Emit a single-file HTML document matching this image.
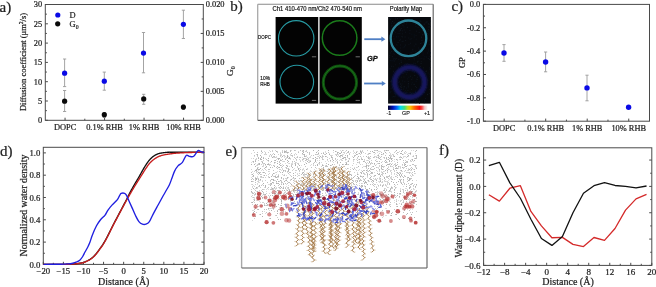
<!DOCTYPE html>
<html><head><meta charset="utf-8"><style>
html,body{margin:0;padding:0;background:#fff;}
body{width:656px;height:287px;overflow:hidden;}
svg{display:block;filter:blur(0.3px);}
</style></head><body>
<svg width="656" height="287" viewBox="0 0 656 287">
<rect width="656" height="287" fill="#fff"/>
<rect x="45.30" y="4.50" width="158.00" height="115.80" fill="none" stroke="#4a4a4a" stroke-width="1"/>
<line x1="45.30" y1="120.30" x2="47.90" y2="120.30" stroke="#4a4a4a" stroke-width="1" />
<text x="42.10" y="123.20" font-size="8.4" text-anchor="end" font-family="Liberation Serif" fill="#222"  stroke="#222" stroke-width="0.22">0</text>
<line x1="45.30" y1="110.65" x2="46.90" y2="110.65" stroke="#4a4a4a" stroke-width="1" />
<line x1="45.30" y1="101.00" x2="47.90" y2="101.00" stroke="#4a4a4a" stroke-width="1" />
<text x="42.10" y="103.90" font-size="8.4" text-anchor="end" font-family="Liberation Serif" fill="#222"  stroke="#222" stroke-width="0.22">5</text>
<line x1="45.30" y1="91.35" x2="46.90" y2="91.35" stroke="#4a4a4a" stroke-width="1" />
<line x1="45.30" y1="81.70" x2="47.90" y2="81.70" stroke="#4a4a4a" stroke-width="1" />
<text x="42.10" y="84.60" font-size="8.4" text-anchor="end" font-family="Liberation Serif" fill="#222"  stroke="#222" stroke-width="0.22">10</text>
<line x1="45.30" y1="72.05" x2="46.90" y2="72.05" stroke="#4a4a4a" stroke-width="1" />
<line x1="45.30" y1="62.40" x2="47.90" y2="62.40" stroke="#4a4a4a" stroke-width="1" />
<text x="42.10" y="65.30" font-size="8.4" text-anchor="end" font-family="Liberation Serif" fill="#222"  stroke="#222" stroke-width="0.22">15</text>
<line x1="45.30" y1="52.75" x2="46.90" y2="52.75" stroke="#4a4a4a" stroke-width="1" />
<line x1="45.30" y1="43.10" x2="47.90" y2="43.10" stroke="#4a4a4a" stroke-width="1" />
<text x="42.10" y="46.00" font-size="8.4" text-anchor="end" font-family="Liberation Serif" fill="#222"  stroke="#222" stroke-width="0.22">20</text>
<line x1="45.30" y1="33.45" x2="46.90" y2="33.45" stroke="#4a4a4a" stroke-width="1" />
<line x1="45.30" y1="23.80" x2="47.90" y2="23.80" stroke="#4a4a4a" stroke-width="1" />
<text x="42.10" y="26.70" font-size="8.4" text-anchor="end" font-family="Liberation Serif" fill="#222"  stroke="#222" stroke-width="0.22">25</text>
<line x1="45.30" y1="14.15" x2="46.90" y2="14.15" stroke="#4a4a4a" stroke-width="1" />
<line x1="45.30" y1="4.50" x2="47.90" y2="4.50" stroke="#4a4a4a" stroke-width="1" />
<text x="42.10" y="7.40" font-size="8.4" text-anchor="end" font-family="Liberation Serif" fill="#222"  stroke="#222" stroke-width="0.22">30</text>
<line x1="203.30" y1="120.30" x2="200.70" y2="120.30" stroke="#4a4a4a" stroke-width="1" />
<text x="205.70" y="123.20" font-size="8.4" text-anchor="start" font-family="Liberation Serif" fill="#222"  stroke="#222" stroke-width="0.22">0.000</text>
<line x1="203.30" y1="105.83" x2="201.70" y2="105.83" stroke="#4a4a4a" stroke-width="1" />
<line x1="203.30" y1="91.35" x2="200.70" y2="91.35" stroke="#4a4a4a" stroke-width="1" />
<text x="205.70" y="94.25" font-size="8.4" text-anchor="start" font-family="Liberation Serif" fill="#222"  stroke="#222" stroke-width="0.22">0.005</text>
<line x1="203.30" y1="76.88" x2="201.70" y2="76.88" stroke="#4a4a4a" stroke-width="1" />
<line x1="203.30" y1="62.40" x2="200.70" y2="62.40" stroke="#4a4a4a" stroke-width="1" />
<text x="205.70" y="65.30" font-size="8.4" text-anchor="start" font-family="Liberation Serif" fill="#222"  stroke="#222" stroke-width="0.22">0.010</text>
<line x1="203.30" y1="47.92" x2="201.70" y2="47.92" stroke="#4a4a4a" stroke-width="1" />
<line x1="203.30" y1="33.45" x2="200.70" y2="33.45" stroke="#4a4a4a" stroke-width="1" />
<text x="205.70" y="36.35" font-size="8.4" text-anchor="start" font-family="Liberation Serif" fill="#222"  stroke="#222" stroke-width="0.22">0.015</text>
<line x1="203.30" y1="18.97" x2="201.70" y2="18.97" stroke="#4a4a4a" stroke-width="1" />
<line x1="203.30" y1="4.50" x2="200.70" y2="4.50" stroke="#4a4a4a" stroke-width="1" />
<text x="205.70" y="7.40" font-size="8.4" text-anchor="start" font-family="Liberation Serif" fill="#222"  stroke="#222" stroke-width="0.22">0.020</text>
<line x1="65.05" y1="120.30" x2="65.05" y2="117.70" stroke="#4a4a4a" stroke-width="1" />
<text x="65.05" y="129.90" font-size="8.4" text-anchor="middle" font-family="Liberation Serif" fill="#222"  stroke="#222" stroke-width="0.22">DOPC</text>
<line x1="84.80" y1="120.30" x2="84.80" y2="118.70" stroke="#4a4a4a" stroke-width="1" />
<line x1="104.55" y1="120.30" x2="104.55" y2="117.70" stroke="#4a4a4a" stroke-width="1" />
<text x="104.55" y="129.90" font-size="8.4" text-anchor="middle" font-family="Liberation Serif" fill="#222"  stroke="#222" stroke-width="0.22">0.1% RHB</text>
<line x1="124.30" y1="120.30" x2="124.30" y2="118.70" stroke="#4a4a4a" stroke-width="1" />
<line x1="144.05" y1="120.30" x2="144.05" y2="117.70" stroke="#4a4a4a" stroke-width="1" />
<text x="144.05" y="129.90" font-size="8.4" text-anchor="middle" font-family="Liberation Serif" fill="#222"  stroke="#222" stroke-width="0.22">1% RHB</text>
<line x1="163.80" y1="120.30" x2="163.80" y2="118.70" stroke="#4a4a4a" stroke-width="1" />
<line x1="183.55" y1="120.30" x2="183.55" y2="117.70" stroke="#4a4a4a" stroke-width="1" />
<text x="183.55" y="129.90" font-size="8.4" text-anchor="middle" font-family="Liberation Serif" fill="#222"  stroke="#222" stroke-width="0.22">10% RHB</text>
<line x1="64.60" y1="59.00" x2="64.60" y2="86.60" stroke="#9a9a9a" stroke-width="0.9" />
<line x1="63.00" y1="59.00" x2="66.20" y2="59.00" stroke="#9a9a9a" stroke-width="0.9" />
<line x1="63.00" y1="86.60" x2="66.20" y2="86.60" stroke="#9a9a9a" stroke-width="0.9" />
<line x1="104.30" y1="72.10" x2="104.30" y2="90.20" stroke="#9a9a9a" stroke-width="0.9" />
<line x1="102.70" y1="72.10" x2="105.90" y2="72.10" stroke="#9a9a9a" stroke-width="0.9" />
<line x1="102.70" y1="90.20" x2="105.90" y2="90.20" stroke="#9a9a9a" stroke-width="0.9" />
<line x1="143.50" y1="32.50" x2="143.50" y2="72.80" stroke="#9a9a9a" stroke-width="0.9" />
<line x1="141.90" y1="32.50" x2="145.10" y2="32.50" stroke="#9a9a9a" stroke-width="0.9" />
<line x1="141.90" y1="72.80" x2="145.10" y2="72.80" stroke="#9a9a9a" stroke-width="0.9" />
<line x1="183.40" y1="10.20" x2="183.40" y2="38.50" stroke="#9a9a9a" stroke-width="0.9" />
<line x1="181.80" y1="10.20" x2="185.00" y2="10.20" stroke="#9a9a9a" stroke-width="0.9" />
<line x1="181.80" y1="38.50" x2="185.00" y2="38.50" stroke="#9a9a9a" stroke-width="0.9" />
<line x1="64.60" y1="90.50" x2="64.60" y2="111.50" stroke="#9a9a9a" stroke-width="0.9" />
<line x1="63.00" y1="90.50" x2="66.20" y2="90.50" stroke="#9a9a9a" stroke-width="0.9" />
<line x1="63.00" y1="111.50" x2="66.20" y2="111.50" stroke="#9a9a9a" stroke-width="0.9" />
<line x1="104.30" y1="112.50" x2="104.30" y2="117.50" stroke="#9a9a9a" stroke-width="0.9" />
<line x1="102.70" y1="112.50" x2="105.90" y2="112.50" stroke="#9a9a9a" stroke-width="0.9" />
<line x1="102.70" y1="117.50" x2="105.90" y2="117.50" stroke="#9a9a9a" stroke-width="0.9" />
<line x1="143.70" y1="94.30" x2="143.70" y2="104.30" stroke="#9a9a9a" stroke-width="0.9" />
<line x1="142.10" y1="94.30" x2="145.30" y2="94.30" stroke="#9a9a9a" stroke-width="0.9" />
<line x1="142.10" y1="104.30" x2="145.30" y2="104.30" stroke="#9a9a9a" stroke-width="0.9" />
<line x1="183.40" y1="105.00" x2="183.40" y2="109.50" stroke="#9a9a9a" stroke-width="0.9" />
<line x1="181.80" y1="105.00" x2="185.00" y2="105.00" stroke="#9a9a9a" stroke-width="0.9" />
<line x1="181.80" y1="109.50" x2="185.00" y2="109.50" stroke="#9a9a9a" stroke-width="0.9" />
<circle cx="64.60" cy="73.20" r="2.6" fill="#0a0ae6"/>
<circle cx="104.30" cy="81.20" r="2.6" fill="#0a0ae6"/>
<circle cx="143.50" cy="53.10" r="2.6" fill="#0a0ae6"/>
<circle cx="183.40" cy="24.30" r="2.6" fill="#0a0ae6"/>
<circle cx="64.60" cy="101.20" r="2.6" fill="#0a0a0a"/>
<circle cx="104.30" cy="114.70" r="2.6" fill="#0a0a0a"/>
<circle cx="143.70" cy="98.90" r="2.6" fill="#0a0a0a"/>
<circle cx="183.40" cy="107.10" r="2.6" fill="#0a0a0a"/>
<circle cx="57.80" cy="15.00" r="2.6" fill="#0a0ae6"/>
<circle cx="57.70" cy="23.80" r="2.6" fill="#0a0a0a"/>
<text x="69.60" y="17.90" font-size="8.4" text-anchor="start" font-family="Liberation Serif" fill="#222"  stroke="#222" stroke-width="0.22">D</text>
<text x="69.60" y="26.60" font-size="8.4" text-anchor="start" font-family="Liberation Serif" fill="#222"  stroke="#222" stroke-width="0.22">G<tspan font-size="5.8" dy="2.2">0</tspan></text>
<text transform="translate(26.4,62) rotate(-90)" font-size="8.5" text-anchor="middle" font-family="Liberation Serif" fill="#222" stroke="#222" stroke-width="0.22">Diffusion coefficient (μm<tspan font-size="5.6" dy="-3">2</tspan><tspan dy="3">/s)</tspan></text>
<text transform="translate(232.6,71.2) rotate(-90)" font-size="9.2" text-anchor="middle" font-family="Liberation Serif" fill="#222" stroke="#222" stroke-width="0.22">G<tspan font-size="5.8" dy="2.2">0</tspan></text>
<text x="-0.50" y="11.60" font-size="15" text-anchor="start" font-family="Liberation Serif" fill="#222"  stroke="#222" stroke-width="0.22">a)</text>
<rect x="483.40" y="4.40" width="166.10" height="116.80" fill="none" stroke="#4a4a4a" stroke-width="1"/>
<line x1="483.40" y1="4.40" x2="486.00" y2="4.40" stroke="#4a4a4a" stroke-width="1" />
<text x="480.20" y="7.30" font-size="8.4" text-anchor="end" font-family="Liberation Serif" fill="#222"  stroke="#222" stroke-width="0.22">0.0</text>
<line x1="483.40" y1="16.08" x2="485.00" y2="16.08" stroke="#4a4a4a" stroke-width="1" />
<line x1="483.40" y1="27.76" x2="486.00" y2="27.76" stroke="#4a4a4a" stroke-width="1" />
<text x="480.20" y="30.66" font-size="8.4" text-anchor="end" font-family="Liberation Serif" fill="#222"  stroke="#222" stroke-width="0.22">-0.2</text>
<line x1="483.40" y1="39.44" x2="485.00" y2="39.44" stroke="#4a4a4a" stroke-width="1" />
<line x1="483.40" y1="51.12" x2="486.00" y2="51.12" stroke="#4a4a4a" stroke-width="1" />
<text x="480.20" y="54.02" font-size="8.4" text-anchor="end" font-family="Liberation Serif" fill="#222"  stroke="#222" stroke-width="0.22">-0.4</text>
<line x1="483.40" y1="62.80" x2="485.00" y2="62.80" stroke="#4a4a4a" stroke-width="1" />
<line x1="483.40" y1="74.48" x2="486.00" y2="74.48" stroke="#4a4a4a" stroke-width="1" />
<text x="480.20" y="77.38" font-size="8.4" text-anchor="end" font-family="Liberation Serif" fill="#222"  stroke="#222" stroke-width="0.22">-0.6</text>
<line x1="483.40" y1="86.16" x2="485.00" y2="86.16" stroke="#4a4a4a" stroke-width="1" />
<line x1="483.40" y1="97.84" x2="486.00" y2="97.84" stroke="#4a4a4a" stroke-width="1" />
<text x="480.20" y="100.74" font-size="8.4" text-anchor="end" font-family="Liberation Serif" fill="#222"  stroke="#222" stroke-width="0.22">-0.8</text>
<line x1="483.40" y1="109.52" x2="485.00" y2="109.52" stroke="#4a4a4a" stroke-width="1" />
<line x1="483.40" y1="121.20" x2="486.00" y2="121.20" stroke="#4a4a4a" stroke-width="1" />
<text x="480.20" y="124.10" font-size="8.4" text-anchor="end" font-family="Liberation Serif" fill="#222"  stroke="#222" stroke-width="0.22">-1.0</text>
<line x1="504.16" y1="121.20" x2="504.16" y2="118.60" stroke="#4a4a4a" stroke-width="1" />
<text x="504.16" y="130.80" font-size="8.4" text-anchor="middle" font-family="Liberation Serif" fill="#222"  stroke="#222" stroke-width="0.22">DOPC</text>
<line x1="524.92" y1="121.20" x2="524.92" y2="119.60" stroke="#4a4a4a" stroke-width="1" />
<line x1="545.69" y1="121.20" x2="545.69" y2="118.60" stroke="#4a4a4a" stroke-width="1" />
<text x="545.69" y="130.80" font-size="8.4" text-anchor="middle" font-family="Liberation Serif" fill="#222"  stroke="#222" stroke-width="0.22">0.1% RHB</text>
<line x1="566.45" y1="121.20" x2="566.45" y2="119.60" stroke="#4a4a4a" stroke-width="1" />
<line x1="587.21" y1="121.20" x2="587.21" y2="118.60" stroke="#4a4a4a" stroke-width="1" />
<text x="587.21" y="130.80" font-size="8.4" text-anchor="middle" font-family="Liberation Serif" fill="#222"  stroke="#222" stroke-width="0.22">1% RHB</text>
<line x1="607.98" y1="121.20" x2="607.98" y2="119.60" stroke="#4a4a4a" stroke-width="1" />
<line x1="628.74" y1="121.20" x2="628.74" y2="118.60" stroke="#4a4a4a" stroke-width="1" />
<text x="628.74" y="130.80" font-size="8.4" text-anchor="middle" font-family="Liberation Serif" fill="#222"  stroke="#222" stroke-width="0.22">10% RHB</text>
<line x1="504.00" y1="44.60" x2="504.00" y2="61.30" stroke="#9a9a9a" stroke-width="0.9" />
<line x1="502.40" y1="44.60" x2="505.60" y2="44.60" stroke="#9a9a9a" stroke-width="0.9" />
<line x1="502.40" y1="61.30" x2="505.60" y2="61.30" stroke="#9a9a9a" stroke-width="0.9" />
<line x1="545.60" y1="52.00" x2="545.60" y2="71.80" stroke="#9a9a9a" stroke-width="0.9" />
<line x1="544.00" y1="52.00" x2="547.20" y2="52.00" stroke="#9a9a9a" stroke-width="0.9" />
<line x1="544.00" y1="71.80" x2="547.20" y2="71.80" stroke="#9a9a9a" stroke-width="0.9" />
<line x1="587.00" y1="75.20" x2="587.00" y2="100.80" stroke="#9a9a9a" stroke-width="0.9" />
<line x1="585.40" y1="75.20" x2="588.60" y2="75.20" stroke="#9a9a9a" stroke-width="0.9" />
<line x1="585.40" y1="100.80" x2="588.60" y2="100.80" stroke="#9a9a9a" stroke-width="0.9" />
<circle cx="504.00" cy="53.00" r="2.7" fill="#0a0ae6"/>
<circle cx="545.60" cy="62.00" r="2.7" fill="#0a0ae6"/>
<circle cx="587.00" cy="87.90" r="2.7" fill="#0a0ae6"/>
<circle cx="628.60" cy="107.20" r="2.7" fill="#0a0ae6"/>
<text transform="translate(465,62.6) rotate(-90)" font-size="8.5" text-anchor="middle" font-family="Liberation Serif" fill="#222" stroke="#222" stroke-width="0.22">GP</text>
<text x="451.40" y="11.20" font-size="15" text-anchor="start" font-family="Liberation Serif" fill="#222"  stroke="#222" stroke-width="0.22">c)</text>
<rect x="43.30" y="147.30" width="160.70" height="117.10" fill="none" stroke="#4a4a4a" stroke-width="1"/>
<line x1="43.30" y1="264.40" x2="43.30" y2="261.80" stroke="#4a4a4a" stroke-width="1" />
<text x="43.30" y="274.10" font-size="8.7" text-anchor="middle" font-family="Liberation Serif" fill="#222"  stroke="#222" stroke-width="0.22">−20</text>
<line x1="53.34" y1="264.40" x2="53.34" y2="262.80" stroke="#4a4a4a" stroke-width="1" />
<line x1="63.39" y1="264.40" x2="63.39" y2="261.80" stroke="#4a4a4a" stroke-width="1" />
<text x="63.39" y="274.10" font-size="8.7" text-anchor="middle" font-family="Liberation Serif" fill="#222"  stroke="#222" stroke-width="0.22">−15</text>
<line x1="73.43" y1="264.40" x2="73.43" y2="262.80" stroke="#4a4a4a" stroke-width="1" />
<line x1="83.47" y1="264.40" x2="83.47" y2="261.80" stroke="#4a4a4a" stroke-width="1" />
<text x="83.47" y="274.10" font-size="8.7" text-anchor="middle" font-family="Liberation Serif" fill="#222"  stroke="#222" stroke-width="0.22">−10</text>
<line x1="93.52" y1="264.40" x2="93.52" y2="262.80" stroke="#4a4a4a" stroke-width="1" />
<line x1="103.56" y1="264.40" x2="103.56" y2="261.80" stroke="#4a4a4a" stroke-width="1" />
<text x="103.56" y="274.10" font-size="8.7" text-anchor="middle" font-family="Liberation Serif" fill="#222"  stroke="#222" stroke-width="0.22">−5</text>
<line x1="113.61" y1="264.40" x2="113.61" y2="262.80" stroke="#4a4a4a" stroke-width="1" />
<line x1="123.65" y1="264.40" x2="123.65" y2="261.80" stroke="#4a4a4a" stroke-width="1" />
<text x="123.65" y="274.10" font-size="8.7" text-anchor="middle" font-family="Liberation Serif" fill="#222"  stroke="#222" stroke-width="0.22">0</text>
<line x1="133.69" y1="264.40" x2="133.69" y2="262.80" stroke="#4a4a4a" stroke-width="1" />
<line x1="143.74" y1="264.40" x2="143.74" y2="261.80" stroke="#4a4a4a" stroke-width="1" />
<text x="143.74" y="274.10" font-size="8.7" text-anchor="middle" font-family="Liberation Serif" fill="#222"  stroke="#222" stroke-width="0.22">5</text>
<line x1="153.78" y1="264.40" x2="153.78" y2="262.80" stroke="#4a4a4a" stroke-width="1" />
<line x1="163.82" y1="264.40" x2="163.82" y2="261.80" stroke="#4a4a4a" stroke-width="1" />
<text x="163.82" y="274.10" font-size="8.7" text-anchor="middle" font-family="Liberation Serif" fill="#222"  stroke="#222" stroke-width="0.22">10</text>
<line x1="173.87" y1="264.40" x2="173.87" y2="262.80" stroke="#4a4a4a" stroke-width="1" />
<line x1="183.91" y1="264.40" x2="183.91" y2="261.80" stroke="#4a4a4a" stroke-width="1" />
<text x="183.91" y="274.10" font-size="8.7" text-anchor="middle" font-family="Liberation Serif" fill="#222"  stroke="#222" stroke-width="0.22">15</text>
<line x1="193.96" y1="264.40" x2="193.96" y2="262.80" stroke="#4a4a4a" stroke-width="1" />
<line x1="204.00" y1="264.40" x2="204.00" y2="261.80" stroke="#4a4a4a" stroke-width="1" />
<text x="204.00" y="274.10" font-size="8.7" text-anchor="middle" font-family="Liberation Serif" fill="#222"  stroke="#222" stroke-width="0.22">20</text>
<line x1="43.30" y1="264.40" x2="45.90" y2="264.40" stroke="#4a4a4a" stroke-width="1" />
<line x1="204.00" y1="264.40" x2="201.40" y2="264.40" stroke="#4a4a4a" stroke-width="1" />
<text x="40.30" y="267.70" font-size="8.7" text-anchor="end" font-family="Liberation Serif" fill="#222"  stroke="#222" stroke-width="0.22">0.0</text>
<line x1="43.30" y1="253.25" x2="44.90" y2="253.25" stroke="#4a4a4a" stroke-width="1" />
<line x1="204.00" y1="253.25" x2="202.40" y2="253.25" stroke="#4a4a4a" stroke-width="1" />
<line x1="43.30" y1="242.10" x2="45.90" y2="242.10" stroke="#4a4a4a" stroke-width="1" />
<line x1="204.00" y1="242.10" x2="201.40" y2="242.10" stroke="#4a4a4a" stroke-width="1" />
<text x="40.30" y="245.40" font-size="8.7" text-anchor="end" font-family="Liberation Serif" fill="#222"  stroke="#222" stroke-width="0.22">0.2</text>
<line x1="43.30" y1="230.94" x2="44.90" y2="230.94" stroke="#4a4a4a" stroke-width="1" />
<line x1="204.00" y1="230.94" x2="202.40" y2="230.94" stroke="#4a4a4a" stroke-width="1" />
<line x1="43.30" y1="219.79" x2="45.90" y2="219.79" stroke="#4a4a4a" stroke-width="1" />
<line x1="204.00" y1="219.79" x2="201.40" y2="219.79" stroke="#4a4a4a" stroke-width="1" />
<text x="40.30" y="223.09" font-size="8.7" text-anchor="end" font-family="Liberation Serif" fill="#222"  stroke="#222" stroke-width="0.22">0.4</text>
<line x1="43.30" y1="208.64" x2="44.90" y2="208.64" stroke="#4a4a4a" stroke-width="1" />
<line x1="204.00" y1="208.64" x2="202.40" y2="208.64" stroke="#4a4a4a" stroke-width="1" />
<line x1="43.30" y1="197.49" x2="45.90" y2="197.49" stroke="#4a4a4a" stroke-width="1" />
<line x1="204.00" y1="197.49" x2="201.40" y2="197.49" stroke="#4a4a4a" stroke-width="1" />
<text x="40.30" y="200.79" font-size="8.7" text-anchor="end" font-family="Liberation Serif" fill="#222"  stroke="#222" stroke-width="0.22">0.6</text>
<line x1="43.30" y1="186.33" x2="44.90" y2="186.33" stroke="#4a4a4a" stroke-width="1" />
<line x1="204.00" y1="186.33" x2="202.40" y2="186.33" stroke="#4a4a4a" stroke-width="1" />
<line x1="43.30" y1="175.18" x2="45.90" y2="175.18" stroke="#4a4a4a" stroke-width="1" />
<line x1="204.00" y1="175.18" x2="201.40" y2="175.18" stroke="#4a4a4a" stroke-width="1" />
<text x="40.30" y="178.48" font-size="8.7" text-anchor="end" font-family="Liberation Serif" fill="#222"  stroke="#222" stroke-width="0.22">0.8</text>
<line x1="43.30" y1="164.03" x2="44.90" y2="164.03" stroke="#4a4a4a" stroke-width="1" />
<line x1="204.00" y1="164.03" x2="202.40" y2="164.03" stroke="#4a4a4a" stroke-width="1" />
<line x1="43.30" y1="152.88" x2="45.90" y2="152.88" stroke="#4a4a4a" stroke-width="1" />
<line x1="204.00" y1="152.88" x2="201.40" y2="152.88" stroke="#4a4a4a" stroke-width="1" />
<text x="40.30" y="156.18" font-size="8.7" text-anchor="end" font-family="Liberation Serif" fill="#222"  stroke="#222" stroke-width="0.22">1.0</text>
<text x="123.75" y="285.30" font-size="10" text-anchor="middle" font-family="Liberation Serif" fill="#222"  stroke="#222" stroke-width="0.22">Distance (Å)</text>
<text transform="translate(26.6,205.5) rotate(-90)" font-size="9.9" text-anchor="middle" font-family="Liberation Serif" fill="#222" stroke="#222" stroke-width="0.22">Normalized water density</text>
<text x="0.00" y="155.90" font-size="15" text-anchor="start" font-family="Liberation Serif" fill="#222"  stroke="#222" stroke-width="0.22">d)</text>
<path d="M43.80,264.40 L44.30,264.40 L44.81,264.40 L45.31,264.39 L45.82,264.39 L46.32,264.39 L46.83,264.39 L47.33,264.39 L47.84,264.38 L48.34,264.38 L48.85,264.38 L49.35,264.38 L49.85,264.38 L50.36,264.38 L50.86,264.38 L51.37,264.37 L51.87,264.37 L52.38,264.37 L52.88,264.37 L53.39,264.37 L53.89,264.37 L54.40,264.36 L54.90,264.36 L55.40,264.36 L55.91,264.36 L56.41,264.36 L56.92,264.36 L57.42,264.35 L57.93,264.35 L58.43,264.35 L58.94,264.35 L59.44,264.34 L59.95,264.34 L60.45,264.34 L60.95,264.34 L61.46,264.33 L61.96,264.33 L62.47,264.33 L62.97,264.32 L63.48,264.32 L63.98,264.32 L64.49,264.31 L64.99,264.31 L65.50,264.30 L66.00,264.30 L66.50,264.29 L67.00,264.29 L67.50,264.28 L68.00,264.27 L68.50,264.25 L69.00,264.24 L69.50,264.22 L70.00,264.20 L70.50,264.18 L71.00,264.16 L71.50,264.14 L72.00,264.11 L72.50,264.09 L73.00,264.06 L73.50,264.03 L74.00,264.00 L74.50,263.96 L75.00,263.91 L75.50,263.86 L76.00,263.79 L76.50,263.72 L77.00,263.65 L77.50,263.57 L78.00,263.50 L78.50,263.43 L79.00,263.35 L79.50,263.27 L80.00,263.19 L80.50,263.11 L81.00,263.01 L81.50,262.91 L82.00,262.80 L82.50,262.68 L83.00,262.54 L83.50,262.38 L84.00,262.22 L84.50,262.04 L85.00,261.85 L85.50,261.65 L86.00,261.44 L86.50,261.23 L87.00,261.00 L87.52,260.75 L88.04,260.48 L88.56,260.19 L89.08,259.89 L89.60,259.56 L90.12,259.22 L90.64,258.86 L91.16,258.49 L91.68,258.10 L92.20,257.70 L92.74,257.25 L93.29,256.77 L93.83,256.24 L94.37,255.69 L94.91,255.11 L95.46,254.51 L96.00,253.90 L96.51,253.29 L97.03,252.64 L97.54,251.95 L98.06,251.25 L98.57,250.53 L99.09,249.81 L99.60,249.10 L100.13,248.38 L100.67,247.66 L101.20,246.93 L101.73,246.19 L102.27,245.41 L102.80,244.60 L103.30,243.79 L103.81,242.96 L104.31,242.11 L104.82,241.23 L105.32,240.33 L105.83,239.41 L106.33,238.47 L106.83,237.52 L107.34,236.56 L107.84,235.58 L108.35,234.59 L108.85,233.60 L109.35,232.59 L109.86,231.59 L110.36,230.57 L110.87,229.56 L111.37,228.55 L111.88,227.53 L112.38,226.53 L112.88,225.52 L113.39,224.53 L113.89,223.54 L114.40,222.56 L114.90,221.60 L115.41,220.63 L115.93,219.66 L116.44,218.69 L116.95,217.72 L117.47,216.75 L117.98,215.79 L118.49,214.83 L119.00,213.86 L119.52,212.90 L120.03,211.93 L120.54,210.97 L121.06,210.00 L121.57,209.03 L122.08,208.06 L122.60,207.09 L123.11,206.12 L123.62,205.14 L124.13,204.16 L124.65,203.18 L125.16,202.19 L125.67,201.20 L126.19,200.20 L126.70,199.20 L127.25,198.11 L127.80,197.00 L128.35,195.88 L128.90,194.76 L129.45,193.67 L130.00,192.60 L130.53,191.61 L131.05,190.63 L131.57,189.67 L132.10,188.72 L132.62,187.78 L133.15,186.84 L133.67,185.92 L134.20,185.00 L134.70,184.13 L135.20,183.28 L135.70,182.44 L136.20,181.60 L136.70,180.77 L137.20,179.94 L137.70,179.10 L138.20,178.25 L138.70,177.40 L139.22,176.50 L139.73,175.58 L140.25,174.65 L140.77,173.71 L141.28,172.76 L141.80,171.82 L142.32,170.89 L142.83,169.97 L143.35,169.06 L143.87,168.18 L144.38,167.32 L144.90,166.50 L145.44,165.65 L145.99,164.80 L146.53,163.97 L147.08,163.15 L147.62,162.35 L148.17,161.59 L148.71,160.88 L149.26,160.21 L149.80,159.60 L150.33,159.04 L150.87,158.50 L151.40,157.98 L151.93,157.49 L152.47,157.03 L153.00,156.59 L153.53,156.19 L154.07,155.83 L154.60,155.50 L155.14,155.19 L155.69,154.90 L156.23,154.62 L156.78,154.36 L157.32,154.12 L157.87,153.90 L158.41,153.71 L158.96,153.54 L159.50,153.40 L160.04,153.28 L160.57,153.17 L161.11,153.07 L161.65,152.98 L162.18,152.90 L162.72,152.82 L163.25,152.74 L163.79,152.68 L164.33,152.61 L164.86,152.56 L165.40,152.50 L165.96,152.44 L166.51,152.38 L167.07,152.33 L167.63,152.28 L168.19,152.24 L168.74,152.21 L169.30,152.20 L169.80,152.20 L170.31,152.20 L170.81,152.20 L171.32,152.20 L171.82,152.20 L172.33,152.20 L172.83,152.20 L173.34,152.20 L173.84,152.20 L174.34,152.20 L174.85,152.20 L175.35,152.20 L175.86,152.20 L176.36,152.20 L176.87,152.20 L177.37,152.20 L177.88,152.20 L178.38,152.20 L178.88,152.20 L179.39,152.20 L179.89,152.20 L180.40,152.20 L180.90,152.20 L181.41,152.20 L181.91,152.20 L182.41,152.20 L182.92,152.20 L183.42,152.20 L183.93,152.20 L184.43,152.20 L184.94,152.20 L185.44,152.20 L185.95,152.20 L186.45,152.20 L186.95,152.20 L187.46,152.20 L187.96,152.20 L188.47,152.20 L188.97,152.20 L189.48,152.20 L189.98,152.20 L190.49,152.20 L190.99,152.20 L191.49,152.20 L192.00,152.20 L192.50,152.20 L193.01,152.20 L193.51,152.20 L194.02,152.20 L194.52,152.20 L195.03,152.20 L195.53,152.20 L196.03,152.20 L196.54,152.20 L197.04,152.20 L197.55,152.20 L198.05,152.20 L198.56,152.20 L199.06,152.20 L199.56,152.20 L200.07,152.20 L200.57,152.20 L201.08,152.20 L201.58,152.20 L202.09,152.20 L202.59,152.20 L203.10,152.20 L203.60,152.20" fill="none" stroke="#111" stroke-width="1.35" stroke-linejoin="round" stroke-linecap="round" />
<path d="M43.80,264.40 L44.30,264.40 L44.81,264.40 L45.31,264.39 L45.82,264.39 L46.32,264.39 L46.83,264.39 L47.33,264.39 L47.84,264.38 L48.34,264.38 L48.85,264.38 L49.35,264.38 L49.85,264.38 L50.36,264.38 L50.86,264.38 L51.37,264.37 L51.87,264.37 L52.38,264.37 L52.88,264.37 L53.39,264.37 L53.89,264.37 L54.40,264.36 L54.90,264.36 L55.40,264.36 L55.91,264.36 L56.41,264.36 L56.92,264.36 L57.42,264.35 L57.93,264.35 L58.43,264.35 L58.94,264.35 L59.44,264.34 L59.95,264.34 L60.45,264.34 L60.95,264.34 L61.46,264.33 L61.96,264.33 L62.47,264.33 L62.97,264.32 L63.48,264.32 L63.98,264.32 L64.49,264.31 L64.99,264.31 L65.50,264.30 L66.00,264.30 L66.50,264.29 L67.00,264.29 L67.50,264.28 L68.00,264.26 L68.50,264.25 L69.00,264.23 L69.50,264.22 L70.00,264.20 L70.50,264.18 L71.00,264.16 L71.50,264.13 L72.00,264.11 L72.50,264.08 L73.00,264.06 L73.50,264.03 L74.00,264.00 L74.50,263.97 L75.00,263.93 L75.50,263.88 L76.00,263.83 L76.50,263.78 L77.00,263.72 L77.50,263.66 L78.00,263.60 L78.50,263.54 L79.00,263.48 L79.50,263.41 L80.00,263.34 L80.50,263.27 L81.00,263.19 L81.50,263.10 L82.00,263.00 L82.50,262.89 L83.00,262.75 L83.50,262.60 L84.00,262.43 L84.50,262.25 L85.00,262.06 L85.50,261.86 L86.00,261.64 L86.50,261.42 L87.00,261.20 L87.52,260.96 L88.04,260.69 L88.56,260.41 L89.08,260.12 L89.60,259.81 L90.12,259.48 L90.64,259.13 L91.16,258.77 L91.68,258.39 L92.20,258.00 L92.74,257.56 L93.29,257.07 L93.83,256.55 L94.37,256.00 L94.91,255.42 L95.46,254.82 L96.00,254.20 L96.51,253.59 L97.03,252.93 L97.54,252.25 L98.06,251.54 L98.57,250.82 L99.09,250.11 L99.60,249.40 L100.13,248.69 L100.67,247.98 L101.20,247.28 L101.73,246.55 L102.27,245.80 L102.80,245.00 L103.30,244.20 L103.81,243.38 L104.31,242.53 L104.82,241.66 L105.32,240.76 L105.83,239.84 L106.33,238.90 L106.83,237.95 L107.34,236.98 L107.84,236.00 L108.35,235.01 L108.85,234.01 L109.35,233.00 L109.86,231.98 L110.36,230.97 L110.87,229.95 L111.37,228.93 L111.88,227.92 L112.38,226.91 L112.88,225.91 L113.39,224.91 L113.89,223.93 L114.40,222.96 L114.90,222.00 L115.41,221.03 L115.93,220.07 L116.44,219.10 L116.95,218.13 L117.47,217.16 L117.98,216.19 L118.49,215.22 L119.00,214.26 L119.52,213.29 L120.03,212.32 L120.54,211.36 L121.06,210.40 L121.57,209.44 L122.08,208.48 L122.60,207.52 L123.11,206.57 L123.62,205.62 L124.13,204.67 L124.65,203.73 L125.16,202.79 L125.67,201.86 L126.19,200.93 L126.70,200.00 L127.25,199.01 L127.80,198.04 L128.35,197.07 L128.90,196.11 L129.45,195.15 L130.00,194.20 L130.52,193.30 L131.04,192.41 L131.56,191.52 L132.08,190.63 L132.60,189.74 L133.12,188.86 L133.64,187.99 L134.16,187.12 L134.68,186.26 L135.20,185.40 L135.72,184.55 L136.25,183.70 L136.77,182.86 L137.29,182.02 L137.82,181.19 L138.34,180.37 L138.86,179.54 L139.38,178.72 L139.91,177.90 L140.43,177.08 L140.95,176.25 L141.48,175.43 L142.00,174.60 L142.56,173.71 L143.11,172.80 L143.67,171.89 L144.23,170.99 L144.79,170.10 L145.34,169.23 L145.90,168.40 L146.46,167.58 L147.01,166.76 L147.57,165.95 L148.13,165.17 L148.69,164.43 L149.24,163.73 L149.80,163.10 L150.33,162.54 L150.87,162.00 L151.40,161.49 L151.93,161.00 L152.47,160.53 L153.00,160.09 L153.53,159.67 L154.07,159.27 L154.60,158.90 L155.14,158.54 L155.69,158.18 L156.23,157.85 L156.78,157.52 L157.32,157.21 L157.87,156.93 L158.41,156.66 L158.96,156.42 L159.50,156.20 L160.04,156.00 L160.59,155.81 L161.13,155.64 L161.68,155.47 L162.22,155.32 L162.77,155.18 L163.31,155.04 L163.86,154.92 L164.40,154.80 L164.94,154.69 L165.49,154.59 L166.03,154.49 L166.58,154.40 L167.12,154.32 L167.67,154.23 L168.21,154.16 L168.76,154.08 L169.30,154.00 L169.83,153.92 L170.37,153.85 L170.90,153.78 L171.43,153.71 L171.97,153.64 L172.50,153.58 L173.03,153.51 L173.57,153.45 L174.10,153.40 L174.64,153.35 L175.19,153.30 L175.73,153.25 L176.28,153.20 L176.82,153.15 L177.37,153.11 L177.91,153.07 L178.46,153.03 L179.00,153.00 L179.50,152.97 L180.00,152.94 L180.50,152.91 L181.00,152.88 L181.50,152.85 L182.00,152.83 L182.50,152.80 L183.00,152.77 L183.50,152.75 L184.00,152.72 L184.50,152.70 L185.00,152.67 L185.50,152.65 L186.00,152.63 L186.50,152.61 L187.00,152.59 L187.50,152.57 L188.00,152.56 L188.50,152.54 L189.00,152.53 L189.50,152.51 L190.00,152.50 L190.50,152.49 L191.01,152.48 L191.51,152.47 L192.01,152.46 L192.52,152.45 L193.02,152.44 L193.53,152.43 L194.03,152.42 L194.53,152.42 L195.04,152.41 L195.54,152.40 L196.04,152.40 L196.55,152.39 L197.05,152.38 L197.56,152.38 L198.06,152.37 L198.56,152.36 L199.07,152.36 L199.57,152.35 L200.07,152.35 L200.58,152.34 L201.08,152.33 L201.59,152.33 L202.09,152.32 L202.59,152.31 L203.10,152.31 L203.60,152.30" fill="none" stroke="#c81e1e" stroke-width="1.35" stroke-linejoin="round" stroke-linecap="round" />
<path d="M44.00,264.30 C46.67,264.28 56.00,264.27 60.00,264.20 C64.00,264.13 66.05,264.02 68.00,263.90 C69.95,263.78 70.37,263.78 71.70,263.50 C73.03,263.22 74.65,262.75 76.00,262.20 C77.35,261.65 78.68,261.15 79.80,260.20 C80.92,259.25 81.83,257.87 82.70,256.50 C83.57,255.13 84.15,253.58 85.00,252.00 C85.85,250.42 86.97,248.67 87.80,247.00 C88.63,245.33 89.25,243.97 90.00,242.00 C90.75,240.03 91.22,237.90 92.30,235.20 C93.38,232.50 95.10,228.42 96.50,225.80 C97.90,223.18 99.30,221.25 100.70,219.50 C102.10,217.75 103.68,216.87 104.90,215.30 C106.12,213.73 106.78,211.83 108.00,210.10 C109.22,208.37 110.63,206.65 112.20,204.90 C113.77,203.15 116.17,201.15 117.40,199.60 C118.63,198.05 118.97,196.63 119.60,195.60 C120.23,194.57 120.37,193.78 121.20,193.40 C122.03,193.02 123.73,193.00 124.60,193.30 C125.47,193.60 125.67,193.92 126.40,195.20 C127.13,196.48 128.07,198.93 129.00,201.00 C129.93,203.07 130.92,205.18 132.00,207.60 C133.08,210.02 134.35,213.17 135.50,215.50 C136.65,217.83 137.75,220.15 138.90,221.60 C140.05,223.05 141.23,223.77 142.40,224.20 C143.57,224.63 144.73,224.63 145.90,224.20 C147.07,223.77 148.23,223.20 149.40,221.60 C150.57,220.00 151.45,217.37 152.90,214.60 C154.35,211.83 156.37,208.18 158.10,205.00 C159.83,201.82 161.90,198.00 163.30,195.50 C164.70,193.00 165.50,191.75 166.50,190.00 C167.50,188.25 168.38,187.00 169.30,185.00 C170.22,183.00 171.12,180.32 172.00,178.00 C172.88,175.68 173.60,173.12 174.60,171.10 C175.60,169.08 176.70,167.35 178.00,165.90 C179.30,164.45 181.03,164.15 182.40,162.40 C183.77,160.65 185.05,156.42 186.20,155.40 C187.35,154.38 188.05,156.15 189.30,156.30 C190.55,156.45 192.25,157.25 193.70,156.30 C195.15,155.35 196.83,151.38 198.00,150.60 C199.17,149.82 199.77,151.32 200.70,151.60 C201.63,151.88 203.12,152.18 203.60,152.30" fill="none" stroke="#1f1fe0" stroke-width="1.35" stroke-linejoin="round" stroke-linecap="round" />
<rect x="483.60" y="147.80" width="168.20" height="117.60" fill="none" stroke="#4a4a4a" stroke-width="1"/>
<line x1="483.60" y1="265.40" x2="483.60" y2="262.80" stroke="#4a4a4a" stroke-width="1" />
<text x="483.60" y="274.60" font-size="9" text-anchor="middle" font-family="Liberation Serif" fill="#222"  stroke="#222" stroke-width="0.22">−12</text>
<line x1="494.11" y1="265.40" x2="494.11" y2="263.80" stroke="#4a4a4a" stroke-width="1" />
<line x1="504.62" y1="265.40" x2="504.62" y2="262.80" stroke="#4a4a4a" stroke-width="1" />
<text x="504.62" y="274.60" font-size="9" text-anchor="middle" font-family="Liberation Serif" fill="#222"  stroke="#222" stroke-width="0.22">−8</text>
<line x1="515.14" y1="265.40" x2="515.14" y2="263.80" stroke="#4a4a4a" stroke-width="1" />
<line x1="525.65" y1="265.40" x2="525.65" y2="262.80" stroke="#4a4a4a" stroke-width="1" />
<text x="525.65" y="274.60" font-size="9" text-anchor="middle" font-family="Liberation Serif" fill="#222"  stroke="#222" stroke-width="0.22">−4</text>
<line x1="536.16" y1="265.40" x2="536.16" y2="263.80" stroke="#4a4a4a" stroke-width="1" />
<line x1="546.67" y1="265.40" x2="546.67" y2="262.80" stroke="#4a4a4a" stroke-width="1" />
<text x="546.67" y="274.60" font-size="9" text-anchor="middle" font-family="Liberation Serif" fill="#222"  stroke="#222" stroke-width="0.22">0</text>
<line x1="557.19" y1="265.40" x2="557.19" y2="263.80" stroke="#4a4a4a" stroke-width="1" />
<line x1="567.70" y1="265.40" x2="567.70" y2="262.80" stroke="#4a4a4a" stroke-width="1" />
<text x="567.70" y="274.60" font-size="9" text-anchor="middle" font-family="Liberation Serif" fill="#222"  stroke="#222" stroke-width="0.22">4</text>
<line x1="578.21" y1="265.40" x2="578.21" y2="263.80" stroke="#4a4a4a" stroke-width="1" />
<line x1="588.73" y1="265.40" x2="588.73" y2="262.80" stroke="#4a4a4a" stroke-width="1" />
<text x="588.73" y="274.60" font-size="9" text-anchor="middle" font-family="Liberation Serif" fill="#222"  stroke="#222" stroke-width="0.22">8</text>
<line x1="599.24" y1="265.40" x2="599.24" y2="263.80" stroke="#4a4a4a" stroke-width="1" />
<line x1="609.75" y1="265.40" x2="609.75" y2="262.80" stroke="#4a4a4a" stroke-width="1" />
<text x="609.75" y="274.60" font-size="9" text-anchor="middle" font-family="Liberation Serif" fill="#222"  stroke="#222" stroke-width="0.22">12</text>
<line x1="620.26" y1="265.40" x2="620.26" y2="263.80" stroke="#4a4a4a" stroke-width="1" />
<line x1="630.77" y1="265.40" x2="630.77" y2="262.80" stroke="#4a4a4a" stroke-width="1" />
<text x="630.77" y="274.60" font-size="9" text-anchor="middle" font-family="Liberation Serif" fill="#222"  stroke="#222" stroke-width="0.22">16</text>
<line x1="641.29" y1="265.40" x2="641.29" y2="263.80" stroke="#4a4a4a" stroke-width="1" />
<line x1="651.80" y1="265.40" x2="651.80" y2="262.80" stroke="#4a4a4a" stroke-width="1" />
<text x="651.80" y="274.60" font-size="9" text-anchor="middle" font-family="Liberation Serif" fill="#222"  stroke="#222" stroke-width="0.22">20</text>
<line x1="483.60" y1="265.42" x2="486.20" y2="265.42" stroke="#4a4a4a" stroke-width="1" />
<line x1="651.80" y1="265.42" x2="649.20" y2="265.42" stroke="#4a4a4a" stroke-width="1" />
<text x="480.60" y="268.72" font-size="9" text-anchor="end" font-family="Liberation Serif" fill="#222"  stroke="#222" stroke-width="0.22">−0.6</text>
<line x1="483.60" y1="252.25" x2="485.20" y2="252.25" stroke="#4a4a4a" stroke-width="1" />
<line x1="651.80" y1="252.25" x2="650.20" y2="252.25" stroke="#4a4a4a" stroke-width="1" />
<line x1="483.60" y1="239.08" x2="486.20" y2="239.08" stroke="#4a4a4a" stroke-width="1" />
<line x1="651.80" y1="239.08" x2="649.20" y2="239.08" stroke="#4a4a4a" stroke-width="1" />
<text x="480.60" y="242.38" font-size="9" text-anchor="end" font-family="Liberation Serif" fill="#222"  stroke="#222" stroke-width="0.22">−0.4</text>
<line x1="483.60" y1="225.91" x2="485.20" y2="225.91" stroke="#4a4a4a" stroke-width="1" />
<line x1="651.80" y1="225.91" x2="650.20" y2="225.91" stroke="#4a4a4a" stroke-width="1" />
<line x1="483.60" y1="212.74" x2="486.20" y2="212.74" stroke="#4a4a4a" stroke-width="1" />
<line x1="651.80" y1="212.74" x2="649.20" y2="212.74" stroke="#4a4a4a" stroke-width="1" />
<text x="480.60" y="216.04" font-size="9" text-anchor="end" font-family="Liberation Serif" fill="#222"  stroke="#222" stroke-width="0.22">−0.2</text>
<line x1="483.60" y1="199.57" x2="485.20" y2="199.57" stroke="#4a4a4a" stroke-width="1" />
<line x1="651.80" y1="199.57" x2="650.20" y2="199.57" stroke="#4a4a4a" stroke-width="1" />
<line x1="483.60" y1="186.40" x2="486.20" y2="186.40" stroke="#4a4a4a" stroke-width="1" />
<line x1="651.80" y1="186.40" x2="649.20" y2="186.40" stroke="#4a4a4a" stroke-width="1" />
<text x="480.60" y="189.70" font-size="9" text-anchor="end" font-family="Liberation Serif" fill="#222"  stroke="#222" stroke-width="0.22">0.0</text>
<line x1="483.60" y1="173.23" x2="485.20" y2="173.23" stroke="#4a4a4a" stroke-width="1" />
<line x1="651.80" y1="173.23" x2="650.20" y2="173.23" stroke="#4a4a4a" stroke-width="1" />
<line x1="483.60" y1="160.06" x2="486.20" y2="160.06" stroke="#4a4a4a" stroke-width="1" />
<line x1="651.80" y1="160.06" x2="649.20" y2="160.06" stroke="#4a4a4a" stroke-width="1" />
<text x="480.60" y="163.36" font-size="9" text-anchor="end" font-family="Liberation Serif" fill="#222"  stroke="#222" stroke-width="0.22">0.2</text>
<text x="568.05" y="285.40" font-size="10" text-anchor="middle" font-family="Liberation Serif" fill="#222"  stroke="#222" stroke-width="0.22">Distance (Å)</text>
<text transform="translate(461.6,208.1) rotate(-90)" font-size="9.6" text-anchor="middle" font-family="Liberation Serif" fill="#222" stroke="#222" stroke-width="0.22">Water dipole moment (D)</text>
<text x="439.00" y="154.60" font-size="15" text-anchor="start" font-family="Liberation Serif" fill="#222"  stroke="#222" stroke-width="0.22">f)</text>
<polyline points="488.86,194.70 499.37,201.15 509.88,188.24 520.39,185.74 530.91,211.42 541.42,225.91 551.93,237.76 562.44,237.37 572.96,244.35 583.47,246.59 593.98,237.50 604.49,240.40 615.01,228.54 625.52,210.11 636.03,198.91 646.54,194.43" fill="none" stroke="#d42a2a" stroke-width="1.3" stroke-linejoin="round"/>
<polyline points="488.86,165.59 499.37,162.30 509.88,182.84 520.39,198.25 530.91,219.19 541.42,238.55 551.93,245.40 562.44,236.45 572.96,212.74 583.47,193.25 593.98,185.74 604.49,182.71 615.01,185.48 625.52,186.40 636.03,187.98 646.54,186.00" fill="none" stroke="#111" stroke-width="1.3" stroke-linejoin="round"/>
<text x="230.30" y="11.20" font-size="15" text-anchor="start" font-family="Liberation Serif" fill="#222"  stroke="#222" stroke-width="0.22">b)</text>
<defs><linearGradient id="cbar" x1="0" x2="1" y1="0" y2="0"><stop offset="0" stop-color="#000028"/><stop offset="0.12" stop-color="#0010b8"/><stop offset="0.22" stop-color="#0060f8"/><stop offset="0.32" stop-color="#00e0f0"/><stop offset="0.42" stop-color="#40e080"/><stop offset="0.50" stop-color="#c0e020"/><stop offset="0.57" stop-color="#ffc000"/><stop offset="0.68" stop-color="#ff6000"/><stop offset="0.80" stop-color="#ff1010"/><stop offset="0.86" stop-color="#ff4848"/><stop offset="0.93" stop-color="#f4c8c8"/><stop offset="1" stop-color="#f8f2f2"/></linearGradient><filter id="blur1" x="-20%" y="-20%" width="140%" height="140%"><feGaussianBlur stdDeviation="0.7"/></filter><filter id="blur2" x="-20%" y="-20%" width="140%" height="140%"><feGaussianBlur stdDeviation="1.1"/></filter><filter id="blur3" x="-20%" y="-20%" width="140%" height="140%"><feGaussianBlur stdDeviation="0.4"/></filter></defs>
<line x1="257.70" y1="4.20" x2="433.20" y2="4.20" stroke="#8a8a8a" stroke-width="1.1" />
<line x1="257.70" y1="4.20" x2="257.70" y2="120.30" stroke="#a8a8a8" stroke-width="1.3" />
<line x1="257.70" y1="120.30" x2="433.20" y2="120.30" stroke="#5a5a5a" stroke-width="1.2" />
<line x1="433.20" y1="4.20" x2="433.20" y2="120.30" stroke="#6a6a6a" stroke-width="1.2" />
<text x="272.60" y="11.10" font-size="6.3" text-anchor="start" font-family="Liberation Sans" fill="#111" stroke="#111" stroke-width="0.18" textLength="89.2" lengthAdjust="spacingAndGlyphs">Ch1 410-470 nm/Ch2 470-540 nm</text>
<text x="389.80" y="11.10" font-size="6.3" text-anchor="start" font-family="Liberation Sans" fill="#111" stroke="#111" stroke-width="0.18" textLength="32.4" lengthAdjust="spacingAndGlyphs">Polarity Map</text>
<text x="258.10" y="38.50" font-size="5.6" text-anchor="start" font-family="Liberation Sans" fill="#111" stroke="#111" stroke-width="0.18" textLength="12.8" lengthAdjust="spacingAndGlyphs">DOPC</text>
<text x="260.30" y="80.30" font-size="5.6" text-anchor="start" font-family="Liberation Sans" fill="#111" stroke="#111" stroke-width="0.18" textLength="9.6" lengthAdjust="spacingAndGlyphs">10%</text>
<text x="260.30" y="85.90" font-size="5.6" text-anchor="start" font-family="Liberation Sans" fill="#111" stroke="#111" stroke-width="0.18" textLength="9.6" lengthAdjust="spacingAndGlyphs">RHB</text>
<text transform="translate(367.0,61.1) scale(0.1)" font-size="74" font-family="Liberation Sans" font-weight="bold" font-style="italic" fill="#111" stroke="#111" stroke-width="3">GP</text>
<rect x="275.6" y="17.0" width="42.5" height="86.6" fill="#030303"/>
<rect x="319.5" y="17.0" width="42.3" height="86.6" fill="#030303"/>
<line x1="318.80" y1="17.00" x2="318.80" y2="103.40" stroke="#b8b8b8" stroke-width="0.9" />
<rect x="388.1" y="17.0" width="42.8" height="86.6" fill="#07090d"/>
<path d="M390.5 87.7h.9v.9h-.9zM391.0 65.8h.9v.9h-.9zM414.7 67.3h.9v.9h-.9zM412.5 51.4h.9v.9h-.9zM401.3 87.3h.9v.9h-.9zM392.8 66.3h.9v.9h-.9zM404.0 64.3h.9v.9h-.9zM407.2 69.6h.9v.9h-.9zM394.8 59.3h.9v.9h-.9zM412.6 56.5h.9v.9h-.9zM395.5 27.5h.9v.9h-.9zM428.3 30.4h.9v.9h-.9zM394.8 73.8h.9v.9h-.9zM403.9 65.9h.9v.9h-.9zM391.1 23.3h.9v.9h-.9zM390.7 17.5h.9v.9h-.9zM413.6 58.0h.9v.9h-.9zM408.5 44.2h.9v.9h-.9zM403.5 76.5h.9v.9h-.9zM402.2 36.6h.9v.9h-.9zM403.3 20.0h.9v.9h-.9zM421.4 57.9h.9v.9h-.9zM428.2 48.7h.9v.9h-.9zM419.7 58.4h.9v.9h-.9zM406.6 71.9h.9v.9h-.9zM407.8 81.1h.9v.9h-.9zM418.7 32.0h.9v.9h-.9zM395.0 64.4h.9v.9h-.9zM392.8 81.6h.9v.9h-.9zM406.5 92.0h.9v.9h-.9zM411.1 88.8h.9v.9h-.9zM389.3 55.1h.9v.9h-.9zM413.8 83.9h.9v.9h-.9zM410.1 65.0h.9v.9h-.9zM425.2 22.4h.9v.9h-.9zM407.3 19.9h.9v.9h-.9zM426.9 93.8h.9v.9h-.9zM423.4 29.2h.9v.9h-.9zM401.1 28.0h.9v.9h-.9zM410.0 42.8h.9v.9h-.9zM393.2 96.0h.9v.9h-.9zM399.8 95.0h.9v.9h-.9zM412.2 77.4h.9v.9h-.9zM400.1 85.9h.9v.9h-.9zM406.2 23.7h.9v.9h-.9zM414.9 86.0h.9v.9h-.9zM398.4 26.9h.9v.9h-.9zM414.7 62.9h.9v.9h-.9zM400.6 60.3h.9v.9h-.9zM401.3 35.9h.9v.9h-.9zM429.3 89.1h.9v.9h-.9zM400.7 56.8h.9v.9h-.9zM415.8 38.7h.9v.9h-.9zM392.3 87.4h.9v.9h-.9zM405.1 21.1h.9v.9h-.9zM401.0 71.3h.9v.9h-.9zM412.9 62.7h.9v.9h-.9zM419.8 66.1h.9v.9h-.9zM416.9 76.8h.9v.9h-.9zM427.3 94.3h.9v.9h-.9zM398.3 82.2h.9v.9h-.9zM415.2 24.1h.9v.9h-.9zM401.2 66.0h.9v.9h-.9zM404.6 95.9h.9v.9h-.9zM410.3 99.0h.9v.9h-.9zM425.4 77.6h.9v.9h-.9zM419.7 89.2h.9v.9h-.9zM427.6 34.2h.9v.9h-.9zM424.0 41.5h.9v.9h-.9zM423.2 41.9h.9v.9h-.9zM411.3 79.0h.9v.9h-.9zM404.9 31.8h.9v.9h-.9zM430.0 56.0h.9v.9h-.9zM411.3 38.4h.9v.9h-.9zM402.7 25.3h.9v.9h-.9zM403.8 86.7h.9v.9h-.9zM404.4 81.3h.9v.9h-.9zM404.2 46.4h.9v.9h-.9zM421.4 90.1h.9v.9h-.9zM423.8 92.1h.9v.9h-.9zM428.8 59.4h.9v.9h-.9zM424.1 100.6h.9v.9h-.9zM421.1 36.6h.9v.9h-.9zM392.0 83.9h.9v.9h-.9zM421.0 37.4h.9v.9h-.9zM415.4 43.5h.9v.9h-.9zM417.6 27.1h.9v.9h-.9zM401.0 98.2h.9v.9h-.9zM400.1 44.5h.9v.9h-.9zM408.3 37.6h.9v.9h-.9zM425.3 72.8h.9v.9h-.9zM428.8 44.2h.9v.9h-.9zM394.6 51.1h.9v.9h-.9zM419.0 102.8h.9v.9h-.9zM406.9 26.8h.9v.9h-.9zM400.1 47.6h.9v.9h-.9zM392.2 77.8h.9v.9h-.9zM404.0 96.1h.9v.9h-.9zM420.4 21.0h.9v.9h-.9zM407.8 86.2h.9v.9h-.9zM401.7 41.1h.9v.9h-.9zM427.9 23.1h.9v.9h-.9zM426.5 87.2h.9v.9h-.9zM401.1 76.7h.9v.9h-.9zM391.8 34.4h.9v.9h-.9zM398.8 23.0h.9v.9h-.9zM408.5 64.1h.9v.9h-.9zM429.3 93.0h.9v.9h-.9zM399.5 24.7h.9v.9h-.9zM410.9 83.7h.9v.9h-.9zM399.3 55.1h.9v.9h-.9zM429.8 60.9h.9v.9h-.9zM429.0 67.4h.9v.9h-.9zM418.0 47.4h.9v.9h-.9zM403.8 29.6h.9v.9h-.9zM415.6 34.9h.9v.9h-.9zM396.2 44.2h.9v.9h-.9zM397.0 18.0h.9v.9h-.9zM412.5 48.7h.9v.9h-.9zM393.9 21.9h.9v.9h-.9zM415.2 95.3h.9v.9h-.9zM395.2 32.2h.9v.9h-.9zM393.0 59.4h.9v.9h-.9zM401.0 89.1h.9v.9h-.9zM429.1 58.8h.9v.9h-.9zM413.8 71.9h.9v.9h-.9zM426.1 70.5h.9v.9h-.9zM415.5 43.9h.9v.9h-.9zM409.4 32.8h.9v.9h-.9zM414.2 59.4h.9v.9h-.9zM420.8 61.2h.9v.9h-.9zM428.1 29.1h.9v.9h-.9zM429.9 80.1h.9v.9h-.9zM400.5 86.8h.9v.9h-.9zM417.0 79.2h.9v.9h-.9zM409.4 96.2h.9v.9h-.9zM413.1 70.2h.9v.9h-.9zM401.8 20.6h.9v.9h-.9zM416.8 94.1h.9v.9h-.9zM411.6 67.1h.9v.9h-.9zM402.3 24.5h.9v.9h-.9zM395.9 81.1h.9v.9h-.9zM388.6 20.4h.9v.9h-.9zM409.8 94.1h.9v.9h-.9zM408.8 69.9h.9v.9h-.9zM395.1 18.7h.9v.9h-.9zM417.9 56.0h.9v.9h-.9zM405.2 40.1h.9v.9h-.9zM427.5 80.2h.9v.9h-.9zM395.4 17.5h.9v.9h-.9zM410.6 52.2h.9v.9h-.9zM395.1 95.5h.9v.9h-.9z" fill="#10161e"/>
<path d="M397.4 24.8h.9v.9h-.9zM391.4 25.3h.9v.9h-.9zM390.4 90.9h.9v.9h-.9zM412.0 70.4h.9v.9h-.9zM416.8 54.1h.9v.9h-.9zM407.9 96.5h.9v.9h-.9zM420.9 24.5h.9v.9h-.9zM393.4 53.2h.9v.9h-.9zM412.3 92.4h.9v.9h-.9zM402.6 47.4h.9v.9h-.9zM391.2 80.0h.9v.9h-.9zM415.4 102.4h.9v.9h-.9zM402.9 97.9h.9v.9h-.9zM398.8 50.9h.9v.9h-.9zM400.1 29.2h.9v.9h-.9zM424.4 41.3h.9v.9h-.9zM429.5 75.9h.9v.9h-.9zM408.7 67.9h.9v.9h-.9zM415.7 80.8h.9v.9h-.9zM421.7 51.0h.9v.9h-.9zM404.9 58.7h.9v.9h-.9zM404.2 71.7h.9v.9h-.9zM423.8 102.4h.9v.9h-.9zM392.8 46.8h.9v.9h-.9zM424.4 77.0h.9v.9h-.9zM410.1 95.2h.9v.9h-.9zM421.9 34.6h.9v.9h-.9zM417.3 99.3h.9v.9h-.9zM422.1 79.3h.9v.9h-.9zM392.7 57.7h.9v.9h-.9zM421.8 100.6h.9v.9h-.9zM389.6 68.0h.9v.9h-.9zM429.3 73.7h.9v.9h-.9zM398.5 67.6h.9v.9h-.9zM426.4 47.7h.9v.9h-.9zM413.7 34.5h.9v.9h-.9zM407.3 63.1h.9v.9h-.9zM425.0 98.1h.9v.9h-.9zM427.6 72.5h.9v.9h-.9zM394.4 93.0h.9v.9h-.9zM397.6 98.9h.9v.9h-.9zM423.1 31.3h.9v.9h-.9zM429.9 52.0h.9v.9h-.9zM403.7 46.4h.9v.9h-.9zM406.8 19.0h.9v.9h-.9zM428.9 26.5h.9v.9h-.9zM399.8 28.6h.9v.9h-.9zM423.8 75.3h.9v.9h-.9zM413.8 36.5h.9v.9h-.9zM424.4 56.3h.9v.9h-.9zM429.9 53.2h.9v.9h-.9zM399.4 33.0h.9v.9h-.9zM399.8 86.2h.9v.9h-.9zM411.4 33.7h.9v.9h-.9zM422.6 54.5h.9v.9h-.9zM418.8 29.4h.9v.9h-.9zM391.4 80.8h.9v.9h-.9zM399.7 17.8h.9v.9h-.9zM402.0 20.4h.9v.9h-.9zM397.6 33.1h.9v.9h-.9zM404.7 45.4h.9v.9h-.9zM403.5 26.5h.9v.9h-.9zM410.6 38.4h.9v.9h-.9zM408.2 86.7h.9v.9h-.9zM419.3 100.9h.9v.9h-.9zM392.6 36.1h.9v.9h-.9zM400.6 61.7h.9v.9h-.9zM396.8 101.1h.9v.9h-.9zM428.8 55.9h.9v.9h-.9zM413.6 71.5h.9v.9h-.9zM409.2 92.4h.9v.9h-.9zM389.5 17.8h.9v.9h-.9zM394.4 46.9h.9v.9h-.9zM393.5 45.8h.9v.9h-.9zM426.0 42.3h.9v.9h-.9zM391.7 96.6h.9v.9h-.9zM401.6 83.6h.9v.9h-.9zM419.8 72.6h.9v.9h-.9zM393.8 57.9h.9v.9h-.9zM391.6 60.3h.9v.9h-.9zM411.4 56.2h.9v.9h-.9zM425.4 81.6h.9v.9h-.9zM409.2 66.6h.9v.9h-.9zM399.8 38.7h.9v.9h-.9zM415.4 54.4h.9v.9h-.9zM393.8 53.9h.9v.9h-.9zM417.7 89.9h.9v.9h-.9zM414.6 62.7h.9v.9h-.9zM388.5 63.5h.9v.9h-.9zM401.3 19.4h.9v.9h-.9zM399.2 74.6h.9v.9h-.9zM397.9 20.4h.9v.9h-.9zM418.4 48.5h.9v.9h-.9zM423.7 23.3h.9v.9h-.9zM398.1 36.4h.9v.9h-.9zM396.3 36.6h.9v.9h-.9zM389.5 68.5h.9v.9h-.9zM390.7 22.6h.9v.9h-.9zM407.2 78.4h.9v.9h-.9zM418.7 89.2h.9v.9h-.9zM411.8 82.4h.9v.9h-.9zM403.3 87.7h.9v.9h-.9zM401.9 80.5h.9v.9h-.9zM393.0 78.7h.9v.9h-.9zM428.2 50.5h.9v.9h-.9zM413.8 45.5h.9v.9h-.9zM406.0 102.0h.9v.9h-.9zM395.7 28.9h.9v.9h-.9zM420.9 42.6h.9v.9h-.9zM396.3 23.0h.9v.9h-.9zM415.5 26.1h.9v.9h-.9zM429.7 26.2h.9v.9h-.9zM425.2 37.3h.9v.9h-.9zM426.5 21.0h.9v.9h-.9zM404.0 91.6h.9v.9h-.9zM422.6 52.5h.9v.9h-.9zM389.8 59.9h.9v.9h-.9zM391.1 26.2h.9v.9h-.9zM401.3 99.0h.9v.9h-.9zM419.5 93.1h.9v.9h-.9zM405.8 91.4h.9v.9h-.9zM415.3 50.9h.9v.9h-.9zM406.1 87.6h.9v.9h-.9zM409.5 30.0h.9v.9h-.9zM405.3 89.9h.9v.9h-.9zM396.1 36.2h.9v.9h-.9zM427.5 30.9h.9v.9h-.9zM407.5 90.1h.9v.9h-.9zM406.2 73.8h.9v.9h-.9zM407.1 70.4h.9v.9h-.9zM423.3 86.8h.9v.9h-.9zM393.0 28.5h.9v.9h-.9zM393.9 96.3h.9v.9h-.9zM396.6 101.4h.9v.9h-.9zM391.2 47.5h.9v.9h-.9zM395.1 94.2h.9v.9h-.9zM426.2 56.5h.9v.9h-.9zM405.3 71.9h.9v.9h-.9zM390.5 90.9h.9v.9h-.9zM399.0 63.3h.9v.9h-.9zM419.2 49.3h.9v.9h-.9zM429.7 66.9h.9v.9h-.9zM400.8 61.6h.9v.9h-.9zM400.6 71.0h.9v.9h-.9zM389.4 17.7h.9v.9h-.9zM394.1 48.8h.9v.9h-.9zM415.0 92.0h.9v.9h-.9zM390.8 87.7h.9v.9h-.9z" fill="#0d1420"/>
<path d="M402.0 30.4h.9v.9h-.9zM403.7 22.5h.9v.9h-.9zM405.9 63.7h.9v.9h-.9zM401.0 85.4h.9v.9h-.9zM410.3 92.3h.9v.9h-.9zM428.5 24.1h.9v.9h-.9zM427.8 58.0h.9v.9h-.9zM400.3 50.5h.9v.9h-.9zM397.6 42.1h.9v.9h-.9zM391.9 55.9h.9v.9h-.9zM400.2 30.0h.9v.9h-.9zM417.2 61.6h.9v.9h-.9zM425.9 84.2h.9v.9h-.9zM406.8 26.9h.9v.9h-.9zM410.8 98.6h.9v.9h-.9zM389.6 92.3h.9v.9h-.9zM408.4 76.7h.9v.9h-.9zM389.5 98.8h.9v.9h-.9zM420.0 43.0h.9v.9h-.9zM420.6 63.0h.9v.9h-.9zM422.0 87.5h.9v.9h-.9zM397.0 70.9h.9v.9h-.9zM423.5 58.5h.9v.9h-.9zM402.8 72.5h.9v.9h-.9zM393.5 50.7h.9v.9h-.9zM422.1 30.0h.9v.9h-.9zM389.1 100.5h.9v.9h-.9zM389.7 35.7h.9v.9h-.9zM416.1 87.2h.9v.9h-.9zM406.0 96.0h.9v.9h-.9zM393.9 30.5h.9v.9h-.9zM395.7 58.0h.9v.9h-.9zM393.5 22.8h.9v.9h-.9zM400.0 83.5h.9v.9h-.9zM406.9 69.9h.9v.9h-.9zM409.6 38.7h.9v.9h-.9zM404.8 44.5h.9v.9h-.9zM398.5 23.8h.9v.9h-.9zM425.3 31.4h.9v.9h-.9zM396.6 44.7h.9v.9h-.9zM405.4 63.4h.9v.9h-.9zM414.4 21.2h.9v.9h-.9zM390.0 19.1h.9v.9h-.9zM398.7 55.7h.9v.9h-.9zM411.2 93.5h.9v.9h-.9zM402.8 88.7h.9v.9h-.9zM406.4 22.2h.9v.9h-.9zM423.5 91.9h.9v.9h-.9zM428.9 68.7h.9v.9h-.9zM428.5 100.7h.9v.9h-.9zM404.4 58.1h.9v.9h-.9zM415.9 78.7h.9v.9h-.9zM394.7 79.4h.9v.9h-.9zM394.5 88.0h.9v.9h-.9zM425.6 71.1h.9v.9h-.9zM417.7 60.7h.9v.9h-.9zM422.9 67.4h.9v.9h-.9zM392.0 21.1h.9v.9h-.9zM411.7 71.2h.9v.9h-.9zM388.6 85.7h.9v.9h-.9zM415.9 23.1h.9v.9h-.9zM423.7 24.1h.9v.9h-.9zM400.5 21.5h.9v.9h-.9zM402.3 73.2h.9v.9h-.9zM408.6 59.0h.9v.9h-.9zM407.9 83.1h.9v.9h-.9zM389.2 56.7h.9v.9h-.9zM391.6 25.2h.9v.9h-.9zM416.9 52.2h.9v.9h-.9zM391.2 50.9h.9v.9h-.9zM398.9 40.2h.9v.9h-.9zM425.3 86.9h.9v.9h-.9zM405.1 92.4h.9v.9h-.9zM427.3 52.6h.9v.9h-.9zM408.7 95.5h.9v.9h-.9zM400.2 39.4h.9v.9h-.9zM429.1 39.7h.9v.9h-.9zM398.4 58.8h.9v.9h-.9zM393.7 60.5h.9v.9h-.9zM404.8 96.7h.9v.9h-.9zM410.2 75.8h.9v.9h-.9zM404.6 36.6h.9v.9h-.9zM389.7 52.7h.9v.9h-.9zM396.7 85.6h.9v.9h-.9zM393.0 70.8h.9v.9h-.9zM426.4 22.3h.9v.9h-.9zM402.2 33.4h.9v.9h-.9zM419.5 20.2h.9v.9h-.9zM389.8 52.6h.9v.9h-.9zM399.2 81.4h.9v.9h-.9zM402.6 40.8h.9v.9h-.9zM390.3 81.3h.9v.9h-.9zM418.5 68.4h.9v.9h-.9zM427.1 33.1h.9v.9h-.9zM407.7 84.5h.9v.9h-.9zM414.3 75.1h.9v.9h-.9zM412.1 49.4h.9v.9h-.9zM398.7 30.6h.9v.9h-.9zM398.2 21.8h.9v.9h-.9zM413.6 83.8h.9v.9h-.9zM427.8 26.5h.9v.9h-.9zM430.1 20.8h.9v.9h-.9zM416.1 30.7h.9v.9h-.9zM392.3 31.5h.9v.9h-.9zM399.8 102.0h.9v.9h-.9zM412.3 96.8h.9v.9h-.9zM415.1 90.7h.9v.9h-.9zM393.6 38.6h.9v.9h-.9zM422.4 34.0h.9v.9h-.9zM423.5 75.0h.9v.9h-.9zM423.4 27.6h.9v.9h-.9zM403.7 86.1h.9v.9h-.9zM409.7 21.0h.9v.9h-.9zM419.8 94.0h.9v.9h-.9zM421.5 40.1h.9v.9h-.9zM415.1 101.6h.9v.9h-.9zM427.1 94.1h.9v.9h-.9zM401.1 62.2h.9v.9h-.9zM397.8 67.4h.9v.9h-.9zM413.2 67.0h.9v.9h-.9z" fill="#121a22"/>
<circle cx="296.2" cy="38.3" r="17.7" fill="none" stroke="#279aa2" stroke-width="1.15"/>
<circle cx="296.8" cy="82.0" r="16.8" fill="none" stroke="#2596a0" stroke-width="1.15"/>
<circle cx="339.6" cy="38.0" r="17.3" fill="none" stroke="#1a7a1a" stroke-width="1.5" filter="url(#blur3)"/>
<circle cx="339.9" cy="82.5" r="16.6" fill="none" stroke="#115011" stroke-width="3.0" filter="url(#blur1)"/>
<circle cx="339.9" cy="82.5" r="16.6" fill="none" stroke="#1f7a1f" stroke-width="0.8"/>
<circle cx="408.5" cy="38.3" r="17.8" fill="none" stroke="#2d8398" stroke-width="2.3" filter="url(#blur3)"/>
<circle cx="409.6" cy="82.3" r="14.9" fill="none" stroke="#13175e" stroke-width="5.4" filter="url(#blur2)"/>
<line x1="311.90" y1="56.80" x2="316.20" y2="56.80" stroke="#8a8a8a" stroke-width="0.8" />
<line x1="311.90" y1="100.40" x2="316.20" y2="100.40" stroke="#8a8a8a" stroke-width="0.8" />
<line x1="355.60" y1="56.80" x2="359.90" y2="56.80" stroke="#8a8a8a" stroke-width="0.8" />
<line x1="355.60" y1="100.40" x2="359.90" y2="100.40" stroke="#8a8a8a" stroke-width="0.8" />
<line x1="364.30" y1="39.20" x2="382.40" y2="39.20" stroke="#4f7fc4" stroke-width="1.8" />
<polygon points="381.4,36.6 385.4,39.2 381.4,41.8" fill="#4f7fc4"/>
<line x1="364.10" y1="83.50" x2="382.80" y2="83.50" stroke="#4f7fc4" stroke-width="1.8" />
<polygon points="381.8,80.9 385.8,83.5 381.8,86.1" fill="#4f7fc4"/>
<rect x="388.0" y="105.6" width="39.4" height="4.3" fill="url(#cbar)"/>
<text x="388.80" y="115.40" font-size="5.4" text-anchor="middle" font-family="Liberation Sans" fill="#111" stroke="#111" stroke-width="0.12">-1</text>
<text x="406.00" y="115.40" font-size="5.4" text-anchor="middle" font-family="Liberation Sans" fill="#111" stroke="#111" stroke-width="0.12">GP</text>
<text x="427.00" y="115.40" font-size="5.4" text-anchor="middle" font-family="Liberation Sans" fill="#111" stroke="#111" stroke-width="0.12">+1</text>
<text x="225.40" y="155.60" font-size="15" text-anchor="start" font-family="Liberation Serif" fill="#222"  stroke="#222" stroke-width="0.22">e)</text>
<line x1="241.60" y1="147.60" x2="427.00" y2="147.60" stroke="#8a8a8a" stroke-width="1.1" />
<line x1="241.60" y1="147.60" x2="241.60" y2="268.00" stroke="#a8a8a8" stroke-width="1.4" />
<line x1="241.60" y1="268.00" x2="427.00" y2="268.00" stroke="#555" stroke-width="1.2" />
<line x1="427.00" y1="147.60" x2="427.00" y2="268.00" stroke="#6a6a6a" stroke-width="1.2" />
<defs><linearGradient id="wfade" x1="0" x2="0" y1="0" y2="1"><stop offset="0" stop-color="#f0f0f0"/><stop offset="0.7" stop-color="#f0f0f0"/><stop offset="1" stop-color="#fff"/></linearGradient></defs>
<path d="M366 170h1v1h-1zM386 158h1v1h-1zM258 158h1v1h-1zM349 158h1v1h-1zM276 151h1v1h-1zM358 177h1v1h-1zM320 188h1v1h-1zM405 162h1v1h-1zM358 156h1v1h-1zM305 176h1v1h-1zM365 181h1v1h-1zM402 154h1v1h-1zM372 195h1v1h-1zM285 159h1v1h-1zM270 203h1v1h-1zM348 151h1v1h-1zM271 161h1v1h-1zM389 160h1v1h-1zM256 179h1v1h-1zM340 155h1v1h-1zM321 171h1v1h-1zM259 185h1v1h-1zM322 195h1v1h-1zM367 174h1v1h-1zM351 178h1v1h-1zM367 175h1v1h-1zM334 176h1v1h-1zM255 194h1v1h-1zM388 164h1v1h-1zM262 216h1v1h-1zM284 152h1v1h-1zM277 213h1v1h-1zM306 174h1v1h-1zM354 152h1v1h-1zM379 174h1v1h-1zM374 163h1v1h-1zM369 159h1v1h-1zM371 162h1v1h-1zM281 200h1v1h-1zM276 206h1v1h-1zM326 153h1v1h-1zM313 155h1v1h-1zM405 164h1v1h-1zM264 195h1v1h-1zM261 157h1v1h-1zM257 154h1v1h-1zM377 167h1v1h-1zM333 160h1v1h-1zM369 188h1v1h-1zM256 178h1v1h-1zM390 189h1v1h-1zM277 190h1v1h-1zM257 168h1v1h-1zM273 209h1v1h-1zM385 196h1v1h-1zM325 185h1v1h-1zM371 189h1v1h-1zM397 172h1v1h-1zM272 195h1v1h-1zM357 174h1v1h-1zM363 176h1v1h-1zM270 167h1v1h-1zM348 161h1v1h-1zM369 161h1v1h-1zM293 173h1v1h-1zM369 202h1v1h-1zM257 191h1v1h-1zM352 180h1v1h-1zM396 165h1v1h-1zM313 188h1v1h-1zM334 172h1v1h-1zM400 179h1v1h-1zM308 189h1v1h-1zM320 197h1v1h-1zM321 166h1v1h-1zM386 159h1v1h-1zM296 185h1v1h-1zM298 169h1v1h-1zM318 153h1v1h-1zM410 168h1v1h-1zM359 159h1v1h-1zM343 185h1v1h-1zM286 180h1v1h-1zM334 182h1v1h-1zM382 166h1v1h-1zM315 159h1v1h-1zM306 159h1v1h-1zM377 196h1v1h-1zM391 213h1v1h-1zM382 166h1v1h-1zM263 170h1v1h-1zM281 201h1v1h-1zM289 191h1v1h-1zM302 196h1v1h-1zM289 158h1v1h-1zM330 160h1v1h-1zM263 172h1v1h-1zM410 153h1v1h-1zM346 194h1v1h-1zM296 184h1v1h-1zM288 198h1v1h-1zM365 186h1v1h-1zM298 168h1v1h-1zM383 194h1v1h-1zM322 180h1v1h-1zM376 180h1v1h-1zM378 157h1v1h-1zM307 186h1v1h-1zM258 209h1v1h-1zM339 195h1v1h-1zM277 163h1v1h-1zM367 176h1v1h-1zM258 194h1v1h-1zM389 164h1v1h-1zM275 160h1v1h-1zM281 205h1v1h-1zM345 196h1v1h-1zM278 194h1v1h-1zM275 188h1v1h-1zM357 188h1v1h-1zM305 183h1v1h-1zM396 214h1v1h-1zM253 197h1v1h-1zM339 156h1v1h-1zM397 162h1v1h-1zM415 186h1v1h-1zM391 164h1v1h-1zM352 189h1v1h-1zM352 191h1v1h-1zM379 169h1v1h-1zM342 188h1v1h-1zM325 183h1v1h-1zM340 179h1v1h-1zM391 164h1v1h-1zM328 150h1v1h-1zM287 157h1v1h-1zM397 168h1v1h-1zM407 213h1v1h-1zM259 163h1v1h-1zM327 188h1v1h-1zM330 179h1v1h-1zM389 161h1v1h-1zM342 158h1v1h-1zM348 186h1v1h-1zM372 151h1v1h-1zM287 190h1v1h-1zM333 173h1v1h-1zM353 177h1v1h-1zM337 186h1v1h-1zM313 155h1v1h-1zM415 201h1v1h-1zM341 155h1v1h-1zM309 179h1v1h-1zM257 184h1v1h-1zM335 192h1v1h-1zM416 155h1v1h-1zM315 157h1v1h-1zM316 154h1v1h-1zM400 191h1v1h-1zM325 195h1v1h-1zM303 172h1v1h-1zM281 160h1v1h-1zM299 183h1v1h-1zM376 157h1v1h-1zM263 158h1v1h-1zM275 191h1v1h-1zM404 218h1v1h-1zM319 172h1v1h-1zM399 174h1v1h-1zM270 218h1v1h-1zM288 199h1v1h-1zM400 172h1v1h-1zM337 152h1v1h-1zM307 177h1v1h-1zM286 175h1v1h-1zM332 164h1v1h-1zM320 175h1v1h-1zM377 150h1v1h-1zM261 159h1v1h-1zM321 170h1v1h-1zM288 161h1v1h-1zM286 193h1v1h-1zM346 163h1v1h-1zM325 181h1v1h-1zM338 182h1v1h-1zM274 166h1v1h-1zM251 164h1v1h-1zM283 170h1v1h-1zM397 195h1v1h-1zM345 162h1v1h-1zM346 164h1v1h-1zM309 162h1v1h-1zM401 170h1v1h-1zM400 180h1v1h-1zM370 177h1v1h-1zM271 165h1v1h-1zM292 167h1v1h-1zM359 159h1v1h-1zM357 176h1v1h-1zM266 203h1v1h-1zM369 158h1v1h-1zM349 190h1v1h-1zM414 217h1v1h-1zM308 162h1v1h-1zM332 190h1v1h-1zM285 196h1v1h-1zM283 193h1v1h-1zM284 190h1v1h-1zM411 192h1v1h-1zM400 176h1v1h-1zM310 161h1v1h-1zM395 195h1v1h-1zM277 193h1v1h-1zM274 188h1v1h-1zM381 154h1v1h-1zM399 212h1v1h-1zM320 156h1v1h-1zM280 180h1v1h-1zM374 152h1v1h-1zM347 185h1v1h-1zM283 184h1v1h-1zM255 166h1v1h-1zM276 181h1v1h-1zM271 183h1v1h-1zM295 178h1v1h-1zM396 159h1v1h-1zM345 157h1v1h-1zM402 167h1v1h-1zM272 193h1v1h-1zM340 156h1v1h-1zM344 157h1v1h-1zM375 175h1v1h-1zM331 185h1v1h-1zM308 191h1v1h-1zM284 181h1v1h-1zM387 170h1v1h-1zM319 155h1v1h-1zM251 162h1v1h-1zM320 179h1v1h-1zM275 195h1v1h-1zM323 178h1v1h-1zM381 194h1v1h-1zM386 165h1v1h-1zM311 171h1v1h-1zM323 167h1v1h-1zM320 188h1v1h-1zM286 165h1v1h-1zM278 159h1v1h-1zM353 169h1v1h-1zM391 194h1v1h-1zM312 158h1v1h-1zM391 187h1v1h-1zM278 187h1v1h-1zM371 172h1v1h-1zM252 174h1v1h-1zM363 161h1v1h-1zM394 184h1v1h-1zM327 171h1v1h-1zM280 219h1v1h-1zM391 215h1v1h-1zM282 151h1v1h-1zM408 180h1v1h-1zM346 196h1v1h-1zM401 157h1v1h-1zM408 180h1v1h-1zM277 179h1v1h-1zM401 183h1v1h-1zM315 160h1v1h-1zM259 164h1v1h-1zM277 166h1v1h-1zM353 183h1v1h-1zM341 169h1v1h-1zM387 196h1v1h-1zM295 188h1v1h-1zM388 167h1v1h-1zM270 185h1v1h-1zM366 182h1v1h-1zM360 176h1v1h-1zM368 158h1v1h-1zM253 212h1v1h-1zM385 170h1v1h-1zM323 153h1v1h-1zM350 174h1v1h-1zM344 157h1v1h-1zM349 188h1v1h-1zM393 169h1v1h-1zM293 190h1v1h-1zM272 157h1v1h-1zM259 173h1v1h-1zM303 199h1v1h-1zM295 190h1v1h-1zM319 170h1v1h-1zM265 167h1v1h-1zM346 191h1v1h-1zM333 188h1v1h-1zM265 186h1v1h-1zM337 162h1v1h-1zM412 160h1v1h-1zM274 187h1v1h-1zM294 168h1v1h-1zM280 165h1v1h-1zM254 211h1v1h-1zM272 204h1v1h-1zM368 168h1v1h-1zM325 154h1v1h-1zM272 182h1v1h-1zM297 189h1v1h-1zM378 155h1v1h-1zM307 196h1v1h-1zM269 177h1v1h-1zM307 161h1v1h-1zM290 172h1v1h-1zM289 157h1v1h-1zM380 157h1v1h-1zM395 187h1v1h-1zM404 175h1v1h-1zM400 191h1v1h-1zM400 159h1v1h-1zM398 166h1v1h-1zM265 164h1v1h-1zM365 182h1v1h-1zM278 187h1v1h-1zM260 174h1v1h-1zM296 159h1v1h-1zM333 194h1v1h-1zM406 192h1v1h-1zM399 179h1v1h-1zM261 151h1v1h-1zM340 191h1v1h-1zM373 166h1v1h-1zM318 187h1v1h-1zM344 178h1v1h-1zM306 169h1v1h-1zM272 205h1v1h-1zM392 179h1v1h-1zM412 193h1v1h-1zM404 196h1v1h-1zM271 176h1v1h-1zM344 152h1v1h-1zM354 176h1v1h-1zM255 216h1v1h-1zM367 165h1v1h-1zM388 159h1v1h-1zM251 181h1v1h-1zM384 190h1v1h-1zM394 192h1v1h-1zM397 206h1v1h-1zM358 178h1v1h-1zM274 162h1v1h-1zM278 190h1v1h-1zM377 193h1v1h-1zM369 170h1v1h-1zM415 158h1v1h-1zM402 150h1v1h-1zM388 194h1v1h-1zM318 150h1v1h-1zM308 193h1v1h-1zM273 176h1v1h-1zM408 155h1v1h-1zM328 184h1v1h-1zM375 160h1v1h-1zM366 156h1v1h-1zM278 158h1v1h-1zM303 189h1v1h-1zM397 168h1v1h-1zM304 188h1v1h-1zM406 166h1v1h-1zM389 211h1v1h-1zM311 180h1v1h-1zM380 199h1v1h-1zM326 199h1v1h-1zM341 152h1v1h-1zM285 151h1v1h-1zM362 186h1v1h-1zM364 183h1v1h-1zM318 196h1v1h-1zM386 204h1v1h-1zM253 173h1v1h-1zM333 169h1v1h-1zM254 200h1v1h-1zM280 193h1v1h-1zM255 204h1v1h-1zM407 196h1v1h-1zM380 176h1v1h-1zM288 169h1v1h-1zM379 158h1v1h-1zM313 184h1v1h-1zM347 174h1v1h-1zM255 180h1v1h-1zM323 189h1v1h-1zM280 160h1v1h-1zM256 170h1v1h-1zM380 178h1v1h-1zM260 158h1v1h-1zM287 166h1v1h-1zM412 174h1v1h-1zM409 169h1v1h-1zM258 172h1v1h-1zM278 158h1v1h-1zM361 152h1v1h-1zM320 175h1v1h-1zM378 174h1v1h-1zM377 208h1v1h-1zM357 181h1v1h-1zM372 195h1v1h-1zM320 184h1v1h-1zM391 181h1v1h-1zM416 150h1v1h-1zM256 187h1v1h-1zM362 177h1v1h-1zM280 186h1v1h-1zM366 166h1v1h-1zM279 158h1v1h-1zM255 170h1v1h-1zM288 170h1v1h-1zM369 153h1v1h-1zM409 179h1v1h-1zM268 164h1v1h-1zM327 187h1v1h-1zM284 198h1v1h-1zM338 178h1v1h-1zM329 189h1v1h-1zM353 157h1v1h-1zM253 214h1v1h-1zM357 157h1v1h-1zM341 192h1v1h-1zM414 199h1v1h-1zM383 199h1v1h-1zM412 183h1v1h-1zM313 150h1v1h-1zM380 184h1v1h-1zM358 166h1v1h-1zM382 169h1v1h-1zM317 185h1v1h-1zM306 163h1v1h-1zM300 187h1v1h-1zM319 157h1v1h-1zM295 153h1v1h-1zM368 180h1v1h-1zM316 152h1v1h-1zM394 195h1v1h-1zM291 184h1v1h-1zM295 194h1v1h-1zM353 197h1v1h-1zM410 203h1v1h-1zM269 156h1v1h-1zM322 182h1v1h-1zM370 173h1v1h-1zM400 167h1v1h-1zM377 206h1v1h-1zM396 204h1v1h-1zM340 153h1v1h-1zM374 189h1v1h-1zM370 194h1v1h-1zM299 165h1v1h-1zM345 189h1v1h-1zM334 174h1v1h-1zM370 179h1v1h-1zM403 179h1v1h-1zM305 186h1v1h-1zM319 173h1v1h-1zM377 161h1v1h-1zM255 178h1v1h-1zM414 160h1v1h-1zM372 180h1v1h-1zM335 179h1v1h-1zM389 190h1v1h-1zM412 168h1v1h-1zM254 164h1v1h-1zM416 201h1v1h-1zM315 184h1v1h-1zM346 198h1v1h-1zM253 188h1v1h-1zM319 175h1v1h-1zM281 203h1v1h-1zM348 182h1v1h-1zM388 157h1v1h-1zM283 194h1v1h-1zM341 166h1v1h-1zM398 181h1v1h-1zM356 152h1v1h-1zM325 174h1v1h-1zM284 151h1v1h-1zM271 179h1v1h-1zM326 171h1v1h-1zM288 197h1v1h-1zM339 160h1v1h-1zM275 199h1v1h-1zM304 156h1v1h-1zM408 218h1v1h-1zM322 190h1v1h-1zM400 173h1v1h-1zM347 196h1v1h-1zM362 171h1v1h-1zM273 180h1v1h-1zM286 157h1v1h-1zM409 178h1v1h-1zM330 165h1v1h-1zM381 168h1v1h-1zM278 176h1v1h-1zM405 166h1v1h-1zM260 214h1v1h-1zM401 175h1v1h-1zM252 176h1v1h-1zM398 173h1v1h-1zM266 159h1v1h-1zM410 154h1v1h-1zM407 156h1v1h-1zM375 165h1v1h-1zM331 195h1v1h-1zM259 196h1v1h-1zM306 197h1v1h-1zM313 158h1v1h-1zM408 197h1v1h-1zM391 196h1v1h-1zM251 191h1v1h-1zM404 171h1v1h-1zM373 181h1v1h-1zM264 205h1v1h-1zM398 181h1v1h-1zM413 156h1v1h-1zM304 164h1v1h-1zM409 187h1v1h-1zM393 165h1v1h-1zM331 180h1v1h-1zM273 179h1v1h-1zM299 198h1v1h-1zM332 186h1v1h-1zM411 214h1v1h-1zM313 174h1v1h-1zM406 168h1v1h-1zM369 162h1v1h-1zM255 161h1v1h-1zM299 187h1v1h-1zM281 177h1v1h-1zM357 185h1v1h-1zM360 151h1v1h-1zM322 165h1v1h-1zM359 153h1v1h-1zM303 185h1v1h-1zM346 180h1v1h-1zM341 187h1v1h-1zM383 202h1v1h-1zM416 150h1v1h-1zM396 150h1v1h-1zM272 200h1v1h-1zM376 204h1v1h-1zM268 158h1v1h-1zM276 177h1v1h-1zM276 172h1v1h-1zM279 181h1v1h-1zM376 159h1v1h-1zM260 179h1v1h-1zM301 183h1v1h-1zM344 186h1v1h-1zM263 163h1v1h-1zM368 192h1v1h-1zM406 186h1v1h-1zM366 189h1v1h-1zM293 177h1v1h-1zM278 204h1v1h-1zM285 204h1v1h-1zM405 205h1v1h-1zM349 174h1v1h-1zM366 190h1v1h-1zM257 204h1v1h-1zM380 181h1v1h-1zM377 173h1v1h-1zM260 155h1v1h-1zM345 164h1v1h-1zM384 177h1v1h-1zM268 208h1v1h-1zM276 183h1v1h-1zM301 192h1v1h-1zM385 162h1v1h-1zM367 175h1v1h-1zM371 163h1v1h-1zM332 193h1v1h-1zM363 161h1v1h-1zM278 219h1v1h-1zM314 184h1v1h-1zM364 193h1v1h-1zM331 190h1v1h-1zM253 161h1v1h-1zM338 182h1v1h-1zM381 152h1v1h-1zM383 153h1v1h-1zM387 168h1v1h-1zM311 155h1v1h-1zM263 183h1v1h-1zM366 195h1v1h-1zM401 151h1v1h-1zM339 153h1v1h-1zM367 189h1v1h-1zM397 164h1v1h-1zM303 152h1v1h-1zM306 185h1v1h-1zM376 189h1v1h-1zM315 161h1v1h-1zM408 177h1v1h-1zM399 219h1v1h-1zM275 162h1v1h-1zM262 197h1v1h-1zM273 198h1v1h-1zM367 184h1v1h-1zM358 166h1v1h-1zM391 173h1v1h-1zM336 166h1v1h-1zM384 178h1v1h-1zM331 157h1v1h-1zM319 162h1v1h-1zM396 182h1v1h-1zM414 171h1v1h-1zM287 156h1v1h-1zM349 173h1v1h-1zM366 172h1v1h-1zM399 196h1v1h-1zM252 202h1v1h-1zM294 188h1v1h-1zM367 160h1v1h-1zM320 186h1v1h-1zM347 155h1v1h-1zM370 153h1v1h-1zM274 204h1v1h-1zM389 155h1v1h-1zM273 173h1v1h-1zM353 157h1v1h-1zM287 160h1v1h-1zM319 188h1v1h-1zM317 165h1v1h-1zM346 189h1v1h-1zM391 161h1v1h-1zM396 168h1v1h-1zM373 178h1v1h-1zM279 167h1v1h-1zM287 177h1v1h-1zM363 181h1v1h-1zM287 155h1v1h-1zM367 192h1v1h-1zM343 150h1v1h-1zM274 154h1v1h-1zM266 167h1v1h-1zM413 164h1v1h-1zM385 181h1v1h-1zM262 191h1v1h-1zM293 203h1v1h-1zM385 152h1v1h-1zM371 179h1v1h-1zM269 155h1v1h-1zM295 164h1v1h-1zM416 168h1v1h-1zM295 165h1v1h-1zM282 156h1v1h-1zM284 175h1v1h-1zM266 166h1v1h-1zM329 194h1v1h-1zM361 196h1v1h-1zM260 168h1v1h-1zM335 151h1v1h-1zM394 189h1v1h-1zM401 204h1v1h-1zM282 172h1v1h-1zM379 151h1v1h-1zM278 175h1v1h-1zM396 172h1v1h-1zM393 182h1v1h-1zM391 159h1v1h-1zM349 174h1v1h-1zM369 192h1v1h-1zM361 173h1v1h-1zM346 169h1v1h-1zM354 199h1v1h-1zM265 194h1v1h-1zM258 179h1v1h-1zM341 195h1v1h-1zM400 193h1v1h-1zM375 196h1v1h-1zM312 184h1v1h-1zM341 190h1v1h-1zM302 153h1v1h-1zM253 161h1v1h-1zM381 195h1v1h-1zM350 186h1v1h-1zM367 190h1v1h-1zM379 163h1v1h-1zM281 180h1v1h-1zM343 158h1v1h-1zM295 199h1v1h-1zM395 168h1v1h-1zM303 150h1v1h-1zM366 165h1v1h-1zM262 197h1v1h-1zM319 158h1v1h-1zM361 152h1v1h-1zM362 159h1v1h-1zM263 183h1v1h-1zM281 187h1v1h-1zM277 211h1v1h-1zM361 185h1v1h-1zM251 179h1v1h-1zM404 165h1v1h-1zM325 199h1v1h-1zM405 176h1v1h-1zM279 188h1v1h-1zM351 175h1v1h-1zM401 153h1v1h-1zM268 160h1v1h-1zM260 159h1v1h-1zM382 201h1v1h-1zM353 183h1v1h-1zM287 152h1v1h-1zM317 164h1v1h-1zM387 164h1v1h-1zM385 160h1v1h-1zM264 175h1v1h-1zM416 184h1v1h-1zM288 185h1v1h-1zM265 185h1v1h-1zM326 179h1v1h-1zM261 196h1v1h-1zM412 191h1v1h-1zM299 192h1v1h-1zM267 164h1v1h-1zM409 188h1v1h-1zM274 185h1v1h-1zM334 190h1v1h-1zM262 162h1v1h-1zM390 157h1v1h-1zM409 198h1v1h-1zM271 210h1v1h-1zM391 158h1v1h-1zM319 190h1v1h-1zM258 169h1v1h-1zM330 186h1v1h-1zM302 173h1v1h-1zM283 188h1v1h-1zM278 183h1v1h-1zM340 162h1v1h-1zM355 195h1v1h-1zM329 154h1v1h-1zM342 164h1v1h-1zM304 184h1v1h-1zM262 189h1v1h-1zM375 198h1v1h-1zM322 178h1v1h-1zM289 190h1v1h-1zM279 164h1v1h-1zM416 168h1v1h-1zM291 179h1v1h-1zM385 173h1v1h-1zM356 154h1v1h-1zM411 169h1v1h-1zM403 177h1v1h-1zM362 167h1v1h-1zM275 193h1v1h-1zM275 176h1v1h-1zM386 150h1v1h-1zM295 203h1v1h-1zM311 191h1v1h-1zM394 156h1v1h-1zM276 206h1v1h-1zM328 164h1v1h-1zM272 188h1v1h-1zM381 165h1v1h-1zM400 153h1v1h-1zM325 156h1v1h-1zM337 196h1v1h-1zM345 176h1v1h-1zM275 204h1v1h-1zM342 155h1v1h-1zM412 175h1v1h-1zM278 181h1v1h-1zM294 191h1v1h-1zM288 182h1v1h-1zM380 194h1v1h-1zM304 154h1v1h-1zM321 186h1v1h-1zM259 169h1v1h-1zM412 159h1v1h-1zM253 175h1v1h-1zM275 195h1v1h-1z" fill="#b2b2b2"/>
<path d="M401 174h1v1h-1zM382 210h1v1h-1zM260 174h1v1h-1zM251 177h1v1h-1zM281 167h1v1h-1zM381 174h1v1h-1zM274 176h1v1h-1zM283 211h1v1h-1zM349 173h1v1h-1zM330 179h1v1h-1zM299 170h1v1h-1zM295 158h1v1h-1zM286 207h1v1h-1zM253 197h1v1h-1zM307 190h1v1h-1zM319 180h1v1h-1zM345 159h1v1h-1zM260 172h1v1h-1zM320 194h1v1h-1zM415 165h1v1h-1zM377 161h1v1h-1zM330 198h1v1h-1zM376 161h1v1h-1zM354 184h1v1h-1zM300 169h1v1h-1zM381 182h1v1h-1zM413 202h1v1h-1zM388 176h1v1h-1zM386 177h1v1h-1zM405 190h1v1h-1zM285 180h1v1h-1zM390 166h1v1h-1zM298 164h1v1h-1zM275 157h1v1h-1zM254 155h1v1h-1zM345 201h1v1h-1zM272 201h1v1h-1zM322 164h1v1h-1zM388 197h1v1h-1zM354 176h1v1h-1zM342 156h1v1h-1zM280 163h1v1h-1zM313 155h1v1h-1zM332 159h1v1h-1zM370 168h1v1h-1zM410 203h1v1h-1zM414 203h1v1h-1zM325 166h1v1h-1zM380 195h1v1h-1zM413 185h1v1h-1zM299 181h1v1h-1zM273 170h1v1h-1zM281 207h1v1h-1zM270 189h1v1h-1zM359 181h1v1h-1zM358 203h1v1h-1zM328 169h1v1h-1zM278 175h1v1h-1zM342 177h1v1h-1zM404 210h1v1h-1zM263 177h1v1h-1zM321 157h1v1h-1zM303 169h1v1h-1zM328 152h1v1h-1zM390 202h1v1h-1zM253 176h1v1h-1zM273 182h1v1h-1zM287 162h1v1h-1zM412 172h1v1h-1zM309 154h1v1h-1zM381 167h1v1h-1zM407 190h1v1h-1zM326 163h1v1h-1zM397 175h1v1h-1zM396 153h1v1h-1zM272 167h1v1h-1zM366 167h1v1h-1zM294 192h1v1h-1zM348 152h1v1h-1zM264 154h1v1h-1zM402 158h1v1h-1zM412 180h1v1h-1zM357 160h1v1h-1zM301 184h1v1h-1zM328 173h1v1h-1zM323 174h1v1h-1zM387 172h1v1h-1zM317 154h1v1h-1zM297 191h1v1h-1zM280 172h1v1h-1zM316 181h1v1h-1zM306 155h1v1h-1zM376 167h1v1h-1zM261 150h1v1h-1zM315 165h1v1h-1zM309 196h1v1h-1zM347 156h1v1h-1zM358 194h1v1h-1zM382 200h1v1h-1zM261 174h1v1h-1zM347 168h1v1h-1zM345 194h1v1h-1zM378 185h1v1h-1zM293 194h1v1h-1zM349 154h1v1h-1zM309 183h1v1h-1zM304 200h1v1h-1zM314 196h1v1h-1zM345 191h1v1h-1zM336 176h1v1h-1zM396 203h1v1h-1zM410 184h1v1h-1zM410 187h1v1h-1zM352 199h1v1h-1zM398 168h1v1h-1zM336 177h1v1h-1zM305 156h1v1h-1zM390 188h1v1h-1zM296 194h1v1h-1zM275 191h1v1h-1zM350 191h1v1h-1zM316 190h1v1h-1zM317 158h1v1h-1zM405 176h1v1h-1zM297 166h1v1h-1zM325 151h1v1h-1zM373 157h1v1h-1zM256 200h1v1h-1zM268 209h1v1h-1zM326 195h1v1h-1zM402 202h1v1h-1zM253 179h1v1h-1zM404 183h1v1h-1zM386 157h1v1h-1zM404 197h1v1h-1zM410 160h1v1h-1zM338 152h1v1h-1zM411 159h1v1h-1zM272 206h1v1h-1zM293 191h1v1h-1zM347 181h1v1h-1zM361 158h1v1h-1zM375 165h1v1h-1zM314 169h1v1h-1zM339 165h1v1h-1zM324 182h1v1h-1zM407 161h1v1h-1zM366 197h1v1h-1zM395 165h1v1h-1zM394 161h1v1h-1zM307 184h1v1h-1zM294 161h1v1h-1zM357 154h1v1h-1zM307 194h1v1h-1zM295 175h1v1h-1zM397 152h1v1h-1zM303 154h1v1h-1zM310 193h1v1h-1zM267 204h1v1h-1zM268 176h1v1h-1zM338 167h1v1h-1zM300 180h1v1h-1zM281 184h1v1h-1zM274 160h1v1h-1zM379 173h1v1h-1zM292 155h1v1h-1zM294 190h1v1h-1zM322 156h1v1h-1zM269 212h1v1h-1zM327 166h1v1h-1zM321 188h1v1h-1zM298 183h1v1h-1zM370 184h1v1h-1zM278 185h1v1h-1zM297 157h1v1h-1zM395 166h1v1h-1zM370 163h1v1h-1zM328 152h1v1h-1zM381 202h1v1h-1zM362 190h1v1h-1zM353 159h1v1h-1zM291 153h1v1h-1zM377 191h1v1h-1zM306 198h1v1h-1zM289 189h1v1h-1zM325 192h1v1h-1zM406 214h1v1h-1zM361 172h1v1h-1zM264 209h1v1h-1zM390 206h1v1h-1zM398 218h1v1h-1zM299 178h1v1h-1zM333 183h1v1h-1zM315 199h1v1h-1zM267 182h1v1h-1zM288 173h1v1h-1zM264 194h1v1h-1zM402 164h1v1h-1zM324 173h1v1h-1zM302 159h1v1h-1zM408 153h1v1h-1zM343 185h1v1h-1zM374 184h1v1h-1zM362 185h1v1h-1zM298 196h1v1h-1zM389 183h1v1h-1zM267 205h1v1h-1zM388 169h1v1h-1zM358 202h1v1h-1zM319 157h1v1h-1zM359 162h1v1h-1zM330 197h1v1h-1zM253 150h1v1h-1zM374 168h1v1h-1zM263 192h1v1h-1zM371 201h1v1h-1zM380 180h1v1h-1zM294 183h1v1h-1zM337 203h1v1h-1zM381 162h1v1h-1zM345 159h1v1h-1zM308 181h1v1h-1zM413 164h1v1h-1zM379 161h1v1h-1zM364 161h1v1h-1zM337 172h1v1h-1zM364 179h1v1h-1zM272 175h1v1h-1zM386 162h1v1h-1zM335 175h1v1h-1zM326 188h1v1h-1zM252 192h1v1h-1zM304 155h1v1h-1zM385 191h1v1h-1zM288 182h1v1h-1zM313 179h1v1h-1zM410 206h1v1h-1zM275 177h1v1h-1zM276 215h1v1h-1zM307 152h1v1h-1zM264 197h1v1h-1zM361 180h1v1h-1zM252 181h1v1h-1zM415 151h1v1h-1zM403 182h1v1h-1zM361 187h1v1h-1zM359 163h1v1h-1zM302 194h1v1h-1zM291 155h1v1h-1zM394 194h1v1h-1zM371 176h1v1h-1zM340 193h1v1h-1zM301 183h1v1h-1zM280 155h1v1h-1zM251 172h1v1h-1zM314 200h1v1h-1zM309 185h1v1h-1zM255 190h1v1h-1zM290 172h1v1h-1zM409 210h1v1h-1zM394 179h1v1h-1zM321 153h1v1h-1zM375 184h1v1h-1zM367 175h1v1h-1zM380 178h1v1h-1zM352 178h1v1h-1zM381 152h1v1h-1zM406 195h1v1h-1zM323 190h1v1h-1zM336 187h1v1h-1zM370 179h1v1h-1zM289 182h1v1h-1zM340 181h1v1h-1zM325 195h1v1h-1zM412 160h1v1h-1zM332 180h1v1h-1zM340 191h1v1h-1zM274 156h1v1h-1zM347 188h1v1h-1zM375 160h1v1h-1zM260 199h1v1h-1zM372 163h1v1h-1zM416 157h1v1h-1zM297 188h1v1h-1zM260 198h1v1h-1zM404 209h1v1h-1zM283 178h1v1h-1zM373 185h1v1h-1zM411 167h1v1h-1zM380 159h1v1h-1zM277 210h1v1h-1zM382 195h1v1h-1zM412 168h1v1h-1zM251 174h1v1h-1zM404 153h1v1h-1zM411 184h1v1h-1zM288 185h1v1h-1zM280 195h1v1h-1zM332 176h1v1h-1zM310 198h1v1h-1zM403 212h1v1h-1zM265 187h1v1h-1zM414 169h1v1h-1zM368 154h1v1h-1zM297 203h1v1h-1zM416 158h1v1h-1zM382 196h1v1h-1zM305 160h1v1h-1zM345 155h1v1h-1zM337 153h1v1h-1zM311 183h1v1h-1zM290 151h1v1h-1zM332 157h1v1h-1zM314 162h1v1h-1zM322 172h1v1h-1zM407 181h1v1h-1zM355 204h1v1h-1zM342 175h1v1h-1zM266 212h1v1h-1zM346 162h1v1h-1zM271 155h1v1h-1zM337 195h1v1h-1zM399 157h1v1h-1zM389 184h1v1h-1zM335 158h1v1h-1zM288 187h1v1h-1zM380 213h1v1h-1zM282 150h1v1h-1zM415 167h1v1h-1zM303 177h1v1h-1zM291 153h1v1h-1zM274 206h1v1h-1zM309 153h1v1h-1zM409 165h1v1h-1zM395 214h1v1h-1zM334 190h1v1h-1zM357 162h1v1h-1zM395 197h1v1h-1zM341 183h1v1h-1zM366 163h1v1h-1zM328 203h1v1h-1zM361 176h1v1h-1zM292 161h1v1h-1zM412 212h1v1h-1zM329 182h1v1h-1zM286 152h1v1h-1zM327 159h1v1h-1zM265 173h1v1h-1zM354 168h1v1h-1zM361 153h1v1h-1zM301 165h1v1h-1zM394 164h1v1h-1zM410 165h1v1h-1zM315 167h1v1h-1zM302 169h1v1h-1zM337 181h1v1h-1zM356 182h1v1h-1zM355 155h1v1h-1zM258 164h1v1h-1zM364 170h1v1h-1zM384 201h1v1h-1zM296 196h1v1h-1zM281 183h1v1h-1zM321 157h1v1h-1zM409 191h1v1h-1zM384 150h1v1h-1zM403 202h1v1h-1zM264 172h1v1h-1zM327 166h1v1h-1zM269 169h1v1h-1zM301 174h1v1h-1zM344 171h1v1h-1zM296 154h1v1h-1zM321 199h1v1h-1zM268 201h1v1h-1zM255 194h1v1h-1zM385 155h1v1h-1zM326 176h1v1h-1zM354 155h1v1h-1zM284 209h1v1h-1zM353 181h1v1h-1zM262 189h1v1h-1zM293 195h1v1h-1zM322 159h1v1h-1zM296 185h1v1h-1zM402 176h1v1h-1zM279 184h1v1h-1zM274 193h1v1h-1zM360 190h1v1h-1zM372 172h1v1h-1zM407 177h1v1h-1zM403 192h1v1h-1zM364 180h1v1h-1zM271 184h1v1h-1zM282 152h1v1h-1zM350 167h1v1h-1zM339 176h1v1h-1zM363 173h1v1h-1zM360 156h1v1h-1zM372 184h1v1h-1zM296 159h1v1h-1zM262 152h1v1h-1zM344 195h1v1h-1zM376 220h1v1h-1zM285 183h1v1h-1zM268 187h1v1h-1zM313 183h1v1h-1zM371 190h1v1h-1zM301 180h1v1h-1zM365 178h1v1h-1zM356 184h1v1h-1zM285 188h1v1h-1zM332 188h1v1h-1zM251 179h1v1h-1zM374 154h1v1h-1zM322 164h1v1h-1zM290 150h1v1h-1zM368 191h1v1h-1zM400 156h1v1h-1zM340 192h1v1h-1zM255 207h1v1h-1zM255 193h1v1h-1zM281 160h1v1h-1zM280 188h1v1h-1zM342 181h1v1h-1zM295 163h1v1h-1zM331 156h1v1h-1zM257 155h1v1h-1zM338 181h1v1h-1zM415 187h1v1h-1zM406 184h1v1h-1zM263 175h1v1h-1zM268 161h1v1h-1zM298 180h1v1h-1zM372 169h1v1h-1zM416 156h1v1h-1zM389 191h1v1h-1zM266 209h1v1h-1zM259 198h1v1h-1zM339 185h1v1h-1zM313 183h1v1h-1zM347 161h1v1h-1zM389 158h1v1h-1zM373 152h1v1h-1zM365 162h1v1h-1zM382 172h1v1h-1zM360 201h1v1h-1zM258 157h1v1h-1zM389 210h1v1h-1zM410 154h1v1h-1zM386 190h1v1h-1zM347 152h1v1h-1zM307 177h1v1h-1zM290 183h1v1h-1zM344 171h1v1h-1zM343 192h1v1h-1zM395 165h1v1h-1zM371 181h1v1h-1zM306 200h1v1h-1zM261 185h1v1h-1zM291 166h1v1h-1zM359 180h1v1h-1zM404 198h1v1h-1zM344 177h1v1h-1zM325 154h1v1h-1zM291 165h1v1h-1zM328 196h1v1h-1zM321 157h1v1h-1zM320 172h1v1h-1zM294 150h1v1h-1zM262 161h1v1h-1zM288 152h1v1h-1zM306 174h1v1h-1zM265 169h1v1h-1zM319 188h1v1h-1zM352 182h1v1h-1zM318 191h1v1h-1zM305 166h1v1h-1zM383 190h1v1h-1zM340 189h1v1h-1zM337 188h1v1h-1zM380 185h1v1h-1zM371 176h1v1h-1zM330 190h1v1h-1zM297 192h1v1h-1zM282 166h1v1h-1zM254 199h1v1h-1zM394 190h1v1h-1zM365 188h1v1h-1zM340 192h1v1h-1zM408 183h1v1h-1zM291 176h1v1h-1zM272 174h1v1h-1zM255 160h1v1h-1zM277 161h1v1h-1zM405 170h1v1h-1zM371 169h1v1h-1zM375 208h1v1h-1zM286 152h1v1h-1zM275 191h1v1h-1zM359 185h1v1h-1zM257 188h1v1h-1zM256 169h1v1h-1zM396 170h1v1h-1zM394 194h1v1h-1zM412 174h1v1h-1zM361 186h1v1h-1zM280 152h1v1h-1zM397 193h1v1h-1zM374 172h1v1h-1zM287 181h1v1h-1zM344 199h1v1h-1zM360 179h1v1h-1zM406 199h1v1h-1zM277 168h1v1h-1zM374 175h1v1h-1zM362 189h1v1h-1zM387 184h1v1h-1zM358 199h1v1h-1zM331 165h1v1h-1zM358 189h1v1h-1zM409 185h1v1h-1zM322 170h1v1h-1zM270 183h1v1h-1zM348 164h1v1h-1zM379 193h1v1h-1zM383 200h1v1h-1zM285 170h1v1h-1zM376 157h1v1h-1zM402 184h1v1h-1zM304 190h1v1h-1zM327 177h1v1h-1zM386 176h1v1h-1zM383 157h1v1h-1zM396 187h1v1h-1zM369 178h1v1h-1zM292 164h1v1h-1zM373 169h1v1h-1zM343 183h1v1h-1zM379 166h1v1h-1zM302 151h1v1h-1zM369 174h1v1h-1zM399 175h1v1h-1zM382 195h1v1h-1zM397 184h1v1h-1zM349 196h1v1h-1zM320 177h1v1h-1zM412 164h1v1h-1zM377 196h1v1h-1zM266 205h1v1h-1zM388 166h1v1h-1zM263 157h1v1h-1zM277 176h1v1h-1zM343 178h1v1h-1zM412 197h1v1h-1zM279 162h1v1h-1zM336 197h1v1h-1zM311 180h1v1h-1zM333 150h1v1h-1zM322 193h1v1h-1zM390 158h1v1h-1zM382 186h1v1h-1zM375 192h1v1h-1zM304 171h1v1h-1zM342 178h1v1h-1zM342 176h1v1h-1zM263 194h1v1h-1zM336 160h1v1h-1zM397 164h1v1h-1zM329 182h1v1h-1zM354 186h1v1h-1zM305 174h1v1h-1zM270 195h1v1h-1zM252 193h1v1h-1zM413 193h1v1h-1zM271 188h1v1h-1zM368 156h1v1h-1zM416 165h1v1h-1zM283 165h1v1h-1zM304 199h1v1h-1zM316 158h1v1h-1zM326 165h1v1h-1zM315 186h1v1h-1zM278 187h1v1h-1zM376 197h1v1h-1zM282 159h1v1h-1zM351 179h1v1h-1zM359 163h1v1h-1zM270 201h1v1h-1zM403 160h1v1h-1zM283 187h1v1h-1zM293 175h1v1h-1zM252 214h1v1h-1zM272 179h1v1h-1zM397 177h1v1h-1zM331 182h1v1h-1zM262 198h1v1h-1zM374 150h1v1h-1zM303 158h1v1h-1zM300 157h1v1h-1zM359 161h1v1h-1zM387 177h1v1h-1zM384 157h1v1h-1zM281 178h1v1h-1zM354 156h1v1h-1zM298 152h1v1h-1zM370 151h1v1h-1zM263 185h1v1h-1zM371 173h1v1h-1zM383 193h1v1h-1zM271 189h1v1h-1zM290 159h1v1h-1zM356 159h1v1h-1zM264 163h1v1h-1zM278 175h1v1h-1zM284 198h1v1h-1zM404 163h1v1h-1zM346 192h1v1h-1zM406 162h1v1h-1zM329 172h1v1h-1zM340 167h1v1h-1zM368 166h1v1h-1zM285 188h1v1h-1zM341 189h1v1h-1zM273 165h1v1h-1zM404 199h1v1h-1zM336 179h1v1h-1zM336 180h1v1h-1zM307 190h1v1h-1zM287 183h1v1h-1zM415 166h1v1h-1zM294 157h1v1h-1zM386 161h1v1h-1zM354 190h1v1h-1zM284 204h1v1h-1zM407 162h1v1h-1zM363 192h1v1h-1zM367 173h1v1h-1zM297 192h1v1h-1zM283 183h1v1h-1zM389 175h1v1h-1zM279 187h1v1h-1zM351 192h1v1h-1zM257 209h1v1h-1zM362 195h1v1h-1zM411 178h1v1h-1zM264 211h1v1h-1zM340 188h1v1h-1zM258 199h1v1h-1zM365 166h1v1h-1zM410 178h1v1h-1zM412 195h1v1h-1zM266 159h1v1h-1zM288 168h1v1h-1zM338 195h1v1h-1zM385 191h1v1h-1zM388 150h1v1h-1zM252 178h1v1h-1zM394 209h1v1h-1zM280 205h1v1h-1zM277 183h1v1h-1zM361 159h1v1h-1zM294 189h1v1h-1zM313 163h1v1h-1zM372 173h1v1h-1zM381 152h1v1h-1zM326 166h1v1h-1zM310 175h1v1h-1zM404 164h1v1h-1zM381 194h1v1h-1zM286 186h1v1h-1zM390 154h1v1h-1zM409 202h1v1h-1zM403 218h1v1h-1zM369 157h1v1h-1zM376 187h1v1h-1zM268 169h1v1h-1zM270 154h1v1h-1zM396 201h1v1h-1zM259 186h1v1h-1zM382 200h1v1h-1zM368 171h1v1h-1zM373 183h1v1h-1zM286 167h1v1h-1zM308 174h1v1h-1zM399 193h1v1h-1zM410 186h1v1h-1zM404 175h1v1h-1zM369 181h1v1h-1zM276 167h1v1h-1zM394 186h1v1h-1zM279 161h1v1h-1zM415 191h1v1h-1zM272 189h1v1h-1zM339 169h1v1h-1zM339 193h1v1h-1zM287 171h1v1h-1zM329 178h1v1h-1zM264 168h1v1h-1zM251 202h1v1h-1zM257 152h1v1h-1zM357 180h1v1h-1zM409 172h1v1h-1zM377 192h1v1h-1zM413 203h1v1h-1zM300 150h1v1h-1zM381 166h1v1h-1zM282 190h1v1h-1zM329 158h1v1h-1zM304 181h1v1h-1zM384 192h1v1h-1zM377 192h1v1h-1zM400 181h1v1h-1zM311 171h1v1h-1zM360 172h1v1h-1zM265 154h1v1h-1zM311 167h1v1h-1zM393 155h1v1h-1zM336 185h1v1h-1zM382 185h1v1h-1zM371 200h1v1h-1zM391 161h1v1h-1zM380 157h1v1h-1zM254 209h1v1h-1zM360 180h1v1h-1zM289 172h1v1h-1zM319 160h1v1h-1zM278 209h1v1h-1zM388 178h1v1h-1zM309 152h1v1h-1zM411 194h1v1h-1zM284 175h1v1h-1zM286 168h1v1h-1zM260 180h1v1h-1zM303 198h1v1h-1zM406 161h1v1h-1zM346 150h1v1h-1zM308 158h1v1h-1zM255 182h1v1h-1zM383 190h1v1h-1zM410 168h1v1h-1zM335 188h1v1h-1zM279 171h1v1h-1zM291 164h1v1h-1zM273 156h1v1h-1zM294 201h1v1h-1zM407 194h1v1h-1zM313 188h1v1h-1zM288 171h1v1h-1zM305 189h1v1h-1zM300 195h1v1h-1zM288 189h1v1h-1zM378 163h1v1h-1zM401 179h1v1h-1zM403 182h1v1h-1zM368 165h1v1h-1zM363 170h1v1h-1zM290 200h1v1h-1zM406 201h1v1h-1zM253 193h1v1h-1zM408 199h1v1h-1zM323 168h1v1h-1zM336 155h1v1h-1zM409 180h1v1h-1zM316 175h1v1h-1zM386 210h1v1h-1zM330 195h1v1h-1zM409 172h1v1h-1zM278 167h1v1h-1zM315 154h1v1h-1zM413 156h1v1h-1zM293 180h1v1h-1zM320 191h1v1h-1zM393 198h1v1h-1zM328 170h1v1h-1zM261 176h1v1h-1zM381 156h1v1h-1zM370 156h1v1h-1zM262 211h1v1h-1zM281 182h1v1h-1zM263 160h1v1h-1zM342 150h1v1h-1zM330 186h1v1h-1zM395 176h1v1h-1zM368 157h1v1h-1zM286 178h1v1h-1zM288 158h1v1h-1zM352 193h1v1h-1zM406 162h1v1h-1zM411 191h1v1h-1zM270 180h1v1h-1zM389 169h1v1h-1zM347 177h1v1h-1zM303 174h1v1h-1zM395 187h1v1h-1zM300 185h1v1h-1zM264 187h1v1h-1zM285 171h1v1h-1zM281 181h1v1h-1z" fill="#c2c2c2"/>
<path d="M392 160h1v1h-1zM331 179h1v1h-1zM353 163h1v1h-1zM412 175h1v1h-1zM337 161h1v1h-1zM317 151h1v1h-1zM278 154h1v1h-1zM408 159h1v1h-1zM262 172h1v1h-1zM284 161h1v1h-1zM268 189h1v1h-1zM262 166h1v1h-1zM383 171h1v1h-1zM313 199h1v1h-1zM388 191h1v1h-1zM259 172h1v1h-1zM394 171h1v1h-1zM328 168h1v1h-1zM409 153h1v1h-1zM254 186h1v1h-1zM310 194h1v1h-1zM343 164h1v1h-1zM295 170h1v1h-1zM382 195h1v1h-1zM275 215h1v1h-1zM380 193h1v1h-1zM354 167h1v1h-1zM269 193h1v1h-1zM320 188h1v1h-1zM253 162h1v1h-1zM315 185h1v1h-1zM353 189h1v1h-1zM374 164h1v1h-1zM412 197h1v1h-1zM304 193h1v1h-1zM350 169h1v1h-1zM290 191h1v1h-1zM405 160h1v1h-1zM377 191h1v1h-1zM287 178h1v1h-1zM334 196h1v1h-1zM352 199h1v1h-1zM273 208h1v1h-1zM390 170h1v1h-1zM336 160h1v1h-1zM292 198h1v1h-1zM374 154h1v1h-1zM364 173h1v1h-1zM354 172h1v1h-1zM333 168h1v1h-1zM383 166h1v1h-1zM330 190h1v1h-1zM354 159h1v1h-1zM370 158h1v1h-1zM325 198h1v1h-1zM302 198h1v1h-1zM335 174h1v1h-1zM347 176h1v1h-1zM391 179h1v1h-1zM335 161h1v1h-1zM282 150h1v1h-1zM344 180h1v1h-1zM297 167h1v1h-1zM384 166h1v1h-1zM395 164h1v1h-1zM403 191h1v1h-1zM277 217h1v1h-1zM367 150h1v1h-1zM352 168h1v1h-1zM331 189h1v1h-1zM303 175h1v1h-1zM266 175h1v1h-1zM263 163h1v1h-1zM252 186h1v1h-1zM407 179h1v1h-1zM400 157h1v1h-1zM269 156h1v1h-1zM383 173h1v1h-1zM319 163h1v1h-1zM265 169h1v1h-1zM383 195h1v1h-1zM395 151h1v1h-1zM268 177h1v1h-1zM282 197h1v1h-1zM349 192h1v1h-1zM384 161h1v1h-1zM400 182h1v1h-1zM260 194h1v1h-1zM395 188h1v1h-1zM357 158h1v1h-1zM380 184h1v1h-1zM289 174h1v1h-1zM336 183h1v1h-1zM277 152h1v1h-1zM292 170h1v1h-1zM410 212h1v1h-1zM268 163h1v1h-1zM374 156h1v1h-1zM351 182h1v1h-1zM400 167h1v1h-1zM261 174h1v1h-1zM265 177h1v1h-1zM321 174h1v1h-1zM270 184h1v1h-1zM304 158h1v1h-1zM333 199h1v1h-1zM322 158h1v1h-1zM403 162h1v1h-1zM256 172h1v1h-1zM268 163h1v1h-1zM403 156h1v1h-1zM260 193h1v1h-1zM336 154h1v1h-1zM273 176h1v1h-1zM337 190h1v1h-1zM322 164h1v1h-1zM268 176h1v1h-1zM323 165h1v1h-1zM414 158h1v1h-1zM358 192h1v1h-1zM400 206h1v1h-1zM254 202h1v1h-1zM344 152h1v1h-1zM269 196h1v1h-1zM351 188h1v1h-1zM280 156h1v1h-1zM308 162h1v1h-1zM259 190h1v1h-1zM252 195h1v1h-1zM406 157h1v1h-1zM305 182h1v1h-1zM359 197h1v1h-1zM352 178h1v1h-1zM335 154h1v1h-1zM289 169h1v1h-1zM269 164h1v1h-1zM282 169h1v1h-1zM254 194h1v1h-1zM376 179h1v1h-1zM316 158h1v1h-1zM298 163h1v1h-1zM299 171h1v1h-1zM388 182h1v1h-1zM258 186h1v1h-1zM387 183h1v1h-1zM264 204h1v1h-1zM345 189h1v1h-1zM327 182h1v1h-1zM256 212h1v1h-1zM272 150h1v1h-1zM318 156h1v1h-1zM385 192h1v1h-1zM373 178h1v1h-1zM298 180h1v1h-1zM393 167h1v1h-1zM377 178h1v1h-1zM269 173h1v1h-1zM263 165h1v1h-1zM396 206h1v1h-1zM255 159h1v1h-1zM390 156h1v1h-1zM257 173h1v1h-1zM254 171h1v1h-1zM261 193h1v1h-1zM372 182h1v1h-1zM381 221h1v1h-1zM413 150h1v1h-1zM287 153h1v1h-1zM400 201h1v1h-1zM325 190h1v1h-1zM291 164h1v1h-1zM257 187h1v1h-1zM369 157h1v1h-1zM385 181h1v1h-1zM400 190h1v1h-1zM331 165h1v1h-1zM362 177h1v1h-1zM308 160h1v1h-1zM357 194h1v1h-1zM337 196h1v1h-1zM270 151h1v1h-1zM390 171h1v1h-1zM410 196h1v1h-1zM258 206h1v1h-1zM391 178h1v1h-1zM341 194h1v1h-1zM408 172h1v1h-1zM262 169h1v1h-1zM394 152h1v1h-1zM325 188h1v1h-1zM254 152h1v1h-1zM382 174h1v1h-1zM323 152h1v1h-1zM279 181h1v1h-1zM390 204h1v1h-1zM260 187h1v1h-1zM313 189h1v1h-1zM414 173h1v1h-1zM260 180h1v1h-1zM281 199h1v1h-1zM280 153h1v1h-1zM409 198h1v1h-1zM401 200h1v1h-1zM318 186h1v1h-1zM365 153h1v1h-1zM251 192h1v1h-1zM286 208h1v1h-1zM274 194h1v1h-1zM389 191h1v1h-1zM343 196h1v1h-1zM297 156h1v1h-1zM392 154h1v1h-1zM377 188h1v1h-1zM409 173h1v1h-1zM390 215h1v1h-1zM314 171h1v1h-1zM416 197h1v1h-1zM282 182h1v1h-1zM370 195h1v1h-1zM415 155h1v1h-1zM383 203h1v1h-1zM356 170h1v1h-1zM332 187h1v1h-1zM263 170h1v1h-1zM305 158h1v1h-1zM372 166h1v1h-1zM274 180h1v1h-1zM359 178h1v1h-1zM258 160h1v1h-1zM371 162h1v1h-1zM267 188h1v1h-1zM364 159h1v1h-1zM326 186h1v1h-1zM255 208h1v1h-1zM252 171h1v1h-1zM362 167h1v1h-1zM340 187h1v1h-1zM283 194h1v1h-1zM260 202h1v1h-1zM406 172h1v1h-1zM408 172h1v1h-1zM404 171h1v1h-1zM413 200h1v1h-1zM342 155h1v1h-1zM410 175h1v1h-1zM385 184h1v1h-1zM267 202h1v1h-1zM403 167h1v1h-1zM347 157h1v1h-1zM349 190h1v1h-1zM268 152h1v1h-1zM370 164h1v1h-1zM382 217h1v1h-1zM292 156h1v1h-1zM410 199h1v1h-1zM399 203h1v1h-1zM283 179h1v1h-1zM302 181h1v1h-1zM268 171h1v1h-1zM261 150h1v1h-1zM313 200h1v1h-1zM371 160h1v1h-1zM306 190h1v1h-1zM285 187h1v1h-1zM402 158h1v1h-1zM298 175h1v1h-1zM316 154h1v1h-1zM320 174h1v1h-1zM410 179h1v1h-1zM276 198h1v1h-1zM258 181h1v1h-1zM403 180h1v1h-1zM276 188h1v1h-1zM391 176h1v1h-1zM391 173h1v1h-1zM270 208h1v1h-1zM404 184h1v1h-1zM300 161h1v1h-1zM256 171h1v1h-1zM332 158h1v1h-1zM351 178h1v1h-1zM389 204h1v1h-1zM376 182h1v1h-1zM257 167h1v1h-1zM268 174h1v1h-1zM277 158h1v1h-1zM290 158h1v1h-1zM392 158h1v1h-1zM377 155h1v1h-1zM383 167h1v1h-1zM286 197h1v1h-1zM279 169h1v1h-1zM349 197h1v1h-1zM386 189h1v1h-1zM376 170h1v1h-1zM384 189h1v1h-1zM312 190h1v1h-1zM263 202h1v1h-1zM329 158h1v1h-1zM368 160h1v1h-1zM377 194h1v1h-1zM321 196h1v1h-1zM392 160h1v1h-1zM303 151h1v1h-1zM384 161h1v1h-1zM327 190h1v1h-1zM252 184h1v1h-1zM370 171h1v1h-1zM288 194h1v1h-1zM328 177h1v1h-1zM252 204h1v1h-1zM367 195h1v1h-1zM360 164h1v1h-1zM299 157h1v1h-1zM408 170h1v1h-1zM411 189h1v1h-1zM383 185h1v1h-1zM276 172h1v1h-1zM317 191h1v1h-1zM273 153h1v1h-1zM274 157h1v1h-1zM258 174h1v1h-1zM367 176h1v1h-1zM265 153h1v1h-1zM260 176h1v1h-1zM256 188h1v1h-1zM379 198h1v1h-1zM396 199h1v1h-1zM396 167h1v1h-1zM273 188h1v1h-1zM400 177h1v1h-1zM263 160h1v1h-1zM367 190h1v1h-1zM338 181h1v1h-1zM272 200h1v1h-1zM370 173h1v1h-1zM388 197h1v1h-1zM325 179h1v1h-1zM279 190h1v1h-1zM261 164h1v1h-1zM384 158h1v1h-1zM299 173h1v1h-1zM293 169h1v1h-1zM265 152h1v1h-1zM286 151h1v1h-1zM389 176h1v1h-1zM311 171h1v1h-1zM377 202h1v1h-1zM363 152h1v1h-1zM257 200h1v1h-1zM275 162h1v1h-1zM392 188h1v1h-1zM296 160h1v1h-1zM290 194h1v1h-1zM262 181h1v1h-1zM387 181h1v1h-1zM368 153h1v1h-1zM362 176h1v1h-1zM387 183h1v1h-1zM371 167h1v1h-1zM265 180h1v1h-1zM268 195h1v1h-1zM254 192h1v1h-1zM376 209h1v1h-1zM393 156h1v1h-1zM275 188h1v1h-1zM324 154h1v1h-1zM307 159h1v1h-1zM275 150h1v1h-1zM282 198h1v1h-1zM355 169h1v1h-1zM380 175h1v1h-1zM383 205h1v1h-1zM275 157h1v1h-1zM348 193h1v1h-1zM277 151h1v1h-1zM399 194h1v1h-1zM257 196h1v1h-1zM354 192h1v1h-1zM350 171h1v1h-1zM410 154h1v1h-1zM313 177h1v1h-1zM388 167h1v1h-1zM413 186h1v1h-1zM403 190h1v1h-1zM336 191h1v1h-1zM347 184h1v1h-1zM284 155h1v1h-1zM408 197h1v1h-1zM296 188h1v1h-1zM389 152h1v1h-1zM285 178h1v1h-1zM400 172h1v1h-1zM407 154h1v1h-1zM327 187h1v1h-1zM295 162h1v1h-1zM267 199h1v1h-1zM272 151h1v1h-1zM387 150h1v1h-1zM385 150h1v1h-1zM411 161h1v1h-1zM313 184h1v1h-1zM327 183h1v1h-1zM298 186h1v1h-1zM416 190h1v1h-1zM265 169h1v1h-1zM343 182h1v1h-1zM331 155h1v1h-1zM341 169h1v1h-1zM369 158h1v1h-1zM377 197h1v1h-1zM261 177h1v1h-1zM310 173h1v1h-1zM322 155h1v1h-1zM330 155h1v1h-1zM367 165h1v1h-1zM416 204h1v1h-1zM341 151h1v1h-1zM274 173h1v1h-1zM331 177h1v1h-1zM387 184h1v1h-1zM346 153h1v1h-1zM340 180h1v1h-1zM257 165h1v1h-1zM392 166h1v1h-1zM301 185h1v1h-1zM343 204h1v1h-1zM262 184h1v1h-1zM273 205h1v1h-1zM288 188h1v1h-1zM304 171h1v1h-1zM282 174h1v1h-1zM349 153h1v1h-1zM270 184h1v1h-1zM307 176h1v1h-1zM344 189h1v1h-1zM380 212h1v1h-1zM280 199h1v1h-1zM295 199h1v1h-1zM267 160h1v1h-1zM369 194h1v1h-1zM304 181h1v1h-1zM362 150h1v1h-1zM374 186h1v1h-1zM355 192h1v1h-1zM368 156h1v1h-1zM387 187h1v1h-1zM391 188h1v1h-1zM363 193h1v1h-1zM407 172h1v1h-1zM311 155h1v1h-1zM336 182h1v1h-1zM402 189h1v1h-1zM258 192h1v1h-1zM389 205h1v1h-1zM257 169h1v1h-1zM321 166h1v1h-1zM341 197h1v1h-1zM382 179h1v1h-1zM379 170h1v1h-1zM395 195h1v1h-1zM404 152h1v1h-1zM389 201h1v1h-1zM282 151h1v1h-1zM285 156h1v1h-1zM253 158h1v1h-1zM319 158h1v1h-1zM413 188h1v1h-1zM333 166h1v1h-1zM323 175h1v1h-1zM260 195h1v1h-1zM385 185h1v1h-1zM396 174h1v1h-1zM332 176h1v1h-1zM410 168h1v1h-1zM406 188h1v1h-1zM337 159h1v1h-1zM255 184h1v1h-1zM383 169h1v1h-1zM299 175h1v1h-1zM303 159h1v1h-1zM374 206h1v1h-1zM394 170h1v1h-1zM264 203h1v1h-1zM304 174h1v1h-1zM257 156h1v1h-1zM321 176h1v1h-1zM296 170h1v1h-1zM344 184h1v1h-1zM297 163h1v1h-1zM397 160h1v1h-1zM304 170h1v1h-1zM304 174h1v1h-1zM348 160h1v1h-1zM314 186h1v1h-1zM354 188h1v1h-1zM400 156h1v1h-1zM323 156h1v1h-1zM340 185h1v1h-1zM361 183h1v1h-1zM368 163h1v1h-1zM392 212h1v1h-1zM328 179h1v1h-1zM270 164h1v1h-1zM337 199h1v1h-1zM407 165h1v1h-1zM392 187h1v1h-1zM406 168h1v1h-1zM378 192h1v1h-1zM354 152h1v1h-1zM290 175h1v1h-1zM363 156h1v1h-1zM373 180h1v1h-1zM313 165h1v1h-1zM307 175h1v1h-1zM403 156h1v1h-1zM392 166h1v1h-1zM289 163h1v1h-1zM306 199h1v1h-1zM261 156h1v1h-1zM272 154h1v1h-1zM256 158h1v1h-1zM278 177h1v1h-1zM277 193h1v1h-1zM401 182h1v1h-1zM366 168h1v1h-1zM256 154h1v1h-1zM343 180h1v1h-1zM306 150h1v1h-1zM342 174h1v1h-1zM258 178h1v1h-1zM337 156h1v1h-1zM388 196h1v1h-1zM295 150h1v1h-1zM349 189h1v1h-1zM399 172h1v1h-1zM367 170h1v1h-1zM382 173h1v1h-1zM403 201h1v1h-1zM254 218h1v1h-1zM286 150h1v1h-1zM337 201h1v1h-1zM327 157h1v1h-1zM329 153h1v1h-1zM408 169h1v1h-1zM269 218h1v1h-1zM271 203h1v1h-1zM346 159h1v1h-1zM264 154h1v1h-1zM319 180h1v1h-1zM368 154h1v1h-1zM251 169h1v1h-1zM335 159h1v1h-1zM273 202h1v1h-1zM271 187h1v1h-1zM414 184h1v1h-1zM256 200h1v1h-1zM395 163h1v1h-1zM382 181h1v1h-1zM334 167h1v1h-1zM270 203h1v1h-1zM370 153h1v1h-1zM305 151h1v1h-1zM343 157h1v1h-1zM367 193h1v1h-1zM333 204h1v1h-1zM352 165h1v1h-1zM387 176h1v1h-1zM269 197h1v1h-1zM364 174h1v1h-1zM375 178h1v1h-1zM390 163h1v1h-1zM382 182h1v1h-1zM285 152h1v1h-1zM255 179h1v1h-1zM367 160h1v1h-1zM357 157h1v1h-1zM309 172h1v1h-1zM277 196h1v1h-1zM301 197h1v1h-1zM384 188h1v1h-1zM379 165h1v1h-1zM314 180h1v1h-1zM375 184h1v1h-1zM295 172h1v1h-1zM283 155h1v1h-1zM330 198h1v1h-1zM294 154h1v1h-1zM281 165h1v1h-1zM273 189h1v1h-1zM398 152h1v1h-1zM397 154h1v1h-1zM370 169h1v1h-1zM335 159h1v1h-1zM383 184h1v1h-1zM386 177h1v1h-1zM259 214h1v1h-1zM349 172h1v1h-1zM284 192h1v1h-1zM302 169h1v1h-1zM405 151h1v1h-1zM307 184h1v1h-1zM360 154h1v1h-1zM403 189h1v1h-1zM262 161h1v1h-1zM308 182h1v1h-1zM394 173h1v1h-1zM411 176h1v1h-1zM406 188h1v1h-1zM321 197h1v1h-1zM282 168h1v1h-1zM351 185h1v1h-1zM390 177h1v1h-1zM382 175h1v1h-1zM280 169h1v1h-1zM315 173h1v1h-1zM255 188h1v1h-1zM263 189h1v1h-1zM357 157h1v1h-1zM347 174h1v1h-1zM329 177h1v1h-1zM334 164h1v1h-1zM342 170h1v1h-1zM375 150h1v1h-1zM257 164h1v1h-1zM296 154h1v1h-1zM377 208h1v1h-1zM301 199h1v1h-1zM313 190h1v1h-1zM305 186h1v1h-1zM268 161h1v1h-1zM301 177h1v1h-1zM295 172h1v1h-1zM292 193h1v1h-1zM353 188h1v1h-1zM375 179h1v1h-1zM377 203h1v1h-1zM273 209h1v1h-1zM305 195h1v1h-1zM287 181h1v1h-1zM311 196h1v1h-1zM399 211h1v1h-1zM299 159h1v1h-1zM367 180h1v1h-1zM337 163h1v1h-1zM251 196h1v1h-1zM323 183h1v1h-1zM379 153h1v1h-1zM261 161h1v1h-1zM301 188h1v1h-1zM297 166h1v1h-1zM385 179h1v1h-1zM399 197h1v1h-1zM331 165h1v1h-1zM373 183h1v1h-1zM286 178h1v1h-1zM283 171h1v1h-1zM403 206h1v1h-1zM262 213h1v1h-1zM404 167h1v1h-1zM300 188h1v1h-1zM271 156h1v1h-1zM307 168h1v1h-1zM377 193h1v1h-1zM343 152h1v1h-1zM403 200h1v1h-1zM266 154h1v1h-1zM252 176h1v1h-1zM290 197h1v1h-1zM396 167h1v1h-1zM343 180h1v1h-1zM344 172h1v1h-1zM400 170h1v1h-1zM361 195h1v1h-1zM364 182h1v1h-1zM307 157h1v1h-1zM283 161h1v1h-1zM306 151h1v1h-1zM340 177h1v1h-1zM292 164h1v1h-1zM384 180h1v1h-1zM362 151h1v1h-1zM411 202h1v1h-1zM354 190h1v1h-1zM382 154h1v1h-1zM291 164h1v1h-1zM376 150h1v1h-1zM333 174h1v1h-1zM262 202h1v1h-1zM337 154h1v1h-1zM410 190h1v1h-1zM318 199h1v1h-1zM416 165h1v1h-1zM347 182h1v1h-1zM374 176h1v1h-1zM368 181h1v1h-1zM251 189h1v1h-1zM344 166h1v1h-1zM414 165h1v1h-1zM302 183h1v1h-1zM319 174h1v1h-1zM300 184h1v1h-1zM389 169h1v1h-1zM258 163h1v1h-1zM400 157h1v1h-1zM402 173h1v1h-1zM379 166h1v1h-1zM309 162h1v1h-1zM290 201h1v1h-1zM266 193h1v1h-1zM339 191h1v1h-1zM260 199h1v1h-1zM401 203h1v1h-1zM321 157h1v1h-1zM356 167h1v1h-1zM302 172h1v1h-1zM306 181h1v1h-1zM323 170h1v1h-1zM326 156h1v1h-1zM290 180h1v1h-1zM379 178h1v1h-1zM294 192h1v1h-1zM355 181h1v1h-1zM269 165h1v1h-1zM403 168h1v1h-1zM346 186h1v1h-1zM285 194h1v1h-1zM390 191h1v1h-1zM391 172h1v1h-1zM355 175h1v1h-1zM256 154h1v1h-1zM279 190h1v1h-1zM374 157h1v1h-1zM355 153h1v1h-1zM323 159h1v1h-1zM341 159h1v1h-1zM355 180h1v1h-1zM323 172h1v1h-1zM367 203h1v1h-1zM397 160h1v1h-1zM342 160h1v1h-1zM320 169h1v1h-1zM360 150h1v1h-1zM296 195h1v1h-1zM297 186h1v1h-1zM322 157h1v1h-1zM340 156h1v1h-1zM332 188h1v1h-1zM308 175h1v1h-1zM343 197h1v1h-1zM416 211h1v1h-1zM338 186h1v1h-1zM261 190h1v1h-1zM376 156h1v1h-1zM255 177h1v1h-1zM349 177h1v1h-1zM406 162h1v1h-1z" fill="#cfcfcf"/>
<path d="M413 155h1v1h-1zM404 153h1v1h-1zM272 208h1v1h-1zM336 151h1v1h-1zM394 174h1v1h-1zM304 173h1v1h-1zM288 177h1v1h-1zM254 197h1v1h-1zM268 184h1v1h-1zM256 159h1v1h-1zM341 160h1v1h-1zM378 151h1v1h-1zM330 161h1v1h-1zM302 177h1v1h-1zM285 167h1v1h-1zM415 167h1v1h-1zM263 164h1v1h-1zM379 193h1v1h-1zM363 193h1v1h-1zM306 158h1v1h-1zM383 216h1v1h-1zM278 174h1v1h-1zM341 181h1v1h-1zM273 183h1v1h-1zM275 205h1v1h-1zM387 159h1v1h-1zM263 175h1v1h-1zM391 155h1v1h-1zM403 157h1v1h-1zM386 186h1v1h-1zM320 183h1v1h-1zM391 173h1v1h-1zM345 162h1v1h-1zM336 167h1v1h-1zM269 155h1v1h-1zM340 150h1v1h-1zM411 220h1v1h-1zM274 211h1v1h-1zM253 210h1v1h-1zM395 164h1v1h-1zM330 185h1v1h-1zM414 192h1v1h-1zM269 193h1v1h-1zM356 151h1v1h-1zM367 154h1v1h-1zM371 194h1v1h-1zM352 156h1v1h-1zM293 178h1v1h-1zM329 153h1v1h-1zM378 168h1v1h-1zM331 185h1v1h-1zM285 192h1v1h-1zM369 159h1v1h-1zM410 209h1v1h-1zM343 191h1v1h-1zM311 183h1v1h-1zM390 178h1v1h-1zM403 156h1v1h-1zM406 152h1v1h-1zM381 171h1v1h-1zM261 170h1v1h-1zM396 172h1v1h-1zM351 177h1v1h-1zM373 176h1v1h-1zM411 173h1v1h-1zM256 191h1v1h-1zM366 160h1v1h-1zM328 200h1v1h-1zM304 189h1v1h-1zM317 190h1v1h-1zM354 167h1v1h-1zM261 153h1v1h-1zM377 157h1v1h-1zM359 169h1v1h-1zM268 209h1v1h-1zM279 207h1v1h-1zM261 170h1v1h-1zM283 175h1v1h-1zM298 151h1v1h-1zM268 189h1v1h-1zM323 178h1v1h-1zM409 202h1v1h-1zM309 160h1v1h-1zM297 193h1v1h-1zM286 175h1v1h-1zM374 154h1v1h-1zM387 162h1v1h-1zM253 201h1v1h-1zM305 194h1v1h-1zM379 179h1v1h-1zM382 154h1v1h-1zM360 175h1v1h-1zM357 173h1v1h-1zM269 184h1v1h-1zM275 194h1v1h-1zM356 178h1v1h-1zM413 169h1v1h-1zM383 176h1v1h-1zM345 168h1v1h-1zM293 182h1v1h-1zM409 165h1v1h-1zM386 153h1v1h-1zM390 155h1v1h-1zM358 192h1v1h-1zM345 160h1v1h-1zM361 192h1v1h-1zM386 198h1v1h-1zM374 179h1v1h-1zM376 156h1v1h-1zM305 162h1v1h-1zM400 168h1v1h-1zM376 192h1v1h-1zM381 169h1v1h-1zM389 179h1v1h-1zM287 153h1v1h-1zM357 167h1v1h-1zM300 160h1v1h-1zM389 169h1v1h-1zM268 177h1v1h-1zM367 180h1v1h-1zM305 182h1v1h-1zM379 181h1v1h-1zM306 155h1v1h-1zM350 167h1v1h-1zM378 154h1v1h-1zM257 206h1v1h-1zM257 178h1v1h-1zM378 158h1v1h-1zM399 203h1v1h-1zM316 192h1v1h-1zM310 170h1v1h-1zM382 198h1v1h-1zM353 184h1v1h-1zM274 190h1v1h-1zM301 177h1v1h-1zM382 193h1v1h-1zM265 205h1v1h-1zM264 195h1v1h-1zM306 202h1v1h-1zM271 165h1v1h-1zM379 182h1v1h-1zM367 157h1v1h-1zM251 184h1v1h-1zM408 206h1v1h-1zM378 181h1v1h-1zM349 159h1v1h-1zM362 176h1v1h-1zM410 152h1v1h-1zM328 161h1v1h-1zM326 179h1v1h-1zM274 198h1v1h-1zM327 175h1v1h-1zM276 156h1v1h-1zM389 197h1v1h-1zM289 193h1v1h-1zM402 171h1v1h-1zM402 195h1v1h-1zM292 162h1v1h-1zM299 197h1v1h-1zM369 181h1v1h-1zM406 197h1v1h-1zM379 151h1v1h-1zM365 174h1v1h-1zM284 174h1v1h-1zM370 178h1v1h-1zM258 180h1v1h-1zM366 164h1v1h-1zM269 171h1v1h-1zM355 169h1v1h-1zM336 151h1v1h-1zM284 170h1v1h-1zM415 173h1v1h-1zM393 165h1v1h-1zM374 172h1v1h-1zM394 200h1v1h-1zM415 153h1v1h-1zM364 186h1v1h-1zM269 208h1v1h-1zM322 200h1v1h-1zM305 192h1v1h-1zM262 172h1v1h-1zM358 170h1v1h-1zM294 181h1v1h-1zM290 186h1v1h-1zM295 188h1v1h-1zM387 182h1v1h-1zM271 208h1v1h-1zM319 173h1v1h-1zM286 175h1v1h-1zM251 177h1v1h-1zM411 170h1v1h-1zM363 172h1v1h-1zM344 171h1v1h-1zM290 155h1v1h-1zM286 157h1v1h-1zM347 190h1v1h-1zM303 161h1v1h-1zM358 201h1v1h-1zM404 193h1v1h-1zM264 189h1v1h-1zM343 150h1v1h-1zM358 162h1v1h-1zM349 184h1v1h-1zM287 188h1v1h-1zM413 189h1v1h-1zM294 163h1v1h-1zM369 165h1v1h-1zM297 192h1v1h-1zM313 175h1v1h-1zM364 185h1v1h-1zM375 156h1v1h-1zM302 190h1v1h-1zM303 169h1v1h-1zM291 150h1v1h-1zM416 191h1v1h-1zM404 176h1v1h-1zM340 157h1v1h-1zM275 189h1v1h-1zM282 161h1v1h-1zM385 188h1v1h-1zM325 193h1v1h-1zM399 159h1v1h-1zM284 157h1v1h-1zM399 166h1v1h-1zM258 170h1v1h-1zM329 174h1v1h-1zM278 177h1v1h-1zM388 180h1v1h-1zM301 165h1v1h-1zM412 209h1v1h-1zM400 188h1v1h-1zM258 170h1v1h-1zM302 157h1v1h-1zM272 198h1v1h-1zM265 165h1v1h-1zM299 168h1v1h-1zM398 200h1v1h-1zM287 187h1v1h-1zM329 197h1v1h-1zM337 170h1v1h-1zM391 156h1v1h-1zM325 161h1v1h-1zM252 220h1v1h-1zM416 180h1v1h-1zM339 186h1v1h-1zM363 179h1v1h-1zM340 184h1v1h-1zM343 182h1v1h-1zM316 183h1v1h-1zM398 168h1v1h-1zM377 163h1v1h-1zM254 156h1v1h-1zM259 180h1v1h-1zM302 170h1v1h-1zM298 192h1v1h-1zM336 180h1v1h-1zM252 197h1v1h-1zM317 151h1v1h-1zM354 191h1v1h-1zM392 163h1v1h-1zM345 151h1v1h-1zM294 155h1v1h-1zM380 179h1v1h-1zM314 169h1v1h-1zM286 190h1v1h-1zM360 152h1v1h-1zM253 185h1v1h-1zM347 178h1v1h-1zM399 203h1v1h-1zM262 195h1v1h-1zM385 208h1v1h-1zM377 184h1v1h-1zM376 159h1v1h-1zM271 192h1v1h-1zM290 159h1v1h-1zM319 168h1v1h-1zM277 171h1v1h-1zM389 163h1v1h-1zM313 171h1v1h-1zM407 192h1v1h-1zM348 200h1v1h-1zM381 172h1v1h-1zM304 171h1v1h-1zM287 165h1v1h-1zM317 160h1v1h-1zM292 198h1v1h-1zM296 192h1v1h-1zM286 184h1v1h-1zM416 185h1v1h-1zM257 188h1v1h-1zM296 162h1v1h-1zM313 164h1v1h-1zM361 189h1v1h-1zM393 177h1v1h-1zM271 188h1v1h-1zM408 156h1v1h-1zM311 177h1v1h-1zM400 177h1v1h-1zM400 189h1v1h-1zM264 211h1v1h-1zM287 172h1v1h-1zM356 159h1v1h-1zM297 173h1v1h-1zM353 180h1v1h-1zM370 175h1v1h-1zM340 172h1v1h-1zM258 182h1v1h-1zM409 200h1v1h-1zM339 164h1v1h-1zM335 161h1v1h-1zM362 183h1v1h-1zM408 153h1v1h-1zM286 179h1v1h-1zM254 195h1v1h-1zM319 179h1v1h-1zM363 178h1v1h-1zM306 182h1v1h-1zM396 176h1v1h-1zM385 150h1v1h-1zM353 150h1v1h-1zM374 195h1v1h-1zM274 165h1v1h-1zM332 161h1v1h-1zM300 167h1v1h-1zM264 187h1v1h-1zM353 161h1v1h-1zM361 170h1v1h-1zM332 171h1v1h-1zM407 209h1v1h-1zM276 159h1v1h-1zM326 184h1v1h-1zM343 154h1v1h-1zM402 165h1v1h-1zM403 154h1v1h-1zM364 160h1v1h-1zM358 159h1v1h-1zM410 170h1v1h-1zM256 165h1v1h-1zM266 191h1v1h-1zM402 202h1v1h-1zM347 164h1v1h-1zM312 195h1v1h-1zM332 201h1v1h-1zM302 199h1v1h-1zM396 176h1v1h-1zM258 182h1v1h-1zM337 172h1v1h-1zM400 166h1v1h-1zM391 166h1v1h-1zM293 159h1v1h-1zM390 190h1v1h-1zM339 172h1v1h-1zM329 182h1v1h-1zM288 185h1v1h-1zM372 198h1v1h-1zM311 187h1v1h-1zM291 193h1v1h-1zM258 180h1v1h-1zM416 165h1v1h-1zM348 158h1v1h-1zM302 154h1v1h-1zM321 169h1v1h-1zM335 175h1v1h-1zM311 191h1v1h-1zM403 208h1v1h-1zM391 186h1v1h-1zM305 183h1v1h-1zM318 196h1v1h-1zM308 159h1v1h-1zM318 152h1v1h-1zM299 191h1v1h-1zM390 154h1v1h-1zM331 171h1v1h-1zM405 198h1v1h-1zM260 177h1v1h-1zM415 155h1v1h-1zM276 182h1v1h-1zM359 183h1v1h-1zM357 178h1v1h-1zM407 189h1v1h-1zM401 171h1v1h-1zM297 174h1v1h-1zM343 193h1v1h-1zM252 197h1v1h-1zM288 156h1v1h-1zM289 174h1v1h-1zM343 182h1v1h-1zM381 182h1v1h-1zM413 175h1v1h-1zM301 194h1v1h-1zM319 192h1v1h-1zM356 164h1v1h-1zM359 163h1v1h-1zM295 196h1v1h-1zM343 183h1v1h-1zM285 163h1v1h-1zM295 153h1v1h-1zM333 162h1v1h-1zM287 188h1v1h-1zM351 184h1v1h-1zM294 196h1v1h-1zM304 176h1v1h-1zM268 161h1v1h-1zM361 151h1v1h-1zM318 189h1v1h-1zM262 180h1v1h-1zM286 158h1v1h-1zM385 215h1v1h-1zM373 197h1v1h-1zM404 197h1v1h-1zM252 197h1v1h-1zM378 186h1v1h-1zM379 171h1v1h-1zM402 199h1v1h-1zM302 150h1v1h-1zM290 154h1v1h-1zM363 166h1v1h-1zM315 180h1v1h-1zM399 151h1v1h-1zM251 162h1v1h-1zM310 157h1v1h-1zM348 188h1v1h-1zM339 160h1v1h-1zM415 192h1v1h-1zM384 201h1v1h-1zM384 181h1v1h-1zM259 182h1v1h-1zM376 186h1v1h-1zM294 178h1v1h-1zM275 186h1v1h-1zM265 154h1v1h-1zM352 186h1v1h-1zM400 194h1v1h-1zM357 151h1v1h-1zM411 159h1v1h-1zM273 157h1v1h-1zM282 164h1v1h-1zM286 175h1v1h-1zM253 173h1v1h-1zM337 185h1v1h-1zM382 196h1v1h-1zM319 160h1v1h-1zM399 194h1v1h-1zM324 169h1v1h-1zM345 158h1v1h-1zM280 159h1v1h-1zM301 183h1v1h-1zM283 193h1v1h-1zM257 176h1v1h-1zM266 167h1v1h-1zM382 161h1v1h-1zM325 195h1v1h-1zM278 193h1v1h-1zM371 195h1v1h-1zM368 160h1v1h-1zM391 170h1v1h-1zM328 172h1v1h-1zM377 167h1v1h-1zM394 159h1v1h-1zM315 170h1v1h-1zM281 180h1v1h-1zM338 154h1v1h-1zM266 189h1v1h-1zM297 176h1v1h-1zM379 191h1v1h-1zM350 152h1v1h-1zM329 173h1v1h-1zM391 177h1v1h-1zM339 168h1v1h-1zM312 176h1v1h-1zM377 192h1v1h-1zM280 152h1v1h-1zM391 192h1v1h-1zM386 169h1v1h-1zM294 168h1v1h-1zM326 194h1v1h-1zM259 214h1v1h-1zM339 167h1v1h-1zM296 157h1v1h-1zM413 155h1v1h-1zM285 205h1v1h-1zM358 179h1v1h-1zM263 193h1v1h-1zM309 157h1v1h-1zM320 172h1v1h-1zM386 181h1v1h-1zM394 161h1v1h-1zM266 170h1v1h-1zM325 151h1v1h-1zM416 198h1v1h-1zM381 196h1v1h-1zM412 156h1v1h-1zM391 191h1v1h-1zM287 168h1v1h-1zM396 200h1v1h-1zM394 202h1v1h-1zM358 193h1v1h-1zM278 187h1v1h-1zM272 208h1v1h-1zM326 171h1v1h-1zM285 211h1v1h-1zM410 161h1v1h-1zM375 153h1v1h-1zM274 163h1v1h-1zM318 163h1v1h-1zM359 190h1v1h-1zM303 168h1v1h-1zM299 168h1v1h-1zM251 174h1v1h-1zM397 173h1v1h-1zM364 166h1v1h-1zM306 193h1v1h-1zM251 158h1v1h-1zM344 201h1v1h-1zM288 163h1v1h-1zM386 159h1v1h-1zM403 154h1v1h-1zM398 167h1v1h-1zM340 178h1v1h-1zM288 189h1v1h-1zM411 194h1v1h-1zM391 174h1v1h-1zM372 191h1v1h-1zM301 177h1v1h-1zM310 195h1v1h-1zM294 179h1v1h-1zM328 198h1v1h-1zM258 167h1v1h-1zM359 188h1v1h-1zM357 188h1v1h-1zM308 183h1v1h-1zM284 150h1v1h-1zM275 175h1v1h-1zM333 152h1v1h-1zM306 156h1v1h-1zM320 169h1v1h-1zM281 202h1v1h-1zM414 189h1v1h-1zM347 179h1v1h-1zM254 198h1v1h-1zM335 166h1v1h-1zM338 173h1v1h-1zM367 169h1v1h-1zM412 196h1v1h-1zM262 177h1v1h-1zM282 195h1v1h-1zM396 187h1v1h-1zM340 181h1v1h-1zM343 193h1v1h-1zM367 171h1v1h-1zM310 171h1v1h-1zM327 189h1v1h-1zM379 182h1v1h-1zM252 161h1v1h-1zM285 158h1v1h-1zM386 215h1v1h-1zM383 157h1v1h-1zM411 150h1v1h-1zM275 180h1v1h-1zM393 154h1v1h-1zM292 188h1v1h-1zM255 163h1v1h-1zM254 189h1v1h-1zM403 197h1v1h-1zM319 155h1v1h-1zM253 181h1v1h-1zM353 153h1v1h-1zM366 183h1v1h-1zM298 183h1v1h-1zM257 183h1v1h-1zM325 192h1v1h-1zM348 174h1v1h-1zM310 156h1v1h-1zM379 177h1v1h-1zM282 168h1v1h-1zM277 177h1v1h-1zM305 176h1v1h-1zM276 187h1v1h-1zM252 171h1v1h-1zM311 197h1v1h-1zM284 193h1v1h-1zM288 198h1v1h-1zM339 191h1v1h-1zM309 161h1v1h-1zM386 195h1v1h-1zM385 197h1v1h-1zM371 167h1v1h-1zM291 163h1v1h-1zM382 164h1v1h-1zM381 159h1v1h-1zM305 190h1v1h-1zM312 158h1v1h-1zM327 169h1v1h-1zM276 157h1v1h-1zM257 181h1v1h-1zM360 186h1v1h-1zM285 191h1v1h-1zM281 155h1v1h-1zM330 181h1v1h-1zM274 188h1v1h-1zM349 191h1v1h-1zM285 191h1v1h-1zM330 192h1v1h-1zM327 160h1v1h-1zM283 186h1v1h-1zM358 193h1v1h-1zM370 195h1v1h-1zM345 187h1v1h-1zM323 188h1v1h-1zM347 175h1v1h-1zM361 193h1v1h-1zM342 154h1v1h-1zM276 191h1v1h-1zM380 151h1v1h-1zM341 195h1v1h-1zM317 156h1v1h-1zM384 151h1v1h-1zM252 210h1v1h-1zM335 161h1v1h-1zM379 193h1v1h-1zM388 166h1v1h-1zM311 177h1v1h-1zM263 166h1v1h-1zM413 150h1v1h-1zM270 162h1v1h-1zM281 157h1v1h-1zM286 189h1v1h-1zM307 169h1v1h-1zM256 197h1v1h-1zM319 164h1v1h-1zM407 170h1v1h-1zM263 170h1v1h-1zM301 191h1v1h-1zM395 185h1v1h-1zM378 156h1v1h-1zM301 203h1v1h-1zM309 198h1v1h-1zM285 156h1v1h-1zM269 150h1v1h-1zM318 173h1v1h-1zM358 153h1v1h-1zM296 180h1v1h-1zM251 153h1v1h-1zM378 167h1v1h-1zM356 180h1v1h-1zM290 179h1v1h-1zM376 164h1v1h-1zM275 188h1v1h-1zM344 153h1v1h-1zM404 156h1v1h-1zM262 163h1v1h-1zM289 166h1v1h-1zM304 175h1v1h-1zM334 168h1v1h-1zM362 164h1v1h-1zM405 156h1v1h-1zM334 189h1v1h-1zM336 181h1v1h-1zM291 163h1v1h-1zM278 199h1v1h-1zM269 210h1v1h-1zM292 163h1v1h-1zM378 196h1v1h-1zM265 158h1v1h-1zM279 198h1v1h-1zM400 200h1v1h-1zM275 172h1v1h-1zM280 154h1v1h-1zM403 181h1v1h-1zM316 174h1v1h-1zM256 200h1v1h-1zM358 174h1v1h-1zM325 186h1v1h-1zM359 161h1v1h-1zM348 168h1v1h-1zM257 171h1v1h-1zM314 173h1v1h-1zM397 204h1v1h-1zM347 161h1v1h-1zM332 169h1v1h-1zM316 168h1v1h-1zM321 162h1v1h-1zM390 153h1v1h-1zM325 152h1v1h-1zM311 164h1v1h-1zM353 160h1v1h-1zM405 153h1v1h-1zM310 165h1v1h-1zM376 194h1v1h-1zM351 174h1v1h-1zM292 178h1v1h-1zM358 179h1v1h-1zM397 159h1v1h-1zM323 195h1v1h-1zM257 184h1v1h-1zM320 187h1v1h-1zM396 187h1v1h-1zM259 201h1v1h-1zM270 181h1v1h-1zM283 175h1v1h-1zM388 187h1v1h-1zM339 182h1v1h-1zM393 168h1v1h-1zM407 178h1v1h-1zM332 184h1v1h-1zM260 202h1v1h-1zM340 175h1v1h-1zM298 187h1v1h-1zM326 189h1v1h-1zM334 185h1v1h-1zM384 171h1v1h-1zM330 167h1v1h-1zM409 199h1v1h-1zM315 199h1v1h-1zM257 177h1v1h-1zM286 186h1v1h-1zM400 179h1v1h-1zM387 171h1v1h-1zM318 154h1v1h-1zM357 185h1v1h-1zM281 154h1v1h-1zM361 157h1v1h-1zM304 181h1v1h-1zM343 186h1v1h-1zM390 154h1v1h-1zM264 151h1v1h-1zM316 162h1v1h-1zM405 188h1v1h-1zM403 186h1v1h-1zM325 165h1v1h-1zM298 181h1v1h-1zM314 179h1v1h-1zM313 200h1v1h-1zM344 184h1v1h-1zM371 163h1v1h-1zM324 196h1v1h-1zM302 160h1v1h-1zM406 188h1v1h-1zM259 192h1v1h-1zM291 191h1v1h-1zM265 213h1v1h-1zM367 177h1v1h-1zM252 187h1v1h-1zM339 196h1v1h-1zM413 161h1v1h-1zM319 200h1v1h-1zM396 196h1v1h-1zM325 180h1v1h-1zM294 186h1v1h-1zM377 152h1v1h-1zM349 193h1v1h-1zM334 176h1v1h-1zM300 191h1v1h-1zM253 199h1v1h-1zM403 167h1v1h-1zM284 156h1v1h-1zM367 204h1v1h-1zM344 178h1v1h-1zM284 214h1v1h-1zM353 186h1v1h-1zM282 188h1v1h-1zM390 165h1v1h-1zM410 193h1v1h-1zM268 184h1v1h-1zM416 167h1v1h-1zM346 169h1v1h-1zM276 192h1v1h-1zM353 151h1v1h-1zM408 168h1v1h-1zM340 191h1v1h-1zM377 171h1v1h-1zM357 172h1v1h-1zM354 186h1v1h-1zM288 163h1v1h-1zM332 155h1v1h-1zM276 174h1v1h-1zM325 200h1v1h-1zM365 187h1v1h-1zM386 185h1v1h-1zM281 183h1v1h-1zM340 159h1v1h-1zM327 176h1v1h-1zM383 154h1v1h-1zM294 191h1v1h-1zM411 183h1v1h-1zM279 188h1v1h-1zM281 170h1v1h-1zM346 201h1v1h-1zM283 196h1v1h-1zM386 208h1v1h-1zM367 162h1v1h-1zM333 187h1v1h-1zM379 156h1v1h-1zM262 205h1v1h-1zM294 196h1v1h-1zM338 155h1v1h-1zM306 160h1v1h-1zM365 195h1v1h-1zM310 160h1v1h-1zM410 172h1v1h-1z" fill="#dbdbdb"/>
<path d="M298.0 204.0l-1.7 0.6M298.0 204.0l1.1 -0.3M299.9 206.1l1.2 -0.1M297.7 208.2l-1.5 0.4M297.7 208.2l1.0 0.3M299.3 210.3l1.2 -0.6M299.3 210.3l-1.1 0.2M297.3 212.4l-1.8 -0.8M297.3 212.4l1.1 -1.2M299.2 214.5l1.3 0.2M297.4 216.6l-1.6 0.3M299.7 218.7l1.5 0.1M299.7 218.7l-1.1 0.9M298.0 220.8l-1.3 -0.5M298.0 220.8l0.9 -0.9M299.7 222.9l1.7 -0.2M299.7 222.9l-0.6 -0.7M297.5 225.0l-1.7 -0.8M297.5 225.0l0.8 0.0M299.2 227.1l2.0 0.8M297.0 229.2l-2.0 -0.8M298.7 231.3l1.8 -1.0M296.4 233.4l-1.7 0.9M296.4 233.4l0.7 0.4M297.9 235.5l1.3 0.2M297.9 235.5l-0.7 -0.7M296.3 237.6l-1.9 -0.7M296.3 237.6l0.8 -0.7M298.4 239.7l1.6 0.5M296.1 241.8l-1.7 -0.4M296.1 241.8l0.9 -0.5M298.3 243.9l1.6 -0.1M296.2 246.0l-1.8 0.2 M301.0 200.0l-1.5 0.8M301.0 200.0l1.1 0.8M303.0 202.1l1.5 0.6M301.5 204.2l-1.7 0.5M301.5 204.2l1.2 -1.1M304.1 206.3l1.7 0.5M302.5 208.4l-1.4 0.2M302.5 208.4l0.8 0.6M305.1 210.5l1.9 -0.6M302.9 212.6l-1.7 -0.1M302.9 212.6l1.0 0.2M305.5 214.7l1.3 0.9M303.8 216.8l-1.7 0.1M305.7 218.9l1.7 0.4M305.7 218.9l-0.7 1.0M304.1 221.0l-2.0 0.4M306.7 223.1l1.3 0.5M305.0 225.2l-1.5 -0.3M305.0 225.2l0.9 1.0M307.6 227.3l1.9 -0.0M305.9 229.4l-1.7 -0.7M305.9 229.4l1.1 0.3M308.2 231.5l1.3 -0.6M306.7 233.6l-1.6 -0.5M306.7 233.6l0.7 0.9M309.3 235.7l1.8 0.6M307.8 237.8l-1.3 -0.8M310.1 239.9l1.7 0.7M308.4 242.0l-1.5 0.2M310.4 244.1l1.2 0.2M308.3 246.2l-1.6 0.3M308.3 246.2l0.7 0.6M310.2 248.3l2.0 -0.0M308.3 250.4l-1.9 0.1M310.7 252.5l1.5 -0.3M310.7 252.5l-0.9 -0.9M309.0 254.6l-1.3 0.2M309.0 254.6l0.9 -0.4M311.5 256.7l1.5 -0.3 M305.0 206.0l-1.9 -0.2M305.0 206.0l0.8 0.5M306.4 208.1l1.4 0.1M306.4 208.1l-0.9 0.4M303.8 210.2l-1.3 0.2M303.8 210.2l0.9 0.4M305.2 212.3l1.2 -0.1M303.1 214.4l-2.0 0.1M304.8 216.5l1.9 0.7M302.9 218.6l-1.3 -0.4M302.9 218.6l0.6 -0.1M304.4 220.7l1.8 0.4M302.0 222.8l-1.4 -0.7M302.0 222.8l0.9 -0.5M304.2 224.9l1.8 0.5M304.2 224.9l-0.8 0.0M302.0 227.0l-1.9 0.8M303.6 229.1l1.8 0.3M303.6 229.1l-1.0 -1.2M301.5 231.2l-1.2 -0.5M301.5 231.2l1.1 0.5M303.6 233.3l1.4 0.9M303.6 233.3l-0.9 0.8M301.7 235.4l-1.3 0.3M301.7 235.4l0.9 -1.1M303.4 237.5l1.8 0.2M303.4 237.5l-0.7 -0.9M301.5 239.6l-1.5 -0.2M301.5 239.6l0.7 -0.1M303.7 241.7l1.4 0.3M303.7 241.7l-0.6 -0.9M301.3 243.8l-1.2 -0.2M301.3 243.8l0.8 0.1 M308.0 199.0l-1.5 -0.5M308.0 199.0l1.0 -0.1M310.1 201.1l1.7 -0.3M308.3 203.2l-1.5 -0.4M308.3 203.2l0.9 0.4M310.8 205.3l2.0 -0.3M308.4 207.4l-1.3 0.5M310.3 209.5l1.6 -0.5M310.3 209.5l-0.8 -0.6M308.1 211.6l-1.9 -0.1M310.3 213.7l1.9 0.1M310.3 213.7l-1.0 -0.3M308.7 215.8l-2.0 0.3M310.9 217.9l1.6 -0.9M310.9 217.9l-0.9 -0.7M309.2 220.0l-1.2 0.7M309.2 220.0l1.0 1.2M311.3 222.1l1.8 -0.2M311.3 222.1l-0.8 -0.3M309.8 224.2l-1.3 -0.8M309.8 224.2l0.8 0.7M312.0 226.3l1.3 0.7M312.0 226.3l-0.6 0.2M310.5 228.4l-1.4 -0.6M312.3 230.5l1.4 -0.7M310.1 232.6l-1.8 0.7M310.1 232.6l0.8 -0.1M312.4 234.7l1.4 -0.4M312.4 234.7l-0.7 0.0M310.3 236.8l-1.5 1.0M310.3 236.8l0.6 0.2M312.6 238.9l1.7 0.8M310.8 241.0l-1.4 -0.4M310.8 241.0l1.0 0.1M313.3 243.1l1.5 0.6M311.4 245.2l-1.5 -0.7M311.4 245.2l0.8 -0.4M313.5 247.3l1.4 -0.9M311.5 249.4l-1.6 0.1M314.0 251.5l2.0 -0.2M314.0 251.5l-1.0 -0.5M311.8 253.6l-1.4 0.2M311.8 253.6l0.9 0.6M313.6 255.7l1.4 -1.0M313.6 255.7l-0.7 0.4M312.1 257.8l-1.3 -0.8M314.6 259.9l2.0 0.3M314.6 259.9l-0.8 -0.5M312.6 262.0l-1.8 -0.3 M312.0 203.0l-1.5 0.9M313.6 205.1l1.5 -0.6M311.6 207.2l-1.9 0.3M311.6 207.2l0.6 1.1M313.3 209.3l1.8 -0.8M311.6 211.4l-1.8 -0.9M311.6 211.4l1.1 0.4M313.2 213.5l1.9 -0.5M313.2 213.5l-1.0 0.5M311.4 215.6l-1.5 -0.2M311.4 215.6l1.0 1.0M313.3 217.7l1.2 0.2M311.6 219.8l-1.4 -0.8M311.6 219.8l1.1 0.7M313.3 221.9l1.2 -0.6M311.0 224.0l-1.4 0.3M313.2 226.1l2.0 -0.6M310.9 228.2l-1.4 0.1M310.9 228.2l0.7 -0.2M312.6 230.3l1.2 0.2M310.9 232.4l-1.5 0.3M310.9 232.4l0.9 0.8M313.3 234.5l1.7 -0.3M313.3 234.5l-1.0 0.9M311.6 236.6l-1.5 0.9M311.6 236.6l0.6 -0.7M313.9 238.7l1.8 0.2M312.2 240.8l-1.4 0.8M314.1 242.9l1.9 0.5M314.1 242.9l-0.6 0.0M312.5 245.0l-1.4 0.4M314.3 247.1l1.9 0.7M312.6 249.2l-1.7 -0.6M312.6 249.2l1.1 -0.7M315.0 251.3l1.6 -0.3 M317.0 198.0l-1.3 -0.9M319.5 200.1l1.8 0.5M319.5 200.1l-1.0 0.5M317.8 202.2l-1.8 0.2M320.1 204.3l1.8 -0.2M317.9 206.4l-2.0 0.1M319.8 208.5l1.3 -0.2M319.8 208.5l-0.6 -0.6M317.6 210.6l-1.8 -0.8M317.6 210.6l1.1 -0.1M319.9 212.7l1.5 0.9M319.9 212.7l-0.7 0.7M318.2 214.8l-1.8 0.0M320.7 216.9l1.5 -0.2M320.7 216.9l-1.1 -1.0M318.9 219.0l-1.7 0.4M320.9 221.1l1.4 0.4M320.9 221.1l-1.2 0.6M319.1 223.2l-1.9 -0.6M321.6 225.3l1.6 -0.7M321.6 225.3l-1.0 -1.0M320.0 227.4l-1.4 0.9M322.2 229.5l1.7 0.8M320.1 231.6l-1.4 0.1M320.1 231.6l0.7 1.1M321.8 233.7l1.5 0.6M319.8 235.8l-1.4 -0.9M322.3 237.9l1.6 -0.2M322.3 237.9l-0.7 -1.2M320.8 240.0l-1.6 1.0M320.8 240.0l0.7 -0.9 M320.0 205.0l-1.7 0.6M322.5 207.1l1.7 -0.2M320.9 209.2l-1.5 -0.9M320.9 209.2l0.9 -0.0M322.5 211.3l1.8 -0.5M322.5 211.3l-0.9 -0.2M321.0 213.4l-1.2 1.0M323.2 215.5l1.9 0.9M321.3 217.6l-1.4 -0.9M321.3 217.6l0.7 -0.2M323.1 219.7l1.6 0.8M321.2 221.8l-1.7 -0.0M322.8 223.9l1.9 0.4M321.1 226.0l-1.4 -0.5M323.1 228.1l1.7 -0.3M321.1 230.2l-1.3 -0.9M323.2 232.3l1.9 0.0M321.5 234.4l-1.3 -0.6M321.5 234.4l0.8 1.2M323.9 236.5l1.6 -0.6M322.2 238.6l-1.9 0.9M322.2 238.6l1.0 0.9M324.7 240.7l1.7 -1.0M324.7 240.7l-1.2 -1.2M322.9 242.8l-1.6 0.1M322.9 242.8l0.8 -1.2M325.2 244.9l1.6 0.7M325.2 244.9l-0.8 -1.2M323.3 247.0l-1.5 0.5M323.3 247.0l1.1 -1.2M325.0 249.1l1.7 -0.9M325.0 249.1l-1.1 0.9M323.3 251.2l-1.8 0.0M325.6 253.3l1.4 -0.2M325.6 253.3l-1.2 0.1 M324.0 200.0l-1.5 -1.0M326.2 202.1l1.5 -0.8M323.8 204.2l-1.9 -0.9M325.8 206.3l1.4 0.2M324.2 208.4l-1.7 0.5M324.2 208.4l1.1 0.1M326.6 210.5l1.4 -0.4M324.5 212.6l-1.4 -0.9M324.5 212.6l1.2 -0.8M326.4 214.7l1.6 0.0M324.3 216.8l-1.9 -0.5M324.3 216.8l0.6 -1.1M326.3 218.9l1.3 0.5M324.0 221.0l-1.4 0.8M325.8 223.1l1.4 0.9M323.3 225.2l-1.8 -0.6M323.3 225.2l0.7 0.5M325.0 227.3l1.7 -0.2M325.0 227.3l-0.8 -0.2M323.0 229.4l-1.5 0.6M323.0 229.4l0.9 -0.8M324.9 231.5l1.2 -0.4M322.5 233.6l-1.9 0.3M324.2 235.7l1.8 -0.1M322.3 237.8l-1.7 -0.6M323.8 239.9l1.8 -0.2M323.8 239.9l-1.1 0.5M321.7 242.0l-1.7 1.0M323.6 244.1l1.7 0.4 M328.0 204.0l-1.7 -0.5M330.0 206.1l1.8 -0.2M330.0 206.1l-1.0 -0.2M328.3 208.2l-1.5 -0.2M330.6 210.3l1.9 -0.8M328.9 212.4l-1.5 -0.6M328.9 212.4l1.2 0.6M330.8 214.5l2.0 -0.8M330.8 214.5l-0.9 1.1M328.9 216.6l-1.2 -0.6M331.0 218.7l1.3 -0.3M331.0 218.7l-0.6 -0.2M329.5 220.8l-1.6 -0.5M331.3 222.9l1.6 0.9M331.3 222.9l-1.1 0.9M329.1 225.0l-1.2 0.9M331.7 227.1l1.4 -0.0M329.6 229.2l-1.5 0.5M329.6 229.2l0.8 0.4M331.7 231.3l1.5 -0.3M330.2 233.4l-1.6 0.2M330.2 233.4l0.7 -0.8M332.1 235.5l1.5 -0.9M332.1 235.5l-1.0 0.0M330.6 237.6l-1.5 -0.6M330.6 237.6l0.8 -1.2M332.9 239.7l1.5 0.2M331.1 241.8l-1.2 0.3M333.6 243.9l1.2 -0.8M333.6 243.9l-0.9 -0.9M331.8 246.0l-1.7 -0.4M334.1 248.1l1.5 0.9M334.1 248.1l-1.1 0.3 M332.0 198.0l-1.6 -0.9M334.3 200.1l1.5 0.7M334.3 200.1l-0.6 -0.1M331.7 202.2l-1.9 0.5M333.8 204.3l1.4 0.9M333.8 204.3l-1.0 0.5M331.3 206.4l-1.3 -0.9M333.4 208.5l1.7 0.3M331.0 210.6l-1.4 -0.9M332.6 212.7l1.4 -0.6M330.1 214.8l-1.5 -0.6M332.3 216.9l1.7 -0.6M330.2 219.0l-1.3 -0.8M332.1 221.1l1.2 -0.1M332.1 221.1l-1.0 -0.9M330.1 223.2l-1.4 0.9M332.2 225.3l1.6 0.4M332.2 225.3l-0.9 0.4M330.0 227.4l-1.3 0.0M330.0 227.4l0.8 0.3M331.7 229.5l2.0 0.9M330.0 231.6l-1.2 0.6M330.0 231.6l1.0 -0.8M331.7 233.7l1.8 -0.6M329.4 235.8l-1.7 -1.0M331.3 237.9l1.7 0.6M329.5 240.0l-1.8 -0.5M331.1 242.1l1.4 -0.6M328.8 244.2l-1.2 -0.9M330.9 246.3l1.6 0.1M328.5 248.4l-1.6 -0.5M330.0 250.5l1.8 -0.5M330.0 250.5l-0.7 0.1M327.6 252.6l-1.4 -0.6M329.2 254.7l1.9 -0.4 M335.0 203.0l-1.5 -0.4M337.0 205.1l1.6 0.1M334.8 207.2l-1.7 0.7M334.8 207.2l0.8 -1.0M336.6 209.3l1.9 -0.9M335.0 211.4l-1.7 -0.1M335.0 211.4l0.9 -0.3M336.6 213.5l1.7 -0.6M336.6 213.5l-1.0 1.0M334.2 215.6l-1.6 0.2M336.5 217.7l1.4 0.8M334.5 219.8l-1.2 0.5M336.5 221.9l1.4 0.7M334.9 224.0l-1.6 0.0M337.3 226.1l1.4 -0.4M337.3 226.1l-0.8 -1.2M335.1 228.2l-1.3 0.9M337.0 230.3l1.7 -0.2M334.8 232.4l-1.9 -0.6M336.6 234.5l1.4 -0.6M336.6 234.5l-0.9 0.4M334.7 236.6l-1.2 -0.4M336.5 238.7l1.2 0.1M334.2 240.8l-1.7 -0.8M336.3 242.9l1.4 0.5M336.3 242.9l-0.8 -1.2 M339.0 200.0l-1.4 0.2M340.5 202.1l1.5 -0.7M340.5 202.1l-0.7 -0.9M338.1 204.2l-1.6 0.4M340.3 206.3l1.8 0.5M340.3 206.3l-0.8 -0.4M338.1 208.4l-1.7 0.1M338.1 208.4l1.0 -0.9M340.4 210.5l1.8 -0.6M338.1 212.6l-1.6 0.7M339.7 214.7l1.9 0.1M337.4 216.8l-1.7 -0.4M339.0 218.9l1.3 0.8M339.0 218.9l-1.2 -0.7M336.8 221.0l-1.5 -0.8M338.3 223.1l1.6 0.8M338.3 223.1l-1.2 -0.3M335.8 225.2l-1.4 -0.9M335.8 225.2l0.6 -0.0M338.0 227.3l1.9 0.8M335.8 229.4l-1.7 -0.5M337.9 231.5l1.5 0.3M337.9 231.5l-0.9 0.4M335.9 233.6l-1.2 0.1M337.8 235.7l1.2 0.4M335.6 237.8l-1.4 -0.6M337.6 239.9l2.0 -0.5M335.3 242.0l-1.2 0.3M335.3 242.0l1.1 0.6M336.9 244.1l1.4 -0.3M334.9 246.2l-1.4 -0.3M334.9 246.2l0.9 -0.4M337.1 248.3l1.6 -0.2M334.8 250.4l-1.6 -0.3M334.8 250.4l1.1 -0.1 M343.0 205.0l-2.0 0.2M343.0 205.0l0.9 -0.3M344.8 207.1l1.2 0.3M344.8 207.1l-0.7 -0.8M342.4 209.2l-1.8 -0.0M344.3 211.3l1.2 0.0M344.3 211.3l-1.0 -0.2M341.6 213.4l-1.3 0.9M343.3 215.5l1.5 -0.5M343.3 215.5l-0.8 -0.2M340.6 217.6l-1.5 -0.2M342.0 219.7l1.2 -0.1M342.0 219.7l-1.1 0.6M339.8 221.8l-1.4 0.6M339.8 221.8l1.0 1.2M341.1 223.9l1.3 -0.7M338.5 226.0l-1.7 0.5M340.1 228.1l1.9 -0.3M337.9 230.2l-1.6 -0.2M337.9 230.2l1.0 0.4M339.7 232.3l1.9 0.7M339.7 232.3l-0.6 -0.4M337.6 234.4l-1.5 -0.1M337.6 234.4l0.8 0.6M339.6 236.5l1.4 0.2M337.8 238.6l-1.5 -0.3M337.8 238.6l1.0 0.6M339.5 240.7l1.8 -0.8M336.8 242.8l-1.3 0.6M336.8 242.8l0.9 -0.1M338.3 244.9l1.9 -0.3M336.0 247.0l-1.6 -0.1 M347.0 199.0l-1.7 0.2M349.4 201.1l1.9 0.0M347.1 203.2l-1.6 -0.4M347.1 203.2l1.2 -1.1M348.8 205.3l1.8 -0.6M346.5 207.4l-1.6 -0.2M348.9 209.5l2.0 -0.8M348.9 209.5l-0.8 -0.6M346.7 211.6l-1.9 -0.6M348.7 213.7l1.3 -0.9M348.7 213.7l-0.8 0.9M346.4 215.8l-1.5 -0.8M346.4 215.8l0.9 0.3M348.7 217.9l1.5 0.6M346.4 220.0l-1.4 -0.5M348.3 222.1l1.9 0.1M346.6 224.2l-1.3 -0.2M346.6 224.2l1.0 -0.2M348.9 226.3l1.4 -0.5M346.6 228.4l-1.3 0.6M348.8 230.5l1.8 0.3M348.8 230.5l-1.0 -0.2M347.3 232.6l-1.5 -0.6M347.3 232.6l1.0 0.8M349.7 234.7l2.0 -0.6M347.7 236.8l-1.3 0.2M350.3 238.9l1.5 0.3M350.3 238.9l-0.9 -0.9M348.4 241.0l-1.5 0.5M348.4 241.0l0.9 -1.1 M351.0 204.0l-1.5 -0.8M353.5 206.1l1.2 0.8M351.7 208.2l-2.0 -0.4M351.7 208.2l0.7 0.5M353.5 210.3l1.8 -0.8M351.5 212.4l-1.8 0.1M351.5 212.4l1.1 0.2M353.6 214.5l1.6 0.8M351.8 216.6l-1.7 0.3M354.2 218.7l1.9 0.5M352.0 220.8l-1.6 0.3M352.0 220.8l0.9 -0.4M353.7 222.9l1.9 -0.1M352.0 225.0l-1.5 0.6M354.0 227.1l1.9 0.7M354.0 227.1l-1.0 -0.9M352.0 229.2l-1.5 -0.7M352.0 229.2l1.1 0.9M354.3 231.3l1.4 -0.1M354.3 231.3l-0.8 0.8M352.6 233.4l-1.4 0.5M352.6 233.4l0.9 -0.3M354.4 235.5l2.0 -0.1M352.7 237.6l-1.7 -1.0M354.8 239.7l1.6 0.6M352.6 241.8l-1.5 0.5M354.5 243.9l1.8 0.9M354.5 243.9l-0.6 0.7M352.3 246.0l-2.0 0.7M354.0 248.1l1.9 -0.9M352.1 250.2l-1.5 0.6M352.1 250.2l0.8 0.1M353.9 252.3l1.5 -0.3 M355.0 200.0l-1.7 -0.8M355.0 200.0l0.6 -0.1M357.5 202.1l1.3 -0.7M355.2 204.2l-1.8 -0.2M357.2 206.3l1.5 -0.4M355.8 208.4l-1.9 -0.8M358.3 210.5l1.3 -0.4M358.3 210.5l-1.2 -0.0M356.8 212.6l-1.6 0.5M358.7 214.7l1.4 -0.0M356.8 216.8l-1.6 0.9M359.3 218.9l1.7 -0.8M359.3 218.9l-0.6 -1.0M357.3 221.0l-1.6 0.9M359.3 223.1l2.0 -0.9M357.7 225.2l-2.0 -0.5M357.7 225.2l0.9 -0.6M360.2 227.3l1.4 -0.7M358.1 229.4l-1.6 0.6M360.1 231.5l1.7 0.1M360.1 231.5l-0.6 -1.0M357.9 233.6l-2.0 -0.5M357.9 233.6l0.6 0.6M360.2 235.7l1.8 0.7M360.2 235.7l-1.1 1.2M358.5 237.8l-1.6 -1.0M360.7 239.9l1.5 0.1M360.7 239.9l-1.1 0.3M359.1 242.0l-1.3 -0.5M361.2 244.1l1.5 0.7M361.2 244.1l-1.1 -0.6 M359.0 205.0l-1.8 -0.9M361.1 207.1l1.5 -0.3M358.9 209.2l-1.7 0.5M358.9 209.2l1.0 -0.2M361.2 211.3l1.6 -0.6M361.2 211.3l-0.6 -0.5M359.5 213.4l-1.6 -0.8M361.9 215.5l1.7 -0.5M359.5 217.6l-1.4 0.3M361.5 219.7l1.9 0.4M359.1 221.8l-2.0 -0.9M359.1 221.8l0.8 -0.5M360.9 223.9l1.7 0.3M359.0 226.0l-1.3 -0.1M361.1 228.1l1.6 -0.7M361.1 228.1l-0.7 -1.2M359.2 230.2l-1.4 -0.7M359.2 230.2l1.1 0.3M361.1 232.3l1.7 1.0M359.2 234.4l-1.6 0.5M359.2 234.4l0.7 0.0M360.7 236.5l1.6 -0.4M358.3 238.6l-1.5 0.4M358.3 238.6l0.9 -0.4M360.5 240.7l1.4 -0.3M358.4 242.8l-1.5 0.9M360.1 244.9l1.4 -0.6M358.0 247.0l-1.4 0.8M358.0 247.0l0.7 -0.0M360.0 249.1l1.7 0.5M360.0 249.1l-0.9 0.4 M363.0 201.0l-1.9 0.9M363.0 201.0l1.1 1.1M364.7 203.1l1.8 -0.6M364.7 203.1l-1.1 0.1M362.8 205.2l-1.3 0.8M362.8 205.2l0.6 -0.3M365.1 207.3l1.4 0.8M365.1 207.3l-1.0 1.0M362.6 209.4l-1.2 -0.7M364.8 211.5l1.9 -0.3M362.4 213.6l-1.7 0.3M362.4 213.6l1.1 -0.1M364.3 215.7l1.3 -0.7M364.3 215.7l-0.9 -0.9M362.4 217.8l-1.4 0.6M364.5 219.9l1.9 0.2M362.6 222.0l-1.3 0.6M364.6 224.1l1.7 0.1M364.6 224.1l-0.6 -0.4M362.8 226.2l-1.9 -0.3M364.8 228.3l2.0 -0.5M364.8 228.3l-1.1 0.3M362.5 230.4l-1.7 -0.5M362.5 230.4l0.9 0.1M364.7 232.5l1.8 -0.6M364.7 232.5l-0.7 0.4M362.7 234.6l-1.7 -0.4M362.7 234.6l0.6 -1.2M364.3 236.7l2.0 0.5M364.3 236.7l-1.1 -0.9M361.7 238.8l-2.0 -0.6M363.9 240.9l1.7 0.0M363.9 240.9l-0.9 1.2M362.1 243.0l-1.8 0.2M364.2 245.1l1.4 -0.9M364.2 245.1l-0.8 0.3M362.2 247.2l-1.9 0.4M364.4 249.3l1.7 0.1M364.4 249.3l-0.9 -0.8M362.7 251.4l-1.3 0.1M362.7 251.4l0.9 0.2M364.6 253.5l1.4 0.8M364.6 253.5l-0.6 -0.9M362.8 255.6l-1.3 0.2M364.7 257.7l1.3 -0.4M362.5 259.8l-1.9 0.5 M366.0 206.0l-1.7 0.3M366.0 206.0l0.7 -0.4M368.5 208.1l1.6 -0.8M368.5 208.1l-1.1 -0.4M366.4 210.2l-1.5 -0.8M368.7 212.3l1.3 -0.9M367.3 214.4l-1.6 0.2M367.3 214.4l0.7 0.9M369.3 216.5l1.9 -0.8M367.9 218.6l-1.8 0.8M370.4 220.7l1.4 0.7M368.8 222.8l-1.4 -0.4M368.8 222.8l0.8 1.2M370.7 224.9l1.6 0.0M368.5 227.0l-1.5 -0.4M368.5 227.0l0.8 -0.5M370.8 229.1l1.7 -1.0M370.8 229.1l-0.6 -0.5M369.3 231.2l-1.6 -0.6M369.3 231.2l1.0 1.2M371.6 233.3l1.3 -0.2M371.6 233.3l-0.9 0.0M369.6 235.4l-1.9 -0.7M369.6 235.4l0.7 0.2M372.2 237.5l1.4 0.3M370.5 239.6l-1.4 0.9M372.5 241.7l1.9 0.5M372.5 241.7l-0.8 0.0M371.0 243.8l-1.8 0.1M373.3 245.9l1.6 -1.0M371.7 248.0l-1.7 0.9M373.9 250.1l1.6 -0.0M373.9 250.1l-0.9 0.8M371.9 252.2l-1.5 -0.2 M315.0 222.0l-1.3 -0.5M315.0 222.0l0.8 0.3M316.5 224.1l2.0 0.6M314.0 226.2l-1.2 -0.4M315.9 228.3l1.8 0.9M315.9 228.3l-1.0 -0.0M313.9 230.4l-1.7 -0.2M313.9 230.4l0.8 1.1M316.1 232.5l1.3 0.9M314.1 234.6l-1.6 -0.7M316.3 236.7l1.5 -0.6M316.3 236.7l-0.8 0.8M313.7 238.8l-1.9 -0.7M315.3 240.9l1.4 0.6M315.3 240.9l-1.1 -0.8M313.3 243.0l-1.4 -0.8M313.3 243.0l1.2 0.4M315.0 245.1l1.7 -0.2M313.1 247.2l-1.5 0.8M313.1 247.2l0.9 -0.3M314.6 249.3l1.8 -0.7M314.6 249.3l-1.0 -1.1 M330.0 220.0l-2.0 -0.1M330.0 220.0l1.2 1.1M332.1 222.1l1.3 0.7M330.3 224.2l-1.6 -0.1M330.3 224.2l0.8 -0.6M332.4 226.3l1.2 -0.9M332.4 226.3l-0.7 -0.0M330.0 228.4l-1.3 -0.2M330.0 228.4l0.7 -0.1M332.3 230.5l1.8 -0.5M332.3 230.5l-0.8 -0.2M330.0 232.6l-1.4 -0.6M330.0 232.6l0.8 0.6M332.1 234.7l1.5 0.6M332.1 234.7l-1.0 -0.4M330.2 236.8l-1.3 0.2M330.2 236.8l0.9 0.6M331.7 238.9l1.4 0.2M329.4 241.0l-1.9 -0.9 M345.0 222.0l-1.3 -0.6M347.4 224.1l1.4 0.3M345.7 226.2l-1.3 -0.5M345.7 226.2l0.9 0.2M347.4 228.3l1.6 0.4M347.4 228.3l-0.9 -0.0M345.9 230.4l-1.6 -0.9M348.0 232.5l1.5 0.9M346.4 234.6l-1.3 1.0M348.9 236.7l1.7 -1.0M346.7 238.8l-1.9 -0.1M348.4 240.9l1.9 -0.9M348.4 240.9l-0.7 0.6M346.1 243.0l-1.4 0.9M346.1 243.0l0.8 1.1M348.5 245.1l1.6 -0.6M346.4 247.2l-1.6 0.3M346.4 247.2l0.9 -0.8 M357.0 220.0l-1.4 -0.9M357.0 220.0l1.0 -1.1M358.6 222.1l1.5 1.0M358.6 222.1l-0.7 0.1M356.7 224.2l-1.2 -0.7M358.3 226.3l1.7 -0.3M358.3 226.3l-0.7 -1.0M355.8 228.4l-1.6 0.5M355.8 228.4l1.0 0.8M357.4 230.5l1.9 -0.7M355.2 232.6l-1.2 0.1M357.2 234.7l1.6 -0.5M355.2 236.8l-1.3 -0.6M357.1 238.9l1.5 -0.1M355.0 241.0l-1.6 -0.0M356.9 243.1l1.6 -0.0M356.9 243.1l-0.9 -0.9 M293.1 190.0l-1.8 0.7M293.1 190.0l1.1 -0.0M295.3 187.9l1.2 -0.4M295.3 187.9l-1.1 1.0M293.3 185.8l-2.0 -0.0 M297.4 190.0l-1.6 0.8M299.0 187.9l2.0 -0.9M299.0 187.9l-0.8 -1.1M296.9 185.8l-1.6 -0.2M298.5 183.7l2.0 0.9M298.5 183.7l-0.7 -0.1M296.0 181.6l-1.7 -0.9M296.0 181.6l0.8 -0.3 M302.3 190.0l-1.7 -0.9M302.3 190.0l1.0 0.1M304.1 187.9l1.9 -0.2M304.1 187.9l-0.7 0.9M301.9 185.8l-1.9 -0.9M304.0 183.7l1.6 -0.3M304.0 183.7l-0.7 0.2M302.2 181.6l-1.6 0.4M302.2 181.6l0.6 0.7M304.6 179.5l1.6 0.2M302.4 177.4l-1.5 0.9 M305.9 190.0l-1.3 0.9M307.6 187.9l1.3 0.4M305.8 185.8l-1.8 -0.7M305.8 185.8l0.9 0.2M308.1 183.7l1.5 0.9M308.1 183.7l-0.8 -0.4M306.1 181.6l-1.5 0.7M308.3 179.5l1.2 -0.7M308.3 179.5l-0.9 -0.8M306.2 177.4l-1.6 -0.1 M309.1 190.0l-2.0 0.3M311.2 187.9l1.9 -0.2M311.2 187.9l-1.0 -0.8M309.4 185.8l-1.3 0.0M311.3 183.7l1.8 0.7M309.2 181.6l-1.9 -0.7M309.2 181.6l0.8 0.2M310.8 179.5l1.5 -0.3M308.6 177.4l-1.2 0.0M310.0 175.3l1.3 -0.8M308.2 173.2l-1.7 -0.2 M313.3 190.0l-1.9 0.1M313.3 190.0l0.7 0.8M315.4 187.9l1.7 -0.1M315.4 187.9l-0.8 0.2M313.6 185.8l-2.0 -0.3M313.6 185.8l1.0 -1.0M315.4 183.7l1.4 0.9M313.5 181.6l-1.3 0.3M313.5 181.6l0.9 0.6M316.0 179.5l1.3 -0.3M316.0 179.5l-1.0 -0.5M314.3 177.4l-1.3 -1.0M316.1 175.3l1.5 0.2M316.1 175.3l-0.6 0.1M314.0 173.2l-1.6 -0.5M314.0 173.2l0.7 0.7M315.6 171.1l1.8 -0.1 M317.7 190.0l-1.9 0.7M317.7 190.0l0.6 -0.9M320.1 187.9l1.3 -0.9M317.9 185.8l-1.5 -0.8M317.9 185.8l0.8 1.2M320.4 183.7l1.7 0.4M318.3 181.6l-2.0 -0.5M320.6 179.5l1.7 0.5M320.6 179.5l-1.0 0.3M318.8 177.4l-1.8 -0.7M318.8 177.4l0.9 1.1M320.8 175.3l1.4 1.0M320.8 175.3l-1.0 0.5M319.1 173.2l-1.4 -0.5M319.1 173.2l1.2 0.6M321.6 171.1l1.4 0.7M321.6 171.1l-1.1 0.5M319.8 169.0l-1.3 -0.4 M321.4 190.0l-1.2 -0.8M323.4 187.9l1.6 -0.1M323.4 187.9l-1.2 -0.6M321.5 185.8l-1.6 0.8M324.0 183.7l2.0 -0.7M324.0 183.7l-0.6 -0.6M321.8 181.6l-1.7 -0.5M323.8 179.5l1.6 0.8M322.3 177.4l-1.4 0.2M324.2 175.3l1.8 -0.3M322.1 173.2l-1.9 0.6M322.1 173.2l0.8 0.8M324.5 171.1l1.6 -0.1M324.5 171.1l-0.7 -0.9M323.0 169.0l-1.8 -0.5M323.0 169.0l0.6 0.3 M326.7 190.0l-1.5 0.3M329.2 187.9l1.2 0.4M329.2 187.9l-0.9 -0.4M327.1 185.8l-1.6 1.0M329.2 183.7l1.2 -0.4M327.1 181.6l-1.4 0.0M327.1 181.6l0.9 -1.0M329.8 179.5l1.4 0.5M329.8 179.5l-1.1 0.9M327.8 177.4l-1.3 1.0M327.8 177.4l0.9 0.9M330.1 175.3l1.9 -0.4M328.3 173.2l-1.3 0.6M330.8 171.1l1.3 0.4M329.1 169.0l-1.4 0.7M329.1 169.0l1.0 0.5 M330.4 190.0l-1.6 0.6M330.4 190.0l1.0 -0.7M332.8 187.9l1.3 0.1M332.8 187.9l-1.1 -0.8M331.3 185.8l-1.5 0.2M331.3 185.8l0.7 0.4M333.3 183.7l1.4 0.9M331.7 181.6l-1.3 -0.9M331.7 181.6l0.8 -0.1M333.8 179.5l1.7 0.0M333.8 179.5l-1.1 1.0M331.6 177.4l-1.3 -0.1M331.6 177.4l1.1 1.0M334.1 175.3l1.6 -0.2M331.8 173.2l-1.8 0.8M331.8 173.2l0.7 1.0M333.9 171.1l1.7 0.1M333.9 171.1l-1.0 -1.2M331.7 169.0l-1.3 -0.2M333.9 166.9l1.9 0.8 M333.7 190.0l-1.5 0.5M335.6 187.9l1.8 0.1M335.6 187.9l-0.8 -0.6M333.4 185.8l-1.3 0.7M333.4 185.8l1.0 1.1M335.2 183.7l1.4 0.7M333.3 181.6l-1.4 -0.0M333.3 181.6l0.8 -1.2M335.4 179.5l1.8 0.8M335.4 179.5l-1.2 0.8M333.7 177.4l-1.4 -0.6M333.7 177.4l0.9 0.6M335.8 175.3l1.7 -0.7M333.7 173.2l-2.0 -0.7M333.7 173.2l0.9 -0.6M335.9 171.1l1.7 -0.7M334.1 169.0l-1.4 -0.9M335.8 166.9l1.6 0.3 M338.8 190.0l-1.5 0.9M338.8 190.0l0.7 0.4M340.9 187.9l2.0 -0.7M340.9 187.9l-0.8 0.7M338.5 185.8l-1.4 -0.3M338.5 185.8l0.9 -0.5M340.5 183.7l1.8 0.7M338.7 181.6l-1.6 -0.3M338.7 181.6l0.8 -1.2M340.8 179.5l1.3 -0.0M340.8 179.5l-0.7 0.2M338.3 177.4l-1.6 0.9M338.3 177.4l0.8 0.4M340.3 175.3l1.2 0.3M340.3 175.3l-1.0 0.5M338.3 173.2l-1.5 0.6M338.3 173.2l1.1 -0.5M340.5 171.1l2.0 0.5M340.5 171.1l-0.9 1.1M338.4 169.0l-2.0 -0.4M338.4 169.0l0.6 -0.5 M342.3 190.0l-1.8 0.4M342.3 190.0l1.0 -1.1M344.3 187.9l1.7 0.5M344.3 187.9l-1.2 -0.3M342.1 185.8l-1.9 0.7M344.3 183.7l1.4 -0.9M342.2 181.6l-2.0 -0.4M342.2 181.6l0.9 -0.8M343.9 179.5l1.9 0.2M343.9 179.5l-1.0 -0.8M341.5 177.4l-1.6 0.5M341.5 177.4l0.8 1.1M343.7 175.3l1.6 0.7M341.8 173.2l-1.8 -0.4M341.8 173.2l1.1 -0.4M343.6 171.1l1.6 -0.5M341.1 169.0l-1.2 0.1M342.8 166.9l1.7 -0.5 M346.0 190.0l-1.8 -0.8M347.9 187.9l1.6 0.8M347.9 187.9l-1.1 0.5M345.8 185.8l-1.3 0.1M345.8 185.8l0.9 -1.1M347.6 183.7l1.4 -0.7M347.6 183.7l-1.1 0.2M345.9 181.6l-1.3 -0.9M345.9 181.6l1.1 0.2M347.8 179.5l1.7 -0.5M346.0 177.4l-2.0 -0.3M346.0 177.4l0.9 -0.7M348.4 175.3l1.3 -0.1M348.4 175.3l-0.7 1.0M346.9 173.2l-1.9 -0.6M348.6 171.1l1.7 0.6 M349.2 190.0l-1.2 -0.1M351.1 187.9l1.9 -0.9M348.6 185.8l-1.3 -0.7M350.2 183.7l1.9 -0.9M348.3 181.6l-1.7 -1.0M350.3 179.5l1.5 -0.8M350.3 179.5l-0.8 0.2M347.9 177.4l-1.6 -0.8 M310.0 186.0l-1.5 0.8M310.0 186.0l0.9 -0.4M311.8 183.9l1.3 -0.3M309.8 181.8l-1.4 0.6M309.8 181.8l0.9 0.1M311.5 179.7l1.8 -0.9M311.5 179.7l-0.7 0.7 M322.0 186.0l-1.4 -0.9M323.8 183.9l1.5 0.3M323.8 183.9l-1.0 -0.9M322.2 181.8l-1.9 -0.5M322.2 181.8l1.0 0.5M324.2 179.7l1.7 0.1M324.2 179.7l-0.8 -0.8M322.1 177.6l-1.3 -0.5M322.1 177.6l1.1 0.2M323.9 175.5l1.4 -0.5M323.9 175.5l-1.1 0.2M322.2 173.4l-1.9 0.4 M334.0 186.0l-1.3 0.2M335.6 183.9l1.9 -0.1M335.6 183.9l-0.9 -0.0M333.2 181.8l-1.9 0.3M333.2 181.8l0.8 0.2M335.2 179.7l1.5 0.9M335.2 179.7l-1.1 0.4M333.0 177.6l-1.3 -0.6M335.1 175.5l1.7 -0.2M335.1 175.5l-0.9 -0.9M332.8 173.4l-1.5 0.8M332.8 173.4l0.9 -0.2M334.5 171.3l1.3 -0.0 M342.0 186.0l-1.5 -0.9M342.0 186.0l0.9 1.0M344.4 183.9l1.9 0.7M344.4 183.9l-1.0 -0.4M342.2 181.8l-1.3 0.3M342.2 181.8l1.2 -0.2M344.5 179.7l1.5 -0.2M344.5 179.7l-0.9 1.2M342.2 177.6l-1.9 0.6M342.2 177.6l0.8 -0.4M344.3 175.5l1.2 -0.6M341.9 173.4l-1.6 -0.2M341.9 173.4l1.0 1.2M344.3 171.3l1.4 -0.2" fill="none" stroke="#c8a880" stroke-width="0.65"/>
<path d="M298.0 204.0 L299.9 206.1 L297.7 208.2 L299.3 210.3 L297.3 212.4 L299.2 214.5 L297.4 216.6 L299.7 218.7 L298.0 220.8 L299.7 222.9 L297.5 225.0 L299.2 227.1 L297.0 229.2 L298.7 231.3 L296.4 233.4 L297.9 235.5 L296.3 237.6 L298.4 239.7 L296.1 241.8 L298.3 243.9 L296.2 246.0 M301.0 200.0 L303.0 202.1 L301.5 204.2 L304.1 206.3 L302.5 208.4 L305.1 210.5 L302.9 212.6 L305.5 214.7 L303.8 216.8 L305.7 218.9 L304.1 221.0 L306.7 223.1 L305.0 225.2 L307.6 227.3 L305.9 229.4 L308.2 231.5 L306.7 233.6 L309.3 235.7 L307.8 237.8 L310.1 239.9 L308.4 242.0 L310.4 244.1 L308.3 246.2 L310.2 248.3 L308.3 250.4 L310.7 252.5 L309.0 254.6 L311.5 256.7 M305.0 206.0 L306.4 208.1 L303.8 210.2 L305.2 212.3 L303.1 214.4 L304.8 216.5 L302.9 218.6 L304.4 220.7 L302.0 222.8 L304.2 224.9 L302.0 227.0 L303.6 229.1 L301.5 231.2 L303.6 233.3 L301.7 235.4 L303.4 237.5 L301.5 239.6 L303.7 241.7 L301.3 243.8 M308.0 199.0 L310.1 201.1 L308.3 203.2 L310.8 205.3 L308.4 207.4 L310.3 209.5 L308.1 211.6 L310.3 213.7 L308.7 215.8 L310.9 217.9 L309.2 220.0 L311.3 222.1 L309.8 224.2 L312.0 226.3 L310.5 228.4 L312.3 230.5 L310.1 232.6 L312.4 234.7 L310.3 236.8 L312.6 238.9 L310.8 241.0 L313.3 243.1 L311.4 245.2 L313.5 247.3 L311.5 249.4 L314.0 251.5 L311.8 253.6 L313.6 255.7 L312.1 257.8 L314.6 259.9 L312.6 262.0 M312.0 203.0 L313.6 205.1 L311.6 207.2 L313.3 209.3 L311.6 211.4 L313.2 213.5 L311.4 215.6 L313.3 217.7 L311.6 219.8 L313.3 221.9 L311.0 224.0 L313.2 226.1 L310.9 228.2 L312.6 230.3 L310.9 232.4 L313.3 234.5 L311.6 236.6 L313.9 238.7 L312.2 240.8 L314.1 242.9 L312.5 245.0 L314.3 247.1 L312.6 249.2 L315.0 251.3 M317.0 198.0 L319.5 200.1 L317.8 202.2 L320.1 204.3 L317.9 206.4 L319.8 208.5 L317.6 210.6 L319.9 212.7 L318.2 214.8 L320.7 216.9 L318.9 219.0 L320.9 221.1 L319.1 223.2 L321.6 225.3 L320.0 227.4 L322.2 229.5 L320.1 231.6 L321.8 233.7 L319.8 235.8 L322.3 237.9 L320.8 240.0 M320.0 205.0 L322.5 207.1 L320.9 209.2 L322.5 211.3 L321.0 213.4 L323.2 215.5 L321.3 217.6 L323.1 219.7 L321.2 221.8 L322.8 223.9 L321.1 226.0 L323.1 228.1 L321.1 230.2 L323.2 232.3 L321.5 234.4 L323.9 236.5 L322.2 238.6 L324.7 240.7 L322.9 242.8 L325.2 244.9 L323.3 247.0 L325.0 249.1 L323.3 251.2 L325.6 253.3 M324.0 200.0 L326.2 202.1 L323.8 204.2 L325.8 206.3 L324.2 208.4 L326.6 210.5 L324.5 212.6 L326.4 214.7 L324.3 216.8 L326.3 218.9 L324.0 221.0 L325.8 223.1 L323.3 225.2 L325.0 227.3 L323.0 229.4 L324.9 231.5 L322.5 233.6 L324.2 235.7 L322.3 237.8 L323.8 239.9 L321.7 242.0 L323.6 244.1 M328.0 204.0 L330.0 206.1 L328.3 208.2 L330.6 210.3 L328.9 212.4 L330.8 214.5 L328.9 216.6 L331.0 218.7 L329.5 220.8 L331.3 222.9 L329.1 225.0 L331.7 227.1 L329.6 229.2 L331.7 231.3 L330.2 233.4 L332.1 235.5 L330.6 237.6 L332.9 239.7 L331.1 241.8 L333.6 243.9 L331.8 246.0 L334.1 248.1 M332.0 198.0 L334.3 200.1 L331.7 202.2 L333.8 204.3 L331.3 206.4 L333.4 208.5 L331.0 210.6 L332.6 212.7 L330.1 214.8 L332.3 216.9 L330.2 219.0 L332.1 221.1 L330.1 223.2 L332.2 225.3 L330.0 227.4 L331.7 229.5 L330.0 231.6 L331.7 233.7 L329.4 235.8 L331.3 237.9 L329.5 240.0 L331.1 242.1 L328.8 244.2 L330.9 246.3 L328.5 248.4 L330.0 250.5 L327.6 252.6 L329.2 254.7 M335.0 203.0 L337.0 205.1 L334.8 207.2 L336.6 209.3 L335.0 211.4 L336.6 213.5 L334.2 215.6 L336.5 217.7 L334.5 219.8 L336.5 221.9 L334.9 224.0 L337.3 226.1 L335.1 228.2 L337.0 230.3 L334.8 232.4 L336.6 234.5 L334.7 236.6 L336.5 238.7 L334.2 240.8 L336.3 242.9 M339.0 200.0 L340.5 202.1 L338.1 204.2 L340.3 206.3 L338.1 208.4 L340.4 210.5 L338.1 212.6 L339.7 214.7 L337.4 216.8 L339.0 218.9 L336.8 221.0 L338.3 223.1 L335.8 225.2 L338.0 227.3 L335.8 229.4 L337.9 231.5 L335.9 233.6 L337.8 235.7 L335.6 237.8 L337.6 239.9 L335.3 242.0 L336.9 244.1 L334.9 246.2 L337.1 248.3 L334.8 250.4 M343.0 205.0 L344.8 207.1 L342.4 209.2 L344.3 211.3 L341.6 213.4 L343.3 215.5 L340.6 217.6 L342.0 219.7 L339.8 221.8 L341.1 223.9 L338.5 226.0 L340.1 228.1 L337.9 230.2 L339.7 232.3 L337.6 234.4 L339.6 236.5 L337.8 238.6 L339.5 240.7 L336.8 242.8 L338.3 244.9 L336.0 247.0 M347.0 199.0 L349.4 201.1 L347.1 203.2 L348.8 205.3 L346.5 207.4 L348.9 209.5 L346.7 211.6 L348.7 213.7 L346.4 215.8 L348.7 217.9 L346.4 220.0 L348.3 222.1 L346.6 224.2 L348.9 226.3 L346.6 228.4 L348.8 230.5 L347.3 232.6 L349.7 234.7 L347.7 236.8 L350.3 238.9 L348.4 241.0 M351.0 204.0 L353.5 206.1 L351.7 208.2 L353.5 210.3 L351.5 212.4 L353.6 214.5 L351.8 216.6 L354.2 218.7 L352.0 220.8 L353.7 222.9 L352.0 225.0 L354.0 227.1 L352.0 229.2 L354.3 231.3 L352.6 233.4 L354.4 235.5 L352.7 237.6 L354.8 239.7 L352.6 241.8 L354.5 243.9 L352.3 246.0 L354.0 248.1 L352.1 250.2 L353.9 252.3 M355.0 200.0 L357.5 202.1 L355.2 204.2 L357.2 206.3 L355.8 208.4 L358.3 210.5 L356.8 212.6 L358.7 214.7 L356.8 216.8 L359.3 218.9 L357.3 221.0 L359.3 223.1 L357.7 225.2 L360.2 227.3 L358.1 229.4 L360.1 231.5 L357.9 233.6 L360.2 235.7 L358.5 237.8 L360.7 239.9 L359.1 242.0 L361.2 244.1 M359.0 205.0 L361.1 207.1 L358.9 209.2 L361.2 211.3 L359.5 213.4 L361.9 215.5 L359.5 217.6 L361.5 219.7 L359.1 221.8 L360.9 223.9 L359.0 226.0 L361.1 228.1 L359.2 230.2 L361.1 232.3 L359.2 234.4 L360.7 236.5 L358.3 238.6 L360.5 240.7 L358.4 242.8 L360.1 244.9 L358.0 247.0 L360.0 249.1 M363.0 201.0 L364.7 203.1 L362.8 205.2 L365.1 207.3 L362.6 209.4 L364.8 211.5 L362.4 213.6 L364.3 215.7 L362.4 217.8 L364.5 219.9 L362.6 222.0 L364.6 224.1 L362.8 226.2 L364.8 228.3 L362.5 230.4 L364.7 232.5 L362.7 234.6 L364.3 236.7 L361.7 238.8 L363.9 240.9 L362.1 243.0 L364.2 245.1 L362.2 247.2 L364.4 249.3 L362.7 251.4 L364.6 253.5 L362.8 255.6 L364.7 257.7 L362.5 259.8 M366.0 206.0 L368.5 208.1 L366.4 210.2 L368.7 212.3 L367.3 214.4 L369.3 216.5 L367.9 218.6 L370.4 220.7 L368.8 222.8 L370.7 224.9 L368.5 227.0 L370.8 229.1 L369.3 231.2 L371.6 233.3 L369.6 235.4 L372.2 237.5 L370.5 239.6 L372.5 241.7 L371.0 243.8 L373.3 245.9 L371.7 248.0 L373.9 250.1 L371.9 252.2 M315.0 222.0 L316.5 224.1 L314.0 226.2 L315.9 228.3 L313.9 230.4 L316.1 232.5 L314.1 234.6 L316.3 236.7 L313.7 238.8 L315.3 240.9 L313.3 243.0 L315.0 245.1 L313.1 247.2 L314.6 249.3 M330.0 220.0 L332.1 222.1 L330.3 224.2 L332.4 226.3 L330.0 228.4 L332.3 230.5 L330.0 232.6 L332.1 234.7 L330.2 236.8 L331.7 238.9 L329.4 241.0 M345.0 222.0 L347.4 224.1 L345.7 226.2 L347.4 228.3 L345.9 230.4 L348.0 232.5 L346.4 234.6 L348.9 236.7 L346.7 238.8 L348.4 240.9 L346.1 243.0 L348.5 245.1 L346.4 247.2 M357.0 220.0 L358.6 222.1 L356.7 224.2 L358.3 226.3 L355.8 228.4 L357.4 230.5 L355.2 232.6 L357.2 234.7 L355.2 236.8 L357.1 238.9 L355.0 241.0 L356.9 243.1 M293.1 190.0 L295.3 187.9 L293.3 185.8 M297.4 190.0 L299.0 187.9 L296.9 185.8 L298.5 183.7 L296.0 181.6 M302.3 190.0 L304.1 187.9 L301.9 185.8 L304.0 183.7 L302.2 181.6 L304.6 179.5 L302.4 177.4 M305.9 190.0 L307.6 187.9 L305.8 185.8 L308.1 183.7 L306.1 181.6 L308.3 179.5 L306.2 177.4 M309.1 190.0 L311.2 187.9 L309.4 185.8 L311.3 183.7 L309.2 181.6 L310.8 179.5 L308.6 177.4 L310.0 175.3 L308.2 173.2 M313.3 190.0 L315.4 187.9 L313.6 185.8 L315.4 183.7 L313.5 181.6 L316.0 179.5 L314.3 177.4 L316.1 175.3 L314.0 173.2 L315.6 171.1 M317.7 190.0 L320.1 187.9 L317.9 185.8 L320.4 183.7 L318.3 181.6 L320.6 179.5 L318.8 177.4 L320.8 175.3 L319.1 173.2 L321.6 171.1 L319.8 169.0 M321.4 190.0 L323.4 187.9 L321.5 185.8 L324.0 183.7 L321.8 181.6 L323.8 179.5 L322.3 177.4 L324.2 175.3 L322.1 173.2 L324.5 171.1 L323.0 169.0 M326.7 190.0 L329.2 187.9 L327.1 185.8 L329.2 183.7 L327.1 181.6 L329.8 179.5 L327.8 177.4 L330.1 175.3 L328.3 173.2 L330.8 171.1 L329.1 169.0 M330.4 190.0 L332.8 187.9 L331.3 185.8 L333.3 183.7 L331.7 181.6 L333.8 179.5 L331.6 177.4 L334.1 175.3 L331.8 173.2 L333.9 171.1 L331.7 169.0 L333.9 166.9 M333.7 190.0 L335.6 187.9 L333.4 185.8 L335.2 183.7 L333.3 181.6 L335.4 179.5 L333.7 177.4 L335.8 175.3 L333.7 173.2 L335.9 171.1 L334.1 169.0 L335.8 166.9 M338.8 190.0 L340.9 187.9 L338.5 185.8 L340.5 183.7 L338.7 181.6 L340.8 179.5 L338.3 177.4 L340.3 175.3 L338.3 173.2 L340.5 171.1 L338.4 169.0 M342.3 190.0 L344.3 187.9 L342.1 185.8 L344.3 183.7 L342.2 181.6 L343.9 179.5 L341.5 177.4 L343.7 175.3 L341.8 173.2 L343.6 171.1 L341.1 169.0 L342.8 166.9 M346.0 190.0 L347.9 187.9 L345.8 185.8 L347.6 183.7 L345.9 181.6 L347.8 179.5 L346.0 177.4 L348.4 175.3 L346.9 173.2 L348.6 171.1 M349.2 190.0 L351.1 187.9 L348.6 185.8 L350.2 183.7 L348.3 181.6 L350.3 179.5 L347.9 177.4 M310.0 186.0 L311.8 183.9 L309.8 181.8 L311.5 179.7 M322.0 186.0 L323.8 183.9 L322.2 181.8 L324.2 179.7 L322.1 177.6 L323.9 175.5 L322.2 173.4 M334.0 186.0 L335.6 183.9 L333.2 181.8 L335.2 179.7 L333.0 177.6 L335.1 175.5 L332.8 173.4 L334.5 171.3 M342.0 186.0 L344.4 183.9 L342.2 181.8 L344.5 179.7 L342.2 177.6 L344.3 175.5 L341.9 173.4 L344.3 171.3" fill="none" stroke="#a87f50" stroke-width="1.0" stroke-linejoin="round"/>
<circle cx="373.4" cy="211.2" r="1.8" fill="#b83636" opacity="0.47"/><circle cx="382.2" cy="202.6" r="2.1" fill="#b83636" opacity="0.48"/><circle cx="289.9" cy="197.4" r="1.9" fill="#b83636" opacity="0.77"/><circle cx="397.8" cy="211.2" r="2.3" fill="#b83636" opacity="0.84"/><circle cx="259.2" cy="193.8" r="2.3" fill="#b83636" opacity="0.49"/><circle cx="377.5" cy="203.0" r="2.1" fill="#b83636" opacity="0.75"/><circle cx="411.0" cy="220.7" r="1.9" fill="#b83636" opacity="0.64"/><circle cx="273.3" cy="204.0" r="2.4" fill="#b83636" opacity="0.48"/><circle cx="285.2" cy="196.1" r="1.8" fill="#b83636" opacity="0.54"/><circle cx="388.5" cy="199.1" r="2.1" fill="#b83636" opacity="0.41"/><circle cx="265.5" cy="197.5" r="1.9" fill="#b83636" opacity="0.54"/><circle cx="376.9" cy="211.8" r="1.9" fill="#b83636" opacity="0.85"/><circle cx="386.1" cy="200.9" r="2.4" fill="#b83636" opacity="0.63"/><circle cx="392.5" cy="196.5" r="2.0" fill="#b83636" opacity="0.69"/><circle cx="281.8" cy="209.2" r="2.3" fill="#b83636" opacity="0.74"/><circle cx="388.0" cy="211.9" r="1.9" fill="#b83636" opacity="0.65"/><circle cx="279.9" cy="192.6" r="2.0" fill="#b83636" opacity="0.74"/><circle cx="405.8" cy="198.0" r="2.1" fill="#b83636" opacity="0.60"/><circle cx="413.4" cy="201.2" r="2.1" fill="#b83636" opacity="0.47"/><circle cx="273.4" cy="222.8" r="1.9" fill="#b83636" opacity="0.67"/><circle cx="404.1" cy="208.4" r="2.0" fill="#b83636" opacity="0.50"/><circle cx="404.9" cy="197.0" r="1.8" fill="#b83636" opacity="0.57"/><circle cx="275.7" cy="197.6" r="2.4" fill="#b83636" opacity="0.83"/><circle cx="273.8" cy="192.0" r="2.0" fill="#b83636" opacity="0.51"/><circle cx="289.3" cy="193.2" r="2.0" fill="#b83636" opacity="0.68"/><circle cx="415.7" cy="222.7" r="1.9" fill="#b83636" opacity="0.89"/><circle cx="269.7" cy="200.7" r="2.1" fill="#b83636" opacity="0.83"/><circle cx="390.9" cy="221.0" r="1.9" fill="#b83636" opacity="0.58"/><circle cx="275.0" cy="199.9" r="2.3" fill="#b83636" opacity="0.60"/><circle cx="382.7" cy="196.3" r="2.3" fill="#b83636" opacity="0.49"/><circle cx="373.2" cy="199.9" r="2.2" fill="#b83636" opacity="0.43"/><circle cx="405.5" cy="206.4" r="2.0" fill="#b83636" opacity="0.71"/><circle cx="286.4" cy="220.3" r="2.2" fill="#b83636" opacity="0.49"/><circle cx="373.8" cy="216.6" r="1.9" fill="#b83636" opacity="0.61"/><circle cx="409.7" cy="206.7" r="1.9" fill="#b83636" opacity="0.87"/><circle cx="379.2" cy="220.8" r="2.0" fill="#b83636" opacity="0.86"/><circle cx="381.2" cy="193.5" r="2.2" fill="#b83636" opacity="0.42"/><circle cx="273.6" cy="206.6" r="2.1" fill="#b83636" opacity="0.47"/><circle cx="285.1" cy="198.3" r="2.3" fill="#b83636" opacity="0.66"/><circle cx="381.9" cy="213.8" r="2.4" fill="#b83636" opacity="0.49"/><circle cx="255.6" cy="206.7" r="2.1" fill="#b83636" opacity="0.64"/><circle cx="253.8" cy="215.1" r="2.0" fill="#b83636" opacity="0.72"/><circle cx="385.7" cy="196.1" r="1.8" fill="#b83636" opacity="0.46"/><circle cx="373.2" cy="195.2" r="2.2" fill="#b83636" opacity="0.78"/><circle cx="266.6" cy="222.2" r="2.1" fill="#b83636" opacity="0.84"/><circle cx="412.2" cy="206.4" r="2.2" fill="#b83636" opacity="0.66"/><circle cx="290.0" cy="209.1" r="2.2" fill="#b83636" opacity="0.65"/><circle cx="290.6" cy="196.6" r="1.9" fill="#b83636" opacity="0.82"/><circle cx="286.5" cy="213.8" r="1.9" fill="#b83636" opacity="0.68"/><circle cx="261.2" cy="206.0" r="1.8" fill="#b83636" opacity="0.71"/><circle cx="289.1" cy="220.5" r="2.2" fill="#b83636" opacity="0.53"/><circle cx="407.6" cy="206.7" r="2.2" fill="#b83636" opacity="0.43"/><circle cx="269.3" cy="214.5" r="2.1" fill="#b83636" opacity="0.56"/><circle cx="403.9" cy="217.0" r="2.1" fill="#b83636" opacity="0.52"/><circle cx="287.4" cy="205.9" r="2.3" fill="#b83636" opacity="0.52"/><circle cx="258.7" cy="198.6" r="2.0" fill="#b83636" opacity="0.58"/><circle cx="281.9" cy="213.7" r="2.3" fill="#b83636" opacity="0.49"/><circle cx="374.2" cy="217.3" r="2.0" fill="#b83636" opacity="0.66"/><circle cx="414.5" cy="195.2" r="1.8" fill="#b83636" opacity="0.83"/><circle cx="258.7" cy="194.0" r="1.9" fill="#b83636" opacity="0.71"/><circle cx="270.3" cy="205.1" r="1.8" fill="#b83636" opacity="0.76"/><circle cx="410.5" cy="218.4" r="1.9" fill="#b83636" opacity="0.67"/><circle cx="407.0" cy="206.5" r="1.9" fill="#b83636" opacity="0.60"/><circle cx="407.9" cy="193.5" r="2.0" fill="#b83636" opacity="0.41"/><circle cx="283.2" cy="197.1" r="2.3" fill="#b83636" opacity="0.78"/><circle cx="277.0" cy="196.8" r="2.3" fill="#b83636" opacity="0.81"/><circle cx="375.9" cy="215.3" r="2.4" fill="#b83636" opacity="0.72"/><circle cx="410.5" cy="193.1" r="2.0" fill="#b83636" opacity="0.58"/><circle cx="387.1" cy="199.1" r="2.3" fill="#b83636" opacity="0.67"/><circle cx="410.8" cy="202.9" r="2.1" fill="#b83636" opacity="0.45"/><circle cx="406.8" cy="204.8" r="2.3" fill="#b83636" opacity="0.65"/><circle cx="258.4" cy="198.0" r="2.3" fill="#b83636" opacity="0.65"/><circle cx="380.6" cy="202.4" r="2.2" fill="#b83636" opacity="0.51"/><circle cx="376.4" cy="211.8" r="1.9" fill="#b83636" opacity="0.78"/><circle cx="407.7" cy="194.9" r="1.8" fill="#b83636" opacity="0.70"/>
<path d="M346.7 197.3L344.5 198.3M373.0 201.7L375.0 204.0M293.0 197.0L290.8 198.2M303.8 200.4L303.9 202.7M368.3 194.7L370.5 196.5M346.4 188.2L348.5 190.3M353.1 203.5L354.4 205.6M347.1 213.4L345.0 215.2M354.0 215.7L352.8 218.2M311.1 196.8L311.0 199.7M333.9 211.2L333.1 213.4M328.6 203.2L328.3 206.0M328.8 202.9L327.8 205.6M315.6 202.6L317.4 204.6M349.3 212.3L347.1 213.2M381.1 207.0L378.8 207.3M329.3 197.7L327.1 199.2M337.7 222.3L335.3 222.6M306.9 190.7L308.6 192.9M352.4 211.1L352.8 213.5M330.2 202.4L327.8 203.3M365.5 200.0L367.9 200.3M310.9 202.8L311.1 205.2M327.4 208.0L324.5 208.6M306.0 201.3L306.9 203.5M338.2 218.9L336.8 221.1M291.4 208.3L292.5 210.7M363.1 211.2L360.1 211.3M310.3 202.0L311.0 205.0M302.1 195.6L299.5 196.6M305.3 199.3L303.1 200.8M309.4 202.6L310.3 205.5M368.3 211.4L365.9 211.6M333.8 202.4L331.2 202.5M335.5 211.2L337.0 213.0M323.4 205.7L325.6 207.1M345.7 184.6L347.0 187.0M365.0 197.7L362.9 198.5M303.6 196.0L301.8 198.3M351.6 214.9L350.0 217.2M321.6 213.8L320.6 215.9M369.2 195.6L367.3 197.4M302.6 204.7L303.0 207.3M375.9 201.1L378.2 201.2M374.6 213.4L372.1 213.7M360.6 194.7L360.4 197.4M331.4 210.4L329.0 211.2M356.9 199.2L356.0 201.4M330.2 189.6L332.4 190.5" stroke="#4a56cc" stroke-width="1.35" stroke-linecap="round" fill="none"/>
<path d="M308.1 198.0L310.4 198.6M351.2 187.4L350.9 190.2M333.6 219.1L336.5 219.7M342.5 216.6L342.6 219.2M377.9 196.4L375.7 197.5M375.6 201.3L373.3 202.3M318.6 207.3L319.3 210.0M367.3 198.5L366.1 200.6M348.7 190.9L346.2 192.5M371.2 212.2L370.5 214.3M327.3 187.0L325.3 188.2M350.0 199.7L352.6 199.8M328.4 189.7L329.9 191.6M326.6 189.7L327.6 192.0M345.6 186.9L344.7 189.0M291.3 203.0L294.0 203.2M300.0 193.4L297.5 194.6M361.7 213.6L361.9 216.4M359.4 199.9L362.0 200.7M307.8 217.9L306.7 220.2M359.1 210.3L362.0 210.9M337.3 217.9L338.0 220.0M363.3 206.5L361.0 207.1M320.5 199.8L321.7 201.7M368.7 198.5L366.5 200.5M305.3 217.4L303.0 218.6M293.0 203.2L291.0 205.1M310.9 188.5L309.2 190.2M356.8 207.9L354.4 209.0M321.6 202.3L323.5 203.8M345.6 184.7L345.8 187.3M321.1 218.4L319.2 220.1M351.0 214.4L349.3 216.0M322.5 185.6L320.8 187.2M349.5 200.9L347.5 202.1M347.9 189.0L349.6 191.3M308.1 190.0L310.7 190.1M336.1 219.4L333.2 220.0M318.0 200.4L319.8 201.9M380.1 204.4L381.2 206.5M319.7 203.6L322.3 204.6M303.6 217.2L301.6 218.9M312.1 216.3L310.8 218.5M322.5 219.9L320.0 220.4M310.1 206.7L307.4 206.7M344.7 201.6L342.5 202.7M350.9 200.7L352.3 203.0M352.9 209.2L353.4 212.0M346.7 190.2L348.9 192.1M320.2 201.5L318.0 202.4M366.4 191.2L367.1 193.6" stroke="#5d68d8" stroke-width="1.35" stroke-linecap="round" fill="none"/>
<path d="M366.8 207.4L364.1 208.7M342.1 191.8L341.5 194.2M340.3 195.2L341.8 197.0M301.8 197.8L300.2 200.0M325.9 185.2L326.6 187.9M316.8 191.8L314.6 191.9M339.6 196.2L338.6 199.0M338.5 187.6L340.8 189.3M325.5 219.2L324.9 221.9M376.3 198.5L376.2 200.7M304.8 201.5L301.9 202.3M372.9 199.4L371.2 201.4M290.2 208.8L289.6 211.5M352.1 190.6L352.0 193.6M317.8 203.2L316.7 206.0M378.4 202.3L376.9 204.3M360.1 212.9L357.7 213.1M335.9 191.7L333.4 192.0M362.9 189.4L361.0 191.3M328.2 215.4L325.8 215.8M330.3 201.0L332.6 201.7M352.2 202.1L353.2 204.4M334.3 203.2L335.1 205.5M368.3 191.2L365.8 191.6M304.6 191.0L302.6 193.1M341.1 201.8L340.0 203.8M352.1 218.1L350.2 219.4M299.4 199.8L299.6 202.2M341.3 206.6L341.6 208.8M301.2 197.2L303.1 199.0M332.1 191.4L334.4 191.9M304.7 200.8L304.3 203.0M312.0 204.2L310.3 206.0M342.3 221.3L344.9 221.5M342.0 194.3L344.1 195.1M315.7 193.0L314.5 195.4M352.4 196.5L350.4 198.6M362.4 196.1L363.0 198.6M330.4 217.0L328.1 218.7M339.3 191.2L339.7 194.2M297.9 204.7L295.8 205.9M316.1 213.8L317.2 215.8M304.6 218.0L307.3 219.0M341.9 191.4L340.1 192.9M291.6 197.5L289.4 198.3M327.0 219.3L324.9 220.6M296.7 209.2L297.8 211.3M308.6 198.8L310.9 200.6M305.3 198.3L305.5 201.2M299.8 196.8L297.4 196.9M336.8 189.0L338.6 190.7M353.1 212.3L352.3 214.4M326.5 219.5L329.4 219.6M349.5 219.8L352.3 220.8M369.0 207.2L366.1 207.9M355.5 214.4L354.8 216.8M315.2 211.8L317.3 213.0" stroke="#747ce0" stroke-width="1.35" stroke-linecap="round" fill="none"/>
<path d="M347.4 198.2L344.7 199.0M345.2 207.2L345.7 209.4M353.8 195.5L356.1 197.1M297.3 215.7L300.0 216.1M376.1 196.3L378.7 196.3M348.1 218.5L345.8 219.6M348.6 202.6L351.1 203.8M359.5 188.3L361.3 190.5M321.7 213.6L319.6 215.8M357.7 214.4L356.0 215.9M305.2 192.9L307.1 194.8M319.7 191.1L319.2 193.8M348.3 204.3L346.5 205.7M352.1 196.3L350.4 198.2M341.7 187.5L344.4 188.2M371.3 200.0L369.3 201.5M351.8 204.8L349.8 206.7M347.5 200.4L349.3 202.1M309.9 217.0L308.1 219.2M301.0 202.5L302.7 204.1M297.2 196.4L296.4 199.1M305.2 210.7L304.2 213.3M359.8 206.0L361.8 207.9M330.0 195.1L331.9 196.6M366.8 194.2L368.6 196.0M327.6 184.8L329.8 185.1M327.5 198.9L329.1 200.4M342.1 188.8L344.1 189.9M330.0 204.7L329.5 207.5M365.2 201.9L362.7 202.9M362.2 204.8L365.0 205.6M366.9 210.5L366.3 213.3M316.9 200.5L318.5 202.9M355.3 214.8L356.4 217.0M315.8 217.4L314.1 218.9M333.2 213.9L332.0 216.6M309.6 217.9L312.4 218.5M337.6 202.1L338.0 205.0M376.1 203.1L378.4 204.7M356.1 220.0L353.9 220.6M310.6 209.8L311.0 212.5M350.9 216.3L352.3 218.2M361.7 192.7L361.4 195.0M366.7 198.9L365.7 200.9M343.3 212.8L341.1 213.6M298.6 213.5L299.3 215.8M311.1 206.1L309.2 208.1M302.6 191.7L299.8 191.8M318.1 200.1L320.8 200.3M335.5 193.9L334.0 196.5M311.5 207.4L311.0 209.8M364.1 210.9L365.6 212.7M329.9 195.5L332.2 195.7M296.3 205.4L293.4 205.8M303.4 213.3L304.2 216.0M343.2 213.3L345.8 214.7" stroke="#3a46c0" stroke-width="1.35" stroke-linecap="round" fill="none"/>
<path d="M329.0 193.4L329.6 196.2M349.8 196.6L347.8 198.0M354.8 192.5L353.1 194.7M313.4 219.1L312.6 221.4M365.5 202.5L366.6 204.6M355.4 186.5L357.0 188.4M299.7 213.9L301.8 215.1M310.2 210.1L310.3 212.7M329.5 200.2L330.7 202.4M344.4 205.3L341.8 206.6M333.3 185.7L331.1 186.3M343.0 185.0L343.9 187.4M336.5 201.2L335.0 203.1M297.4 202.0L299.2 204.4M331.3 196.3L332.7 198.7M376.5 197.2L373.6 197.5M305.9 207.9L304.2 209.4M320.1 192.1L319.3 194.9M354.0 217.4L353.2 220.1M372.0 206.8L369.6 206.9M336.6 199.2L338.9 201.0M331.9 193.4L329.2 194.1M331.8 220.8L333.7 222.1M353.4 203.1L354.7 205.1M348.5 206.2L346.5 207.5M339.9 219.7L340.5 222.3M324.4 210.1L322.8 212.1M294.0 208.5L292.3 210.1M303.5 199.8L301.1 200.8M339.5 196.2L337.4 197.4M310.9 186.2L313.5 186.7M329.0 193.3L329.8 196.0M306.9 206.1L308.8 208.0M348.8 210.3L349.4 212.5M297.2 190.1L299.9 190.7M357.8 208.3L356.5 210.1M338.8 198.7L336.8 200.1M339.5 213.1L339.2 215.7M310.1 187.5L307.4 188.5M308.8 196.6L308.0 198.7M375.4 201.6L376.6 203.6M372.5 208.4L374.5 209.9M302.8 198.3L301.7 200.4M362.7 192.8L361.4 195.1M285.8 204.1L286.3 206.8M312.9 198.5L314.5 200.7M299.5 190.2L300.1 192.4M340.3 218.3L342.3 220.2M333.1 196.4L333.8 199.2M355.2 188.2L353.9 190.2M360.0 211.6L359.9 213.8M371.1 205.9L368.7 207.5M348.5 201.8L350.0 203.8M354.5 208.6L355.4 211.1M316.6 188.6L314.2 189.7M363.9 193.3L364.3 195.8" stroke="#8c92e8" stroke-width="1.35" stroke-linecap="round" fill="none"/>
<circle cx="302.2" cy="194.0" r="2.0" fill="#9a1632" opacity="0.9"/><circle cx="330.2" cy="197.0" r="1.9" fill="#9a1632" opacity="0.9"/><circle cx="340.3" cy="205.3" r="2.0" fill="#a82038" opacity="0.9"/><circle cx="315.0" cy="208.4" r="1.9" fill="#7a0a22" opacity="0.9"/><circle cx="330.0" cy="196.6" r="1.7" fill="#a82038" opacity="0.9"/><circle cx="335.5" cy="196.7" r="1.8" fill="#a82038" opacity="0.9"/><circle cx="369.3" cy="198.1" r="2.0" fill="#a82038" opacity="0.9"/><circle cx="361.3" cy="202.4" r="1.8" fill="#a82038" opacity="0.9"/><circle cx="317.8" cy="194.3" r="1.7" fill="#8a0c2a" opacity="0.9"/><circle cx="339.7" cy="205.9" r="1.7" fill="#8a0c2a" opacity="0.9"/><circle cx="324.0" cy="198.3" r="1.9" fill="#8a0c2a" opacity="0.9"/><circle cx="311.9" cy="195.7" r="2.0" fill="#a82038" opacity="0.9"/><circle cx="318.8" cy="197.0" r="1.7" fill="#7a0a22" opacity="0.9"/><circle cx="315.8" cy="190.8" r="2.0" fill="#8a0c2a" opacity="0.9"/><circle cx="349.7" cy="197.9" r="1.9" fill="#8a0c2a" opacity="0.9"/><circle cx="308.8" cy="205.9" r="1.6" fill="#9a1632" opacity="0.9"/><circle cx="324.2" cy="203.2" r="2.2" fill="#a82038" opacity="0.9"/><circle cx="339.2" cy="194.2" r="1.8" fill="#7a0a22" opacity="0.9"/><circle cx="343.1" cy="201.2" r="1.9" fill="#a82038" opacity="0.9"/><circle cx="309.1" cy="209.2" r="2.2" fill="#9a1632" opacity="0.9"/><circle cx="373.0" cy="197.4" r="1.8" fill="#7a0a22" opacity="0.9"/><circle cx="348.0" cy="194.0" r="1.8" fill="#8a0c2a" opacity="0.9"/><circle cx="292.1" cy="199.3" r="1.7" fill="#7a0a22" opacity="0.9"/><circle cx="303.5" cy="209.0" r="1.8" fill="#8a0c2a" opacity="0.9"/><circle cx="342.3" cy="192.8" r="2.1" fill="#a82038" opacity="0.9"/><circle cx="309.4" cy="193.3" r="1.8" fill="#8a0c2a" opacity="0.9"/><circle cx="332.0" cy="212.0" r="2.0" fill="#a82038" opacity="0.9"/><circle cx="363.2" cy="207.6" r="2.0" fill="#a82038" opacity="0.9"/><circle cx="354.5" cy="209.2" r="2.1" fill="#a82038" opacity="0.9"/><circle cx="360.5" cy="200.4" r="1.7" fill="#7a0a22" opacity="0.9"/><circle cx="327.9" cy="189.9" r="1.6" fill="#9a1632" opacity="0.9"/><circle cx="346.6" cy="206.7" r="1.7" fill="#9a1632" opacity="0.9"/><circle cx="356.3" cy="205.6" r="2.1" fill="#7a0a22" opacity="0.9"/><circle cx="354.4" cy="196.4" r="1.9" fill="#9a1632" opacity="0.9"/><circle cx="298.1" cy="195.5" r="1.9" fill="#a82038" opacity="0.9"/><circle cx="336.3" cy="208.6" r="2.1" fill="#7a0a22" opacity="0.9"/><circle cx="336.5" cy="203.5" r="1.9" fill="#9a1632" opacity="0.9"/><circle cx="317.2" cy="207.0" r="1.9" fill="#a82038" opacity="0.9"/><circle cx="307.1" cy="193.6" r="1.8" fill="#7a0a22" opacity="0.9"/><circle cx="328.6" cy="204.4" r="1.9" fill="#9a1632" opacity="0.9"/><circle cx="348.7" cy="211.3" r="1.9" fill="#7a0a22" opacity="0.9"/><circle cx="314.7" cy="209.5" r="2.0" fill="#9a1632" opacity="0.9"/>
</svg></body></html>
